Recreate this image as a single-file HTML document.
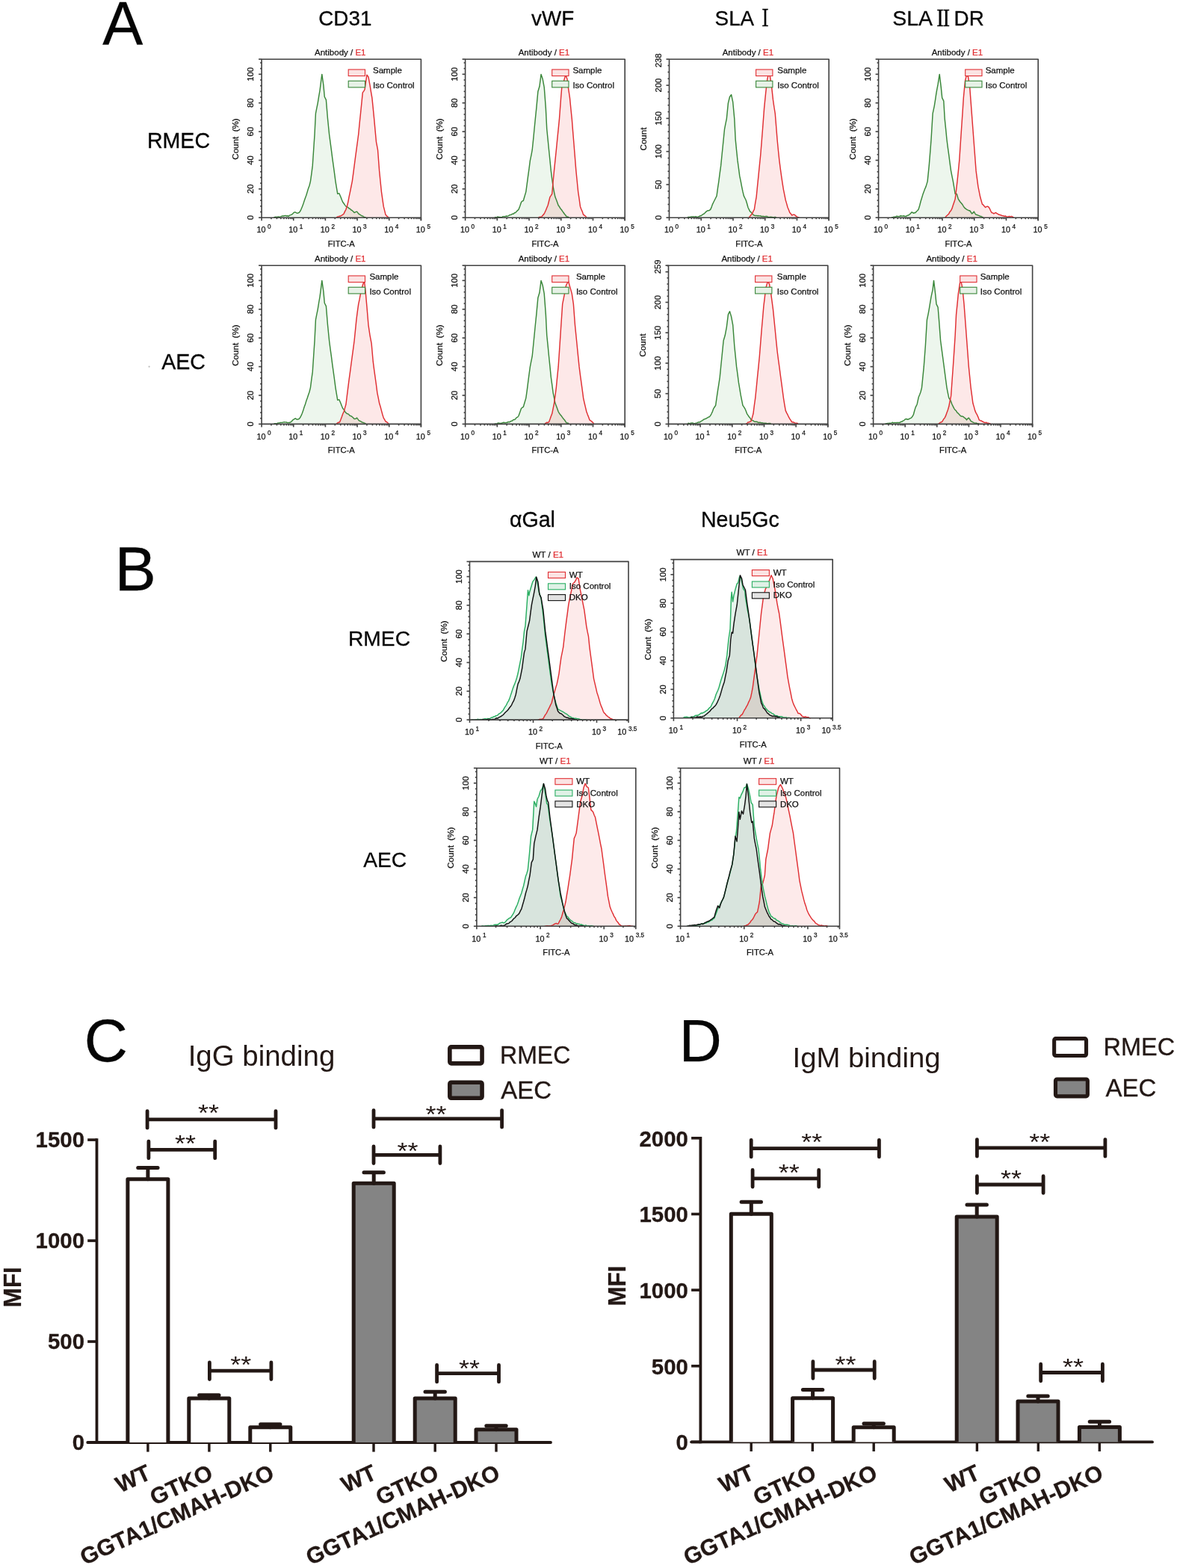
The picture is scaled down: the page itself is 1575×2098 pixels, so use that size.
<!DOCTYPE html>
<html><head><meta charset="utf-8"><title>Figure</title>
<style>html,body{margin:0;padding:0;background:#fff;}svg{display:block;}</style></head>
<body><svg width="1575" height="2098" viewBox="0 0 1575 2098">
<rect width="1575" height="2098" fill="#fff"/>
<g font-family='Liberation Sans, Arial, Helvetica, sans-serif' fill="#050505" stroke="#050505" stroke-width="0.3">
<text x="137.3" y="59.2" font-size="81">A</text>
<text x="153.4" y="790" font-size="83">B</text>
<text x="112.8" y="1419.8" font-size="80.5">C</text>
<text x="908.8" y="1420" font-size="79">D</text>
<text x="426.3" y="33.8" font-size="27.8">CD31</text>
<text x="711" y="33.8" font-size="27.8">vWF</text>
<text x="956.6" y="33.8" font-size="27.8">SLA</text>
<text transform="translate(1014 35) scale(0.66 1)" font-family="'Noto Serif CJK SC', serif" font-weight="600" font-size="30.3">&#x2160;</text>
<text x="1194.3" y="33.9" font-size="28.4">SLA</text>
<text transform="translate(1250.3 34.7) scale(0.81 1)" font-family="'Noto Serif CJK SC', serif" font-weight="600" font-size="29.5">&#x2161;</text>
<text x="1276.6" y="33.9" font-size="27.8">DR</text>
<text x="196.9" y="198" font-size="28.6">RMEC</text>
<text x="216.2" y="493.7" font-size="28.6">AEC</text>
<text x="681.9" y="705.3" font-size="28.6">&#x3b1;Gal</text>
<text x="937.9" y="705.3" font-size="28.6">Neu5Gc</text>
<text x="466" y="863.7" font-size="28.2">RMEC</text>
<text x="486.2" y="1159.9" font-size="28.2">AEC</text>
</g>
<g>
<path d="M366.56 290.81 L367.95 290.5 L369.35 290.19 L370.75 290.63 L372.14 289.87 L373.54 290.27 L374.94 290.11 L376.33 289.61 L377.73 288.93 L379.13 289.07 L380.52 288.71 L381.92 288.38 L383.32 288.99 L384.71 288.76 L386.11 289.41 L387.51 288.09 L388.9 287.58 L390.3 287.15 L391.7 285.92 L393.1 284.46 L394.49 283.83 L395.89 284.22 L397.29 285.22 L398.68 285.01 L400.08 284.52 L401.48 282.92 L402.87 280.33 L404.27 276.93 L405.67 273.35 L407.06 269.05 L408.46 264.97 L409.86 261.3 L411.25 256.59 L412.65 251.9 L414.05 248.21 L415.44 242.62 L416.84 232.54 L418.24 221.67 L419.63 200.71 L421.03 179.76 L422.43 151.83 L423.83 144.61 L425.22 137.86 L426.62 129.08 L428.02 121.1 L429.41 109.85 L430.81 99.44 L432.9 114.11 L434.3 129.48 L436.4 133.67 L438.49 158.81 L440.59 179.76 L441.98 190.03 L443.38 200.71 L444.78 211.54 L446.17 221.67 L447.57 231.79 L448.97 242.62 L450.37 251.09 L451.76 259.38 L453.86 258.68 L455.95 263.57 L457.35 267.22 L458.75 270.56 L460.14 272.28 L461.54 274.33 L462.94 276.14 L464.33 276.59 L465.73 277.52 L467.13 278.94 L468.52 279.54 L469.92 281 L471.32 281.73 L472.71 283.05 L474.11 284.52 L475.86 283.62 L477.6 283.13 L479.7 285.92 L481.1 286.95 L482.49 287.73 L483.89 288.71 L485.29 289.02 L486.68 290.09 L488.08 290.5 L489.48 290.81 L489.48 291.2 L366.56 291.2 Z" fill="#3a9a3a" fill-opacity="0.09" stroke="none"/>
<path d="M450.37 290.81 L451.76 289.97 L453.16 289.77 L454.56 289.16 L455.95 288.99 L457.35 288.02 L458.75 287.22 L460.14 285.92 L461.54 282.89 L462.94 280.33 L464.33 275.97 L465.73 270.56 L467.13 263.15 L468.52 256.59 L469.92 249.51 L471.32 242.62 L472.71 232.43 L474.11 221.67 L475.51 210.81 L476.9 200.71 L478.3 190.23 L479.7 179.76 L481.1 165.29 L482.49 151.83 L483.89 138.04 L485.29 123.89 L486.68 122.08 L488.08 119.7 L489.48 110 L490.87 100.14 L492.97 102.94 L495.06 114.11 L496.46 122.91 L497.86 130.87 L499.25 144.64 L500.65 158.81 L502.05 174.39 L503.44 189.54 L505.54 200.71 L507.63 228.65 L509.03 242.72 L510.43 256.59 L511.83 266.45 L513.22 276.14 L514.62 281.68 L516.02 287.32 L517.41 288.86 L518.81 290.13 L520.21 290.81 L520.21 291.2 L450.37 291.2 Z" fill="#f04040" fill-opacity="0.12" stroke="none"/>
<path d="M366.56 290.81 L367.95 290.5 L369.35 290.19 L370.75 290.63 L372.14 289.87 L373.54 290.27 L374.94 290.11 L376.33 289.61 L377.73 288.93 L379.13 289.07 L380.52 288.71 L381.92 288.38 L383.32 288.99 L384.71 288.76 L386.11 289.41 L387.51 288.09 L388.9 287.58 L390.3 287.15 L391.7 285.92 L393.1 284.46 L394.49 283.83 L395.89 284.22 L397.29 285.22 L398.68 285.01 L400.08 284.52 L401.48 282.92 L402.87 280.33 L404.27 276.93 L405.67 273.35 L407.06 269.05 L408.46 264.97 L409.86 261.3 L411.25 256.59 L412.65 251.9 L414.05 248.21 L415.44 242.62 L416.84 232.54 L418.24 221.67 L419.63 200.71 L421.03 179.76 L422.43 151.83 L423.83 144.61 L425.22 137.86 L426.62 129.08 L428.02 121.1 L429.41 109.85 L430.81 99.44 L432.9 114.11 L434.3 129.48 L436.4 133.67 L438.49 158.81 L440.59 179.76 L441.98 190.03 L443.38 200.71 L444.78 211.54 L446.17 221.67 L447.57 231.79 L448.97 242.62 L450.37 251.09 L451.76 259.38 L453.86 258.68 L455.95 263.57 L457.35 267.22 L458.75 270.56 L460.14 272.28 L461.54 274.33 L462.94 276.14 L464.33 276.59 L465.73 277.52 L467.13 278.94 L468.52 279.54 L469.92 281 L471.32 281.73 L472.71 283.05 L474.11 284.52 L475.86 283.62 L477.6 283.13 L479.7 285.92 L481.1 286.95 L482.49 287.73 L483.89 288.71 L485.29 289.02 L486.68 290.09 L488.08 290.5 L489.48 290.81" fill="none" stroke="#3a873a" stroke-width="1.45" stroke-linejoin="round"/>
<path d="M450.37 290.81 L451.76 289.97 L453.16 289.77 L454.56 289.16 L455.95 288.99 L457.35 288.02 L458.75 287.22 L460.14 285.92 L461.54 282.89 L462.94 280.33 L464.33 275.97 L465.73 270.56 L467.13 263.15 L468.52 256.59 L469.92 249.51 L471.32 242.62 L472.71 232.43 L474.11 221.67 L475.51 210.81 L476.9 200.71 L478.3 190.23 L479.7 179.76 L481.1 165.29 L482.49 151.83 L483.89 138.04 L485.29 123.89 L486.68 122.08 L488.08 119.7 L489.48 110 L490.87 100.14 L492.97 102.94 L495.06 114.11 L496.46 122.91 L497.86 130.87 L499.25 144.64 L500.65 158.81 L502.05 174.39 L503.44 189.54 L505.54 200.71 L507.63 228.65 L509.03 242.72 L510.43 256.59 L511.83 266.45 L513.22 276.14 L514.62 281.68 L516.02 287.32 L517.41 288.86 L518.81 290.13 L520.21 290.81" fill="none" stroke="#e02f33" stroke-width="1.45" stroke-linejoin="round"/>
<rect x="466.2" y="93" width="22.3" height="8.6" fill="#fbe3e3" stroke="#e02f33" stroke-width="1.1"/>
<rect x="466.2" y="108.3" width="22.3" height="8.6" fill="#e6f1e6" stroke="#3a873a" stroke-width="1.1"/>
<g font-family='Liberation Sans, Arial, Helvetica, sans-serif' fill="#111111" font-size="11.5" stroke="#111111" stroke-width="0.25">
<text x="499" y="97.8">Sample</text>
<text x="499" y="117.7">Iso Control</text>
</g>
<g stroke="#404040" stroke-width="1.6" fill="none" stroke-linejoin="round">
<rect x="350.1" y="79.2" width="213.3" height="212"/>
<line x1="346.1" y1="291.2" x2="350.1" y2="291.2"/><line x1="348.1" y1="283.53" x2="350.1" y2="283.53"/><line x1="348.1" y1="275.85" x2="350.1" y2="275.85"/><line x1="348.1" y1="268.18" x2="350.1" y2="268.18"/><line x1="348.1" y1="260.5" x2="350.1" y2="260.5"/><line x1="346.1" y1="252.83" x2="350.1" y2="252.83"/><line x1="348.1" y1="245.15" x2="350.1" y2="245.15"/><line x1="348.1" y1="237.48" x2="350.1" y2="237.48"/><line x1="348.1" y1="229.81" x2="350.1" y2="229.81"/><line x1="348.1" y1="222.13" x2="350.1" y2="222.13"/><line x1="346.1" y1="214.46" x2="350.1" y2="214.46"/><line x1="348.1" y1="206.78" x2="350.1" y2="206.78"/><line x1="348.1" y1="199.11" x2="350.1" y2="199.11"/><line x1="348.1" y1="191.44" x2="350.1" y2="191.44"/><line x1="348.1" y1="183.76" x2="350.1" y2="183.76"/><line x1="346.1" y1="176.09" x2="350.1" y2="176.09"/><line x1="348.1" y1="168.41" x2="350.1" y2="168.41"/><line x1="348.1" y1="160.74" x2="350.1" y2="160.74"/><line x1="348.1" y1="153.06" x2="350.1" y2="153.06"/><line x1="348.1" y1="145.39" x2="350.1" y2="145.39"/><line x1="346.1" y1="137.72" x2="350.1" y2="137.72"/><line x1="348.1" y1="130.04" x2="350.1" y2="130.04"/><line x1="348.1" y1="122.37" x2="350.1" y2="122.37"/><line x1="348.1" y1="114.69" x2="350.1" y2="114.69"/><line x1="348.1" y1="107.02" x2="350.1" y2="107.02"/><line x1="346.1" y1="99.34" x2="350.1" y2="99.34"/><line x1="348.1" y1="91.67" x2="350.1" y2="91.67"/><line x1="348.1" y1="84" x2="350.1" y2="84"/><line x1="346.1" y1="79.2" x2="350.1" y2="79.2"/><line x1="350.1" y1="291.2" x2="350.1" y2="295.2"/><line x1="362.94" y1="291.2" x2="362.94" y2="293.2"/><line x1="370.45" y1="291.2" x2="370.45" y2="293.2"/><line x1="375.78" y1="291.2" x2="375.78" y2="293.2"/><line x1="379.92" y1="291.2" x2="379.92" y2="293.2"/><line x1="383.3" y1="291.2" x2="383.3" y2="293.2"/><line x1="386.15" y1="291.2" x2="386.15" y2="293.2"/><line x1="388.63" y1="291.2" x2="388.63" y2="293.2"/><line x1="390.81" y1="291.2" x2="390.81" y2="293.2"/><line x1="392.76" y1="291.2" x2="392.76" y2="295.2"/><line x1="405.6" y1="291.2" x2="405.6" y2="293.2"/><line x1="413.11" y1="291.2" x2="413.11" y2="293.2"/><line x1="418.44" y1="291.2" x2="418.44" y2="293.2"/><line x1="422.58" y1="291.2" x2="422.58" y2="293.2"/><line x1="425.96" y1="291.2" x2="425.96" y2="293.2"/><line x1="428.81" y1="291.2" x2="428.81" y2="293.2"/><line x1="431.29" y1="291.2" x2="431.29" y2="293.2"/><line x1="433.47" y1="291.2" x2="433.47" y2="293.2"/><line x1="435.42" y1="291.2" x2="435.42" y2="295.2"/><line x1="448.26" y1="291.2" x2="448.26" y2="293.2"/><line x1="455.77" y1="291.2" x2="455.77" y2="293.2"/><line x1="461.1" y1="291.2" x2="461.1" y2="293.2"/><line x1="465.24" y1="291.2" x2="465.24" y2="293.2"/><line x1="468.62" y1="291.2" x2="468.62" y2="293.2"/><line x1="471.47" y1="291.2" x2="471.47" y2="293.2"/><line x1="473.95" y1="291.2" x2="473.95" y2="293.2"/><line x1="476.13" y1="291.2" x2="476.13" y2="293.2"/><line x1="478.08" y1="291.2" x2="478.08" y2="295.2"/><line x1="490.92" y1="291.2" x2="490.92" y2="293.2"/><line x1="498.43" y1="291.2" x2="498.43" y2="293.2"/><line x1="503.76" y1="291.2" x2="503.76" y2="293.2"/><line x1="507.9" y1="291.2" x2="507.9" y2="293.2"/><line x1="511.28" y1="291.2" x2="511.28" y2="293.2"/><line x1="514.13" y1="291.2" x2="514.13" y2="293.2"/><line x1="516.61" y1="291.2" x2="516.61" y2="293.2"/><line x1="518.79" y1="291.2" x2="518.79" y2="293.2"/><line x1="520.74" y1="291.2" x2="520.74" y2="295.2"/><line x1="533.58" y1="291.2" x2="533.58" y2="293.2"/><line x1="541.09" y1="291.2" x2="541.09" y2="293.2"/><line x1="546.42" y1="291.2" x2="546.42" y2="293.2"/><line x1="550.56" y1="291.2" x2="550.56" y2="293.2"/><line x1="553.94" y1="291.2" x2="553.94" y2="293.2"/><line x1="556.79" y1="291.2" x2="556.79" y2="293.2"/><line x1="559.27" y1="291.2" x2="559.27" y2="293.2"/><line x1="561.45" y1="291.2" x2="561.45" y2="293.2"/><line x1="563.4" y1="291.2" x2="563.4" y2="295.2"/><line x1="563.4" y1="291.2" x2="563.4" y2="295.2"/>
</g>
<g font-family='Liberation Sans, Arial, Helvetica, sans-serif' fill="#111111" stroke="#111111" stroke-width="0.25">
<text x="339.4" y="291.2" transform="rotate(-90 339.4 291.2)" text-anchor="middle" font-size="11.3">0</text><text x="339.4" y="252.83" transform="rotate(-90 339.4 252.83)" text-anchor="middle" font-size="11.3">20</text><text x="339.4" y="214.46" transform="rotate(-90 339.4 214.46)" text-anchor="middle" font-size="11.3">40</text><text x="339.4" y="176.09" transform="rotate(-90 339.4 176.09)" text-anchor="middle" font-size="11.3">60</text><text x="339.4" y="137.72" transform="rotate(-90 339.4 137.72)" text-anchor="middle" font-size="11.3">80</text><text x="339.4" y="99.34" transform="rotate(-90 339.4 99.34)" text-anchor="middle" font-size="11.3">100</text><text x="343.5" y="311.4" font-size="10.8">10<tspan dx="2.6" dy="-5.2" font-size="8.2">0</tspan></text><text x="386.16" y="311.4" font-size="10.8">10<tspan dx="2.6" dy="-5.2" font-size="8.2">1</tspan></text><text x="428.82" y="311.4" font-size="10.8">10<tspan dx="2.6" dy="-5.2" font-size="8.2">2</tspan></text><text x="471.48" y="311.4" font-size="10.8">10<tspan dx="2.6" dy="-5.2" font-size="8.2">3</tspan></text><text x="514.14" y="311.4" font-size="10.8">10<tspan dx="2.6" dy="-5.2" font-size="8.2">4</tspan></text><text x="556.8" y="311.4" font-size="10.8">10<tspan dx="2.6" dy="-5.2" font-size="8.2">5</tspan></text><text x="456.75" y="330" text-anchor="middle" font-size="11.2">FITC-A</text><text x="319.4" y="186" transform="rotate(-90 319.4 186)" text-anchor="middle" font-size="11.6" xml:space="preserve">Count  (%)</text><text x="455.25" y="73.6" text-anchor="middle" font-size="11.5">Antibody / <tspan fill="#e02f33" stroke="#e02f33">E1</tspan></text>
</g>
</g>
<g>
<path d="M661.9 290.81 L663.3 290.66 L664.7 290.76 L666.1 289.98 L667.49 290.57 L668.89 290.39 L670.29 290.65 L671.68 290.35 L673.08 289.64 L674.48 289.64 L675.87 289.83 L677.27 289 L678.67 289.41 L680.06 288.85 L681.46 288 L682.86 287.42 L684.25 287.32 L685.65 286.13 L687.05 286.22 L688.44 284.81 L689.84 284.52 L691.24 282.85 L692.63 281.61 L694.03 280.33 L695.78 275.85 L697.52 270.56 L698.92 269.05 L700.32 268.46 L702.06 262.47 L703.81 256.59 L705.21 246.17 L706.6 235.63 L708 225.58 L709.4 214.68 L710.79 208.05 L712.19 200.71 L713.59 187.15 L714.98 172.78 L716.38 158.57 L717.78 144.84 L719.87 122.49 L721.97 115.51 L724.06 99.44 L726.16 105.73 L728.25 116.9 L730.35 144.84 L731.75 172.78 L733.14 186.65 L734.54 200.71 L735.94 214.53 L737.33 228.65 L738.73 239.55 L740.13 249.6 L741.52 257.09 L742.92 263.57 L744.32 266.91 L745.71 270.67 L747.11 274.75 L748.51 276.55 L749.9 278.94 L751.3 280.51 L752.7 282.64 L754.1 284.52 L755.49 286.48 L756.89 287.99 L758.29 290.11 L759.68 289.91 L761.08 290.81 L761.08 291.2 L661.9 291.2 Z" fill="#3a9a3a" fill-opacity="0.09" stroke="none"/>
<path d="M720.57 290.81 L721.97 290.49 L723.37 290.2 L724.76 290.11 L726.16 288.32 L727.56 286.88 L728.95 284.52 L730.35 281.47 L731.75 278.02 L733.14 274.75 L734.54 269.29 L735.94 263.57 L737.33 261.67 L738.73 259.38 L740.13 242.62 L741.52 228.16 L742.92 214.68 L744.32 201.15 L745.71 186.75 L747.11 173.09 L748.51 158.81 L750.6 130.87 L752 114.11 L753.4 114.81 L754.79 107.13 L756.89 100.14 L758.98 105.73 L760.38 116.9 L762.48 130.87 L763.87 145.25 L765.27 158.81 L766.67 176.6 L768.06 193.73 L769.46 211.07 L770.86 228.65 L772.25 242.51 L773.65 256.59 L775.05 265.93 L776.44 276.14 L777.84 280.02 L779.24 283.11 L780.63 287.32 L782.03 288.01 L783.43 289.33 L784.83 290.81 L784.83 291.2 L720.57 291.2 Z" fill="#f04040" fill-opacity="0.12" stroke="none"/>
<path d="M661.9 290.81 L663.3 290.66 L664.7 290.76 L666.1 289.98 L667.49 290.57 L668.89 290.39 L670.29 290.65 L671.68 290.35 L673.08 289.64 L674.48 289.64 L675.87 289.83 L677.27 289 L678.67 289.41 L680.06 288.85 L681.46 288 L682.86 287.42 L684.25 287.32 L685.65 286.13 L687.05 286.22 L688.44 284.81 L689.84 284.52 L691.24 282.85 L692.63 281.61 L694.03 280.33 L695.78 275.85 L697.52 270.56 L698.92 269.05 L700.32 268.46 L702.06 262.47 L703.81 256.59 L705.21 246.17 L706.6 235.63 L708 225.58 L709.4 214.68 L710.79 208.05 L712.19 200.71 L713.59 187.15 L714.98 172.78 L716.38 158.57 L717.78 144.84 L719.87 122.49 L721.97 115.51 L724.06 99.44 L726.16 105.73 L728.25 116.9 L730.35 144.84 L731.75 172.78 L733.14 186.65 L734.54 200.71 L735.94 214.53 L737.33 228.65 L738.73 239.55 L740.13 249.6 L741.52 257.09 L742.92 263.57 L744.32 266.91 L745.71 270.67 L747.11 274.75 L748.51 276.55 L749.9 278.94 L751.3 280.51 L752.7 282.64 L754.1 284.52 L755.49 286.48 L756.89 287.99 L758.29 290.11 L759.68 289.91 L761.08 290.81" fill="none" stroke="#3a873a" stroke-width="1.45" stroke-linejoin="round"/>
<path d="M720.57 290.81 L721.97 290.49 L723.37 290.2 L724.76 290.11 L726.16 288.32 L727.56 286.88 L728.95 284.52 L730.35 281.47 L731.75 278.02 L733.14 274.75 L734.54 269.29 L735.94 263.57 L737.33 261.67 L738.73 259.38 L740.13 242.62 L741.52 228.16 L742.92 214.68 L744.32 201.15 L745.71 186.75 L747.11 173.09 L748.51 158.81 L750.6 130.87 L752 114.11 L753.4 114.81 L754.79 107.13 L756.89 100.14 L758.98 105.73 L760.38 116.9 L762.48 130.87 L763.87 145.25 L765.27 158.81 L766.67 176.6 L768.06 193.73 L769.46 211.07 L770.86 228.65 L772.25 242.51 L773.65 256.59 L775.05 265.93 L776.44 276.14 L777.84 280.02 L779.24 283.11 L780.63 287.32 L782.03 288.01 L783.43 289.33 L784.83 290.81" fill="none" stroke="#e02f33" stroke-width="1.45" stroke-linejoin="round"/>
<rect x="738.7" y="93" width="22.3" height="8.6" fill="#fbe3e3" stroke="#e02f33" stroke-width="1.1"/>
<rect x="738.7" y="108.3" width="22.3" height="8.6" fill="#e6f1e6" stroke="#3a873a" stroke-width="1.1"/>
<g font-family='Liberation Sans, Arial, Helvetica, sans-serif' fill="#111111" font-size="11.5" stroke="#111111" stroke-width="0.25">
<text x="766.4" y="97.8">Sample</text>
<text x="766.4" y="117.7">Iso Control</text>
</g>
<g stroke="#404040" stroke-width="1.6" fill="none" stroke-linejoin="round">
<rect x="622.6" y="79.2" width="213.6" height="212"/>
<line x1="618.6" y1="291.2" x2="622.6" y2="291.2"/><line x1="620.6" y1="283.53" x2="622.6" y2="283.53"/><line x1="620.6" y1="275.85" x2="622.6" y2="275.85"/><line x1="620.6" y1="268.18" x2="622.6" y2="268.18"/><line x1="620.6" y1="260.5" x2="622.6" y2="260.5"/><line x1="618.6" y1="252.83" x2="622.6" y2="252.83"/><line x1="620.6" y1="245.15" x2="622.6" y2="245.15"/><line x1="620.6" y1="237.48" x2="622.6" y2="237.48"/><line x1="620.6" y1="229.81" x2="622.6" y2="229.81"/><line x1="620.6" y1="222.13" x2="622.6" y2="222.13"/><line x1="618.6" y1="214.46" x2="622.6" y2="214.46"/><line x1="620.6" y1="206.78" x2="622.6" y2="206.78"/><line x1="620.6" y1="199.11" x2="622.6" y2="199.11"/><line x1="620.6" y1="191.44" x2="622.6" y2="191.44"/><line x1="620.6" y1="183.76" x2="622.6" y2="183.76"/><line x1="618.6" y1="176.09" x2="622.6" y2="176.09"/><line x1="620.6" y1="168.41" x2="622.6" y2="168.41"/><line x1="620.6" y1="160.74" x2="622.6" y2="160.74"/><line x1="620.6" y1="153.06" x2="622.6" y2="153.06"/><line x1="620.6" y1="145.39" x2="622.6" y2="145.39"/><line x1="618.6" y1="137.72" x2="622.6" y2="137.72"/><line x1="620.6" y1="130.04" x2="622.6" y2="130.04"/><line x1="620.6" y1="122.37" x2="622.6" y2="122.37"/><line x1="620.6" y1="114.69" x2="622.6" y2="114.69"/><line x1="620.6" y1="107.02" x2="622.6" y2="107.02"/><line x1="618.6" y1="99.34" x2="622.6" y2="99.34"/><line x1="620.6" y1="91.67" x2="622.6" y2="91.67"/><line x1="620.6" y1="84" x2="622.6" y2="84"/><line x1="618.6" y1="79.2" x2="622.6" y2="79.2"/><line x1="622.6" y1="291.2" x2="622.6" y2="295.2"/><line x1="635.46" y1="291.2" x2="635.46" y2="293.2"/><line x1="642.98" y1="291.2" x2="642.98" y2="293.2"/><line x1="648.32" y1="291.2" x2="648.32" y2="293.2"/><line x1="652.46" y1="291.2" x2="652.46" y2="293.2"/><line x1="655.84" y1="291.2" x2="655.84" y2="293.2"/><line x1="658.7" y1="291.2" x2="658.7" y2="293.2"/><line x1="661.18" y1="291.2" x2="661.18" y2="293.2"/><line x1="663.37" y1="291.2" x2="663.37" y2="293.2"/><line x1="665.32" y1="291.2" x2="665.32" y2="295.2"/><line x1="678.18" y1="291.2" x2="678.18" y2="293.2"/><line x1="685.7" y1="291.2" x2="685.7" y2="293.2"/><line x1="691.04" y1="291.2" x2="691.04" y2="293.2"/><line x1="695.18" y1="291.2" x2="695.18" y2="293.2"/><line x1="698.56" y1="291.2" x2="698.56" y2="293.2"/><line x1="701.42" y1="291.2" x2="701.42" y2="293.2"/><line x1="703.9" y1="291.2" x2="703.9" y2="293.2"/><line x1="706.09" y1="291.2" x2="706.09" y2="293.2"/><line x1="708.04" y1="291.2" x2="708.04" y2="295.2"/><line x1="720.9" y1="291.2" x2="720.9" y2="293.2"/><line x1="728.42" y1="291.2" x2="728.42" y2="293.2"/><line x1="733.76" y1="291.2" x2="733.76" y2="293.2"/><line x1="737.9" y1="291.2" x2="737.9" y2="293.2"/><line x1="741.28" y1="291.2" x2="741.28" y2="293.2"/><line x1="744.14" y1="291.2" x2="744.14" y2="293.2"/><line x1="746.62" y1="291.2" x2="746.62" y2="293.2"/><line x1="748.81" y1="291.2" x2="748.81" y2="293.2"/><line x1="750.76" y1="291.2" x2="750.76" y2="295.2"/><line x1="763.62" y1="291.2" x2="763.62" y2="293.2"/><line x1="771.14" y1="291.2" x2="771.14" y2="293.2"/><line x1="776.48" y1="291.2" x2="776.48" y2="293.2"/><line x1="780.62" y1="291.2" x2="780.62" y2="293.2"/><line x1="784" y1="291.2" x2="784" y2="293.2"/><line x1="786.86" y1="291.2" x2="786.86" y2="293.2"/><line x1="789.34" y1="291.2" x2="789.34" y2="293.2"/><line x1="791.53" y1="291.2" x2="791.53" y2="293.2"/><line x1="793.48" y1="291.2" x2="793.48" y2="295.2"/><line x1="806.34" y1="291.2" x2="806.34" y2="293.2"/><line x1="813.86" y1="291.2" x2="813.86" y2="293.2"/><line x1="819.2" y1="291.2" x2="819.2" y2="293.2"/><line x1="823.34" y1="291.2" x2="823.34" y2="293.2"/><line x1="826.72" y1="291.2" x2="826.72" y2="293.2"/><line x1="829.58" y1="291.2" x2="829.58" y2="293.2"/><line x1="832.06" y1="291.2" x2="832.06" y2="293.2"/><line x1="834.25" y1="291.2" x2="834.25" y2="293.2"/><line x1="836.2" y1="291.2" x2="836.2" y2="295.2"/><line x1="836.2" y1="291.2" x2="836.2" y2="295.2"/>
</g>
<g font-family='Liberation Sans, Arial, Helvetica, sans-serif' fill="#111111" stroke="#111111" stroke-width="0.25">
<text x="611.9" y="291.2" transform="rotate(-90 611.9 291.2)" text-anchor="middle" font-size="11.3">0</text><text x="611.9" y="252.83" transform="rotate(-90 611.9 252.83)" text-anchor="middle" font-size="11.3">20</text><text x="611.9" y="214.46" transform="rotate(-90 611.9 214.46)" text-anchor="middle" font-size="11.3">40</text><text x="611.9" y="176.09" transform="rotate(-90 611.9 176.09)" text-anchor="middle" font-size="11.3">60</text><text x="611.9" y="137.72" transform="rotate(-90 611.9 137.72)" text-anchor="middle" font-size="11.3">80</text><text x="611.9" y="99.34" transform="rotate(-90 611.9 99.34)" text-anchor="middle" font-size="11.3">100</text><text x="616" y="311.4" font-size="10.8">10<tspan dx="2.6" dy="-5.2" font-size="8.2">0</tspan></text><text x="658.72" y="311.4" font-size="10.8">10<tspan dx="2.6" dy="-5.2" font-size="8.2">1</tspan></text><text x="701.44" y="311.4" font-size="10.8">10<tspan dx="2.6" dy="-5.2" font-size="8.2">2</tspan></text><text x="744.16" y="311.4" font-size="10.8">10<tspan dx="2.6" dy="-5.2" font-size="8.2">3</tspan></text><text x="786.88" y="311.4" font-size="10.8">10<tspan dx="2.6" dy="-5.2" font-size="8.2">4</tspan></text><text x="829.6" y="311.4" font-size="10.8">10<tspan dx="2.6" dy="-5.2" font-size="8.2">5</tspan></text><text x="729.4" y="330" text-anchor="middle" font-size="11.2">FITC-A</text><text x="591.9" y="186" transform="rotate(-90 591.9 186)" text-anchor="middle" font-size="11.6" xml:space="preserve">Count  (%)</text><text x="727.9" y="73.6" text-anchor="middle" font-size="11.5">Antibody / <tspan fill="#e02f33" stroke="#e02f33">E1</tspan></text>
</g>
</g>
<g>
<path d="M919.94 290.81 L921.33 290.37 L922.73 290.49 L924.13 290.11 L925.52 289.98 L926.92 290.08 L928.32 289.95 L929.71 290.17 L931.11 289.73 L932.51 290.59 L933.9 290.11 L935.3 289.77 L936.7 288.79 L938.1 288.71 L939.49 287.51 L940.89 286.68 L942.29 285.92 L943.68 284.37 L945.08 283.13 L946.48 282.01 L947.87 281.73 L949.27 281.42 L950.67 280.33 L952.06 277.38 L953.46 273.35 L954.86 270.52 L956.25 267.76 L957.65 264.95 L959.05 262.17 L960.44 251.94 L961.84 242.62 L963.24 231.71 L964.63 221.67 L966.03 207.53 L967.43 193.73 L969.52 172.78 L970.92 165.53 L972.32 158.81 L974.41 137.86 L976.51 129.48 L978.6 126.68 L980.7 136.46 L982.79 158.81 L984.19 186.75 L985.59 201.08 L986.98 214.68 L988.38 224.79 L989.78 235.63 L991.17 242.09 L992.57 249.6 L993.97 256.38 L995.37 262.17 L996.76 265 L998.16 267.76 L999.56 272.26 L1000.95 277.54 L1002.35 280.38 L1003.75 283.13 L1005.14 284 L1006.54 285.95 L1007.94 287.32 L1009.33 288.19 L1010.73 288.42 L1012.13 288.58 L1013.52 288.71 L1014.92 288.59 L1016.32 288.85 L1017.71 288.77 L1019.11 289.57 L1020.51 289.41 L1021.9 289.54 L1023.3 289.89 L1024.7 289.49 L1026.1 289.46 L1027.49 290.19 L1028.89 290.47 L1030.29 290.41 L1031.68 290.11 L1033.08 290.59 L1034.48 290.74 L1035.87 290.79 L1037.27 290.37 L1038.67 290.81 L1038.67 291.2 L919.94 291.2 Z" fill="#3a9a3a" fill-opacity="0.09" stroke="none"/>
<path d="M1002.35 290.81 L1003.75 289.2 L1005.14 287.39 L1006.54 285.92 L1007.94 282.61 L1009.33 280.33 L1010.73 271.43 L1012.13 263.57 L1013.52 249.36 L1014.92 235.63 L1016.32 221.4 L1017.71 207.7 L1019.11 190.45 L1020.51 172.78 L1022.6 144.84 L1024.7 123.89 L1026.79 105.73 L1028.19 100.14 L1030.29 101.54 L1032.38 114.11 L1034.48 133.67 L1035.87 143.25 L1037.27 151.83 L1038.67 169.23 L1040.06 186.75 L1041.46 201.2 L1042.86 214.68 L1044.25 225.7 L1045.65 235.63 L1047.05 245.21 L1048.44 253.79 L1049.84 260.63 L1051.24 267.76 L1052.63 272.34 L1054.03 277.54 L1055.43 280.73 L1056.83 284.52 L1058.22 285.94 L1059.62 288.02 L1061.37 287.34 L1063.11 287.32 L1064.86 288.85 L1066.6 290.11 L1068 290.9 L1069.4 290.81 L1069.4 291.2 L1002.35 291.2 Z" fill="#f04040" fill-opacity="0.12" stroke="none"/>
<path d="M919.94 290.81 L921.33 290.37 L922.73 290.49 L924.13 290.11 L925.52 289.98 L926.92 290.08 L928.32 289.95 L929.71 290.17 L931.11 289.73 L932.51 290.59 L933.9 290.11 L935.3 289.77 L936.7 288.79 L938.1 288.71 L939.49 287.51 L940.89 286.68 L942.29 285.92 L943.68 284.37 L945.08 283.13 L946.48 282.01 L947.87 281.73 L949.27 281.42 L950.67 280.33 L952.06 277.38 L953.46 273.35 L954.86 270.52 L956.25 267.76 L957.65 264.95 L959.05 262.17 L960.44 251.94 L961.84 242.62 L963.24 231.71 L964.63 221.67 L966.03 207.53 L967.43 193.73 L969.52 172.78 L970.92 165.53 L972.32 158.81 L974.41 137.86 L976.51 129.48 L978.6 126.68 L980.7 136.46 L982.79 158.81 L984.19 186.75 L985.59 201.08 L986.98 214.68 L988.38 224.79 L989.78 235.63 L991.17 242.09 L992.57 249.6 L993.97 256.38 L995.37 262.17 L996.76 265 L998.16 267.76 L999.56 272.26 L1000.95 277.54 L1002.35 280.38 L1003.75 283.13 L1005.14 284 L1006.54 285.95 L1007.94 287.32 L1009.33 288.19 L1010.73 288.42 L1012.13 288.58 L1013.52 288.71 L1014.92 288.59 L1016.32 288.85 L1017.71 288.77 L1019.11 289.57 L1020.51 289.41 L1021.9 289.54 L1023.3 289.89 L1024.7 289.49 L1026.1 289.46 L1027.49 290.19 L1028.89 290.47 L1030.29 290.41 L1031.68 290.11 L1033.08 290.59 L1034.48 290.74 L1035.87 290.79 L1037.27 290.37 L1038.67 290.81" fill="none" stroke="#3a873a" stroke-width="1.45" stroke-linejoin="round"/>
<path d="M1002.35 290.81 L1003.75 289.2 L1005.14 287.39 L1006.54 285.92 L1007.94 282.61 L1009.33 280.33 L1010.73 271.43 L1012.13 263.57 L1013.52 249.36 L1014.92 235.63 L1016.32 221.4 L1017.71 207.7 L1019.11 190.45 L1020.51 172.78 L1022.6 144.84 L1024.7 123.89 L1026.79 105.73 L1028.19 100.14 L1030.29 101.54 L1032.38 114.11 L1034.48 133.67 L1035.87 143.25 L1037.27 151.83 L1038.67 169.23 L1040.06 186.75 L1041.46 201.2 L1042.86 214.68 L1044.25 225.7 L1045.65 235.63 L1047.05 245.21 L1048.44 253.79 L1049.84 260.63 L1051.24 267.76 L1052.63 272.34 L1054.03 277.54 L1055.43 280.73 L1056.83 284.52 L1058.22 285.94 L1059.62 288.02 L1061.37 287.34 L1063.11 287.32 L1064.86 288.85 L1066.6 290.11 L1068 290.9 L1069.4 290.81" fill="none" stroke="#e02f33" stroke-width="1.45" stroke-linejoin="round"/>
<rect x="1011.6" y="93" width="22.3" height="8.6" fill="#fbe3e3" stroke="#e02f33" stroke-width="1.1"/>
<rect x="1011.6" y="108.3" width="22.3" height="8.6" fill="#e6f1e6" stroke="#3a873a" stroke-width="1.1"/>
<g font-family='Liberation Sans, Arial, Helvetica, sans-serif' fill="#111111" font-size="11.5" stroke="#111111" stroke-width="0.25">
<text x="1040.3" y="97.8">Sample</text>
<text x="1040.3" y="117.7">Iso Control</text>
</g>
<g stroke="#404040" stroke-width="1.6" fill="none" stroke-linejoin="round">
<rect x="895.5" y="79.2" width="213.7" height="212"/>
<line x1="891.5" y1="291.2" x2="895.5" y2="291.2"/><line x1="893.5" y1="282.35" x2="895.5" y2="282.35"/><line x1="893.5" y1="273.5" x2="895.5" y2="273.5"/><line x1="893.5" y1="264.64" x2="895.5" y2="264.64"/><line x1="893.5" y1="255.79" x2="895.5" y2="255.79"/><line x1="891.5" y1="246.94" x2="895.5" y2="246.94"/><line x1="893.5" y1="238.09" x2="895.5" y2="238.09"/><line x1="893.5" y1="229.24" x2="895.5" y2="229.24"/><line x1="893.5" y1="220.39" x2="895.5" y2="220.39"/><line x1="893.5" y1="211.53" x2="895.5" y2="211.53"/><line x1="891.5" y1="202.68" x2="895.5" y2="202.68"/><line x1="893.5" y1="193.83" x2="895.5" y2="193.83"/><line x1="893.5" y1="184.98" x2="895.5" y2="184.98"/><line x1="893.5" y1="176.13" x2="895.5" y2="176.13"/><line x1="893.5" y1="167.28" x2="895.5" y2="167.28"/><line x1="891.5" y1="158.42" x2="895.5" y2="158.42"/><line x1="893.5" y1="149.57" x2="895.5" y2="149.57"/><line x1="893.5" y1="140.72" x2="895.5" y2="140.72"/><line x1="893.5" y1="131.87" x2="895.5" y2="131.87"/><line x1="893.5" y1="123.02" x2="895.5" y2="123.02"/><line x1="891.5" y1="114.16" x2="895.5" y2="114.16"/><line x1="893.5" y1="105.31" x2="895.5" y2="105.31"/><line x1="893.5" y1="96.46" x2="895.5" y2="96.46"/><line x1="893.5" y1="87.61" x2="895.5" y2="87.61"/><line x1="891.5" y1="79.2" x2="895.5" y2="79.2"/><line x1="895.5" y1="291.2" x2="895.5" y2="295.2"/><line x1="908.37" y1="291.2" x2="908.37" y2="293.2"/><line x1="915.89" y1="291.2" x2="915.89" y2="293.2"/><line x1="921.23" y1="291.2" x2="921.23" y2="293.2"/><line x1="925.37" y1="291.2" x2="925.37" y2="293.2"/><line x1="928.76" y1="291.2" x2="928.76" y2="293.2"/><line x1="931.62" y1="291.2" x2="931.62" y2="293.2"/><line x1="934.1" y1="291.2" x2="934.1" y2="293.2"/><line x1="936.28" y1="291.2" x2="936.28" y2="293.2"/><line x1="938.24" y1="291.2" x2="938.24" y2="295.2"/><line x1="951.11" y1="291.2" x2="951.11" y2="293.2"/><line x1="958.63" y1="291.2" x2="958.63" y2="293.2"/><line x1="963.97" y1="291.2" x2="963.97" y2="293.2"/><line x1="968.11" y1="291.2" x2="968.11" y2="293.2"/><line x1="971.5" y1="291.2" x2="971.5" y2="293.2"/><line x1="974.36" y1="291.2" x2="974.36" y2="293.2"/><line x1="976.84" y1="291.2" x2="976.84" y2="293.2"/><line x1="979.02" y1="291.2" x2="979.02" y2="293.2"/><line x1="980.98" y1="291.2" x2="980.98" y2="295.2"/><line x1="993.85" y1="291.2" x2="993.85" y2="293.2"/><line x1="1001.37" y1="291.2" x2="1001.37" y2="293.2"/><line x1="1006.71" y1="291.2" x2="1006.71" y2="293.2"/><line x1="1010.85" y1="291.2" x2="1010.85" y2="293.2"/><line x1="1014.24" y1="291.2" x2="1014.24" y2="293.2"/><line x1="1017.1" y1="291.2" x2="1017.1" y2="293.2"/><line x1="1019.58" y1="291.2" x2="1019.58" y2="293.2"/><line x1="1021.76" y1="291.2" x2="1021.76" y2="293.2"/><line x1="1023.72" y1="291.2" x2="1023.72" y2="295.2"/><line x1="1036.59" y1="291.2" x2="1036.59" y2="293.2"/><line x1="1044.11" y1="291.2" x2="1044.11" y2="293.2"/><line x1="1049.45" y1="291.2" x2="1049.45" y2="293.2"/><line x1="1053.59" y1="291.2" x2="1053.59" y2="293.2"/><line x1="1056.98" y1="291.2" x2="1056.98" y2="293.2"/><line x1="1059.84" y1="291.2" x2="1059.84" y2="293.2"/><line x1="1062.32" y1="291.2" x2="1062.32" y2="293.2"/><line x1="1064.5" y1="291.2" x2="1064.5" y2="293.2"/><line x1="1066.46" y1="291.2" x2="1066.46" y2="295.2"/><line x1="1079.33" y1="291.2" x2="1079.33" y2="293.2"/><line x1="1086.85" y1="291.2" x2="1086.85" y2="293.2"/><line x1="1092.19" y1="291.2" x2="1092.19" y2="293.2"/><line x1="1096.33" y1="291.2" x2="1096.33" y2="293.2"/><line x1="1099.72" y1="291.2" x2="1099.72" y2="293.2"/><line x1="1102.58" y1="291.2" x2="1102.58" y2="293.2"/><line x1="1105.06" y1="291.2" x2="1105.06" y2="293.2"/><line x1="1107.24" y1="291.2" x2="1107.24" y2="293.2"/><line x1="1109.2" y1="291.2" x2="1109.2" y2="295.2"/><line x1="1109.2" y1="291.2" x2="1109.2" y2="295.2"/>
</g>
<g font-family='Liberation Sans, Arial, Helvetica, sans-serif' fill="#111111" stroke="#111111" stroke-width="0.25">
<text x="884.8" y="291.2" transform="rotate(-90 884.8 291.2)" text-anchor="middle" font-size="11.3">0</text><text x="884.8" y="246.94" transform="rotate(-90 884.8 246.94)" text-anchor="middle" font-size="11.3">50</text><text x="884.8" y="202.68" transform="rotate(-90 884.8 202.68)" text-anchor="middle" font-size="11.3">100</text><text x="884.8" y="158.42" transform="rotate(-90 884.8 158.42)" text-anchor="middle" font-size="11.3">150</text><text x="884.8" y="114.16" transform="rotate(-90 884.8 114.16)" text-anchor="middle" font-size="11.3">200</text><text x="884.8" y="80.8" transform="rotate(-90 884.8 80.8)" text-anchor="middle" font-size="11.3">238</text><text x="888.9" y="311.4" font-size="10.8">10<tspan dx="2.6" dy="-5.2" font-size="8.2">0</tspan></text><text x="931.64" y="311.4" font-size="10.8">10<tspan dx="2.6" dy="-5.2" font-size="8.2">1</tspan></text><text x="974.38" y="311.4" font-size="10.8">10<tspan dx="2.6" dy="-5.2" font-size="8.2">2</tspan></text><text x="1017.12" y="311.4" font-size="10.8">10<tspan dx="2.6" dy="-5.2" font-size="8.2">3</tspan></text><text x="1059.86" y="311.4" font-size="10.8">10<tspan dx="2.6" dy="-5.2" font-size="8.2">4</tspan></text><text x="1102.6" y="311.4" font-size="10.8">10<tspan dx="2.6" dy="-5.2" font-size="8.2">5</tspan></text><text x="1002.35" y="330" text-anchor="middle" font-size="11.2">FITC-A</text><text x="864.6" y="186" transform="rotate(-90 864.6 186)" text-anchor="middle" font-size="11.6" xml:space="preserve">Count</text><text x="1000.85" y="73.6" text-anchor="middle" font-size="11.5">Antibody / <tspan fill="#e02f33" stroke="#e02f33">E1</tspan></text>
</g>
</g>
<g>
<path d="M1192.95 290.81 L1194.35 290.95 L1195.75 290.32 L1197.14 290.28 L1198.54 290.21 L1199.94 289.19 L1201.33 289.59 L1202.73 289.63 L1204.13 289.26 L1205.52 288.71 L1206.92 289.13 L1208.32 288.97 L1209.71 288.78 L1211.11 289.59 L1212.51 289.41 L1213.9 288.36 L1215.3 288 L1216.7 287.31 L1218.1 285.92 L1220.19 283.83 L1222.29 285.22 L1223.68 284.76 L1225.08 284.52 L1226.48 282.79 L1227.87 281.76 L1229.27 279.63 L1230.67 274.99 L1232.06 269.49 L1233.46 264.97 L1234.86 260.37 L1236.25 256.59 L1237.65 252.71 L1239.05 249.6 L1241.14 242.62 L1243.24 221.67 L1244.63 204.65 L1246.03 186.75 L1248.13 151.83 L1250.22 142.05 L1251.62 133.31 L1253.02 123.89 L1255.11 112.71 L1257.21 99.44 L1259.3 116.9 L1260.7 130.87 L1262.79 135.06 L1264.19 158.81 L1265.59 172.39 L1266.98 186.75 L1268.38 197.58 L1269.78 207.7 L1271.17 218.7 L1272.57 228.65 L1273.97 235.81 L1275.37 242.62 L1276.76 250.84 L1278.16 259.38 L1280.25 259.38 L1282.35 266.37 L1283.75 268.51 L1285.14 270.56 L1286.54 272.01 L1287.94 273.75 L1289.33 276.14 L1290.73 278.06 L1292.13 279.1 L1293.52 280.33 L1294.92 280.83 L1296.32 281.74 L1297.71 281.73 L1299.11 283.75 L1300.51 285.92 L1301.9 284.93 L1303.3 283.13 L1304.7 285.58 L1306.1 287.32 L1307.49 287.52 L1308.89 288.09 L1310.29 288.66 L1311.68 289.41 L1313.08 289.59 L1314.48 290.44 L1315.87 290.81 L1315.87 291.2 L1192.95 291.2 Z" fill="#3a9a3a" fill-opacity="0.09" stroke="none"/>
<path d="M1264.89 290.81 L1266.52 288.92 L1268.15 287.46 L1269.78 285.92 L1271.17 283.19 L1272.57 281.72 L1273.97 278.94 L1275.37 274.59 L1276.76 270.51 L1278.16 266.37 L1279.56 254.58 L1280.95 242.62 L1282.35 229.1 L1283.75 214.68 L1285.14 193.64 L1286.54 172.78 L1287.94 152.28 L1289.33 130.87 L1291.43 108.52 L1293.52 100.14 L1295.62 102.94 L1297.71 116.9 L1299.81 144.84 L1301.9 172.78 L1304 200.71 L1306.1 228.65 L1307.49 239.13 L1308.89 249.6 L1310.29 256.62 L1311.68 263.57 L1313.08 268.49 L1314.48 273.35 L1315.87 274.22 L1317.27 276.08 L1318.67 277.54 L1320.06 276.49 L1321.46 276.14 L1322.86 276.99 L1324.25 278.94 L1325.65 282.06 L1327.05 284.52 L1328.44 284.86 L1329.84 285.92 L1331.24 285.19 L1332.63 284.52 L1334.03 285.7 L1335.43 286.45 L1336.83 287.32 L1338.22 287.48 L1339.62 288.04 L1341.02 288.43 L1342.41 288.71 L1343.81 289.38 L1345.21 288.98 L1346.6 289.83 L1348 290.11 L1349.4 289.66 L1350.79 289.52 L1352.19 289.89 L1353.59 289.41 L1354.98 290.12 L1356.38 290.81 L1356.38 291.2 L1264.89 291.2 Z" fill="#f04040" fill-opacity="0.12" stroke="none"/>
<path d="M1192.95 290.81 L1194.35 290.95 L1195.75 290.32 L1197.14 290.28 L1198.54 290.21 L1199.94 289.19 L1201.33 289.59 L1202.73 289.63 L1204.13 289.26 L1205.52 288.71 L1206.92 289.13 L1208.32 288.97 L1209.71 288.78 L1211.11 289.59 L1212.51 289.41 L1213.9 288.36 L1215.3 288 L1216.7 287.31 L1218.1 285.92 L1220.19 283.83 L1222.29 285.22 L1223.68 284.76 L1225.08 284.52 L1226.48 282.79 L1227.87 281.76 L1229.27 279.63 L1230.67 274.99 L1232.06 269.49 L1233.46 264.97 L1234.86 260.37 L1236.25 256.59 L1237.65 252.71 L1239.05 249.6 L1241.14 242.62 L1243.24 221.67 L1244.63 204.65 L1246.03 186.75 L1248.13 151.83 L1250.22 142.05 L1251.62 133.31 L1253.02 123.89 L1255.11 112.71 L1257.21 99.44 L1259.3 116.9 L1260.7 130.87 L1262.79 135.06 L1264.19 158.81 L1265.59 172.39 L1266.98 186.75 L1268.38 197.58 L1269.78 207.7 L1271.17 218.7 L1272.57 228.65 L1273.97 235.81 L1275.37 242.62 L1276.76 250.84 L1278.16 259.38 L1280.25 259.38 L1282.35 266.37 L1283.75 268.51 L1285.14 270.56 L1286.54 272.01 L1287.94 273.75 L1289.33 276.14 L1290.73 278.06 L1292.13 279.1 L1293.52 280.33 L1294.92 280.83 L1296.32 281.74 L1297.71 281.73 L1299.11 283.75 L1300.51 285.92 L1301.9 284.93 L1303.3 283.13 L1304.7 285.58 L1306.1 287.32 L1307.49 287.52 L1308.89 288.09 L1310.29 288.66 L1311.68 289.41 L1313.08 289.59 L1314.48 290.44 L1315.87 290.81" fill="none" stroke="#3a873a" stroke-width="1.45" stroke-linejoin="round"/>
<path d="M1264.89 290.81 L1266.52 288.92 L1268.15 287.46 L1269.78 285.92 L1271.17 283.19 L1272.57 281.72 L1273.97 278.94 L1275.37 274.59 L1276.76 270.51 L1278.16 266.37 L1279.56 254.58 L1280.95 242.62 L1282.35 229.1 L1283.75 214.68 L1285.14 193.64 L1286.54 172.78 L1287.94 152.28 L1289.33 130.87 L1291.43 108.52 L1293.52 100.14 L1295.62 102.94 L1297.71 116.9 L1299.81 144.84 L1301.9 172.78 L1304 200.71 L1306.1 228.65 L1307.49 239.13 L1308.89 249.6 L1310.29 256.62 L1311.68 263.57 L1313.08 268.49 L1314.48 273.35 L1315.87 274.22 L1317.27 276.08 L1318.67 277.54 L1320.06 276.49 L1321.46 276.14 L1322.86 276.99 L1324.25 278.94 L1325.65 282.06 L1327.05 284.52 L1328.44 284.86 L1329.84 285.92 L1331.24 285.19 L1332.63 284.52 L1334.03 285.7 L1335.43 286.45 L1336.83 287.32 L1338.22 287.48 L1339.62 288.04 L1341.02 288.43 L1342.41 288.71 L1343.81 289.38 L1345.21 288.98 L1346.6 289.83 L1348 290.11 L1349.4 289.66 L1350.79 289.52 L1352.19 289.89 L1353.59 289.41 L1354.98 290.12 L1356.38 290.81" fill="none" stroke="#e02f33" stroke-width="1.45" stroke-linejoin="round"/>
<rect x="1291.7" y="93" width="22.3" height="8.6" fill="#fbe3e3" stroke="#e02f33" stroke-width="1.1"/>
<rect x="1291.7" y="108.3" width="22.3" height="8.6" fill="#e6f1e6" stroke="#3a873a" stroke-width="1.1"/>
<g font-family='Liberation Sans, Arial, Helvetica, sans-serif' fill="#111111" font-size="11.5" stroke="#111111" stroke-width="0.25">
<text x="1318.7" y="97.8">Sample</text>
<text x="1318.7" y="117.7">Iso Control</text>
</g>
<g stroke="#404040" stroke-width="1.6" fill="none" stroke-linejoin="round">
<rect x="1175.6" y="79.2" width="213.6" height="212"/>
<line x1="1171.6" y1="291.2" x2="1175.6" y2="291.2"/><line x1="1173.6" y1="283.53" x2="1175.6" y2="283.53"/><line x1="1173.6" y1="275.85" x2="1175.6" y2="275.85"/><line x1="1173.6" y1="268.18" x2="1175.6" y2="268.18"/><line x1="1173.6" y1="260.5" x2="1175.6" y2="260.5"/><line x1="1171.6" y1="252.83" x2="1175.6" y2="252.83"/><line x1="1173.6" y1="245.15" x2="1175.6" y2="245.15"/><line x1="1173.6" y1="237.48" x2="1175.6" y2="237.48"/><line x1="1173.6" y1="229.81" x2="1175.6" y2="229.81"/><line x1="1173.6" y1="222.13" x2="1175.6" y2="222.13"/><line x1="1171.6" y1="214.46" x2="1175.6" y2="214.46"/><line x1="1173.6" y1="206.78" x2="1175.6" y2="206.78"/><line x1="1173.6" y1="199.11" x2="1175.6" y2="199.11"/><line x1="1173.6" y1="191.44" x2="1175.6" y2="191.44"/><line x1="1173.6" y1="183.76" x2="1175.6" y2="183.76"/><line x1="1171.6" y1="176.09" x2="1175.6" y2="176.09"/><line x1="1173.6" y1="168.41" x2="1175.6" y2="168.41"/><line x1="1173.6" y1="160.74" x2="1175.6" y2="160.74"/><line x1="1173.6" y1="153.06" x2="1175.6" y2="153.06"/><line x1="1173.6" y1="145.39" x2="1175.6" y2="145.39"/><line x1="1171.6" y1="137.72" x2="1175.6" y2="137.72"/><line x1="1173.6" y1="130.04" x2="1175.6" y2="130.04"/><line x1="1173.6" y1="122.37" x2="1175.6" y2="122.37"/><line x1="1173.6" y1="114.69" x2="1175.6" y2="114.69"/><line x1="1173.6" y1="107.02" x2="1175.6" y2="107.02"/><line x1="1171.6" y1="99.34" x2="1175.6" y2="99.34"/><line x1="1173.6" y1="91.67" x2="1175.6" y2="91.67"/><line x1="1173.6" y1="84" x2="1175.6" y2="84"/><line x1="1171.6" y1="79.2" x2="1175.6" y2="79.2"/><line x1="1175.6" y1="291.2" x2="1175.6" y2="295.2"/><line x1="1188.46" y1="291.2" x2="1188.46" y2="293.2"/><line x1="1195.98" y1="291.2" x2="1195.98" y2="293.2"/><line x1="1201.32" y1="291.2" x2="1201.32" y2="293.2"/><line x1="1205.46" y1="291.2" x2="1205.46" y2="293.2"/><line x1="1208.84" y1="291.2" x2="1208.84" y2="293.2"/><line x1="1211.7" y1="291.2" x2="1211.7" y2="293.2"/><line x1="1214.18" y1="291.2" x2="1214.18" y2="293.2"/><line x1="1216.37" y1="291.2" x2="1216.37" y2="293.2"/><line x1="1218.32" y1="291.2" x2="1218.32" y2="295.2"/><line x1="1231.18" y1="291.2" x2="1231.18" y2="293.2"/><line x1="1238.7" y1="291.2" x2="1238.7" y2="293.2"/><line x1="1244.04" y1="291.2" x2="1244.04" y2="293.2"/><line x1="1248.18" y1="291.2" x2="1248.18" y2="293.2"/><line x1="1251.56" y1="291.2" x2="1251.56" y2="293.2"/><line x1="1254.42" y1="291.2" x2="1254.42" y2="293.2"/><line x1="1256.9" y1="291.2" x2="1256.9" y2="293.2"/><line x1="1259.09" y1="291.2" x2="1259.09" y2="293.2"/><line x1="1261.04" y1="291.2" x2="1261.04" y2="295.2"/><line x1="1273.9" y1="291.2" x2="1273.9" y2="293.2"/><line x1="1281.42" y1="291.2" x2="1281.42" y2="293.2"/><line x1="1286.76" y1="291.2" x2="1286.76" y2="293.2"/><line x1="1290.9" y1="291.2" x2="1290.9" y2="293.2"/><line x1="1294.28" y1="291.2" x2="1294.28" y2="293.2"/><line x1="1297.14" y1="291.2" x2="1297.14" y2="293.2"/><line x1="1299.62" y1="291.2" x2="1299.62" y2="293.2"/><line x1="1301.81" y1="291.2" x2="1301.81" y2="293.2"/><line x1="1303.76" y1="291.2" x2="1303.76" y2="295.2"/><line x1="1316.62" y1="291.2" x2="1316.62" y2="293.2"/><line x1="1324.14" y1="291.2" x2="1324.14" y2="293.2"/><line x1="1329.48" y1="291.2" x2="1329.48" y2="293.2"/><line x1="1333.62" y1="291.2" x2="1333.62" y2="293.2"/><line x1="1337" y1="291.2" x2="1337" y2="293.2"/><line x1="1339.86" y1="291.2" x2="1339.86" y2="293.2"/><line x1="1342.34" y1="291.2" x2="1342.34" y2="293.2"/><line x1="1344.53" y1="291.2" x2="1344.53" y2="293.2"/><line x1="1346.48" y1="291.2" x2="1346.48" y2="295.2"/><line x1="1359.34" y1="291.2" x2="1359.34" y2="293.2"/><line x1="1366.86" y1="291.2" x2="1366.86" y2="293.2"/><line x1="1372.2" y1="291.2" x2="1372.2" y2="293.2"/><line x1="1376.34" y1="291.2" x2="1376.34" y2="293.2"/><line x1="1379.72" y1="291.2" x2="1379.72" y2="293.2"/><line x1="1382.58" y1="291.2" x2="1382.58" y2="293.2"/><line x1="1385.06" y1="291.2" x2="1385.06" y2="293.2"/><line x1="1387.25" y1="291.2" x2="1387.25" y2="293.2"/><line x1="1389.2" y1="291.2" x2="1389.2" y2="295.2"/><line x1="1389.2" y1="291.2" x2="1389.2" y2="295.2"/>
</g>
<g font-family='Liberation Sans, Arial, Helvetica, sans-serif' fill="#111111" stroke="#111111" stroke-width="0.25">
<text x="1164.9" y="291.2" transform="rotate(-90 1164.9 291.2)" text-anchor="middle" font-size="11.3">0</text><text x="1164.9" y="252.83" transform="rotate(-90 1164.9 252.83)" text-anchor="middle" font-size="11.3">20</text><text x="1164.9" y="214.46" transform="rotate(-90 1164.9 214.46)" text-anchor="middle" font-size="11.3">40</text><text x="1164.9" y="176.09" transform="rotate(-90 1164.9 176.09)" text-anchor="middle" font-size="11.3">60</text><text x="1164.9" y="137.72" transform="rotate(-90 1164.9 137.72)" text-anchor="middle" font-size="11.3">80</text><text x="1164.9" y="99.34" transform="rotate(-90 1164.9 99.34)" text-anchor="middle" font-size="11.3">100</text><text x="1169" y="311.4" font-size="10.8">10<tspan dx="2.6" dy="-5.2" font-size="8.2">0</tspan></text><text x="1211.72" y="311.4" font-size="10.8">10<tspan dx="2.6" dy="-5.2" font-size="8.2">1</tspan></text><text x="1254.44" y="311.4" font-size="10.8">10<tspan dx="2.6" dy="-5.2" font-size="8.2">2</tspan></text><text x="1297.16" y="311.4" font-size="10.8">10<tspan dx="2.6" dy="-5.2" font-size="8.2">3</tspan></text><text x="1339.88" y="311.4" font-size="10.8">10<tspan dx="2.6" dy="-5.2" font-size="8.2">4</tspan></text><text x="1382.6" y="311.4" font-size="10.8">10<tspan dx="2.6" dy="-5.2" font-size="8.2">5</tspan></text><text x="1282.4" y="330" text-anchor="middle" font-size="11.2">FITC-A</text><text x="1144.9" y="186" transform="rotate(-90 1144.9 186)" text-anchor="middle" font-size="11.6" xml:space="preserve">Count  (%)</text><text x="1280.9" y="73.6" text-anchor="middle" font-size="11.5">Antibody / <tspan fill="#e02f33" stroke="#e02f33">E1</tspan></text>
</g>
</g>
<g>
<path d="M366.56 566.81 L367.95 566.67 L369.35 566.68 L370.75 566.63 L372.14 565.91 L373.54 565.89 L374.94 565.56 L376.33 565.36 L377.73 565.35 L379.13 564.87 L380.52 564.71 L381.92 564.89 L383.32 564.97 L384.71 565.62 L386.11 565.49 L387.51 565.41 L388.9 564.78 L390.3 563.8 L391.7 562.01 L393.1 561.22 L395.19 559.83 L397.29 561.22 L398.68 560.94 L400.08 560.52 L401.48 558.92 L402.87 556.33 L404.27 553.22 L405.67 549.35 L407.06 544.76 L408.46 540.97 L409.86 536.36 L411.25 532.59 L412.65 528.33 L414.05 524.21 L415.44 518.62 L416.84 507.67 L418.24 497.67 L419.63 476.71 L421.03 455.76 L422.43 427.83 L423.83 420.56 L425.22 413.86 L426.62 405.01 L428.02 397.1 L429.41 386.46 L430.81 375.44 L432.9 390.11 L434.3 405.48 L436.4 409.67 L438.49 434.81 L440.59 455.76 L441.98 466.55 L443.38 476.71 L444.78 487.63 L446.17 497.67 L447.57 507.76 L448.97 518.62 L450.37 527.24 L451.76 535.38 L453.86 534.68 L455.95 539.57 L457.35 543.24 L458.75 546.56 L460.14 548.03 L461.54 550.7 L462.94 552.14 L464.33 553.59 L465.73 553.7 L467.13 554.94 L468.52 556.37 L469.92 556.69 L471.32 557.73 L472.71 559.11 L474.11 560.52 L475.86 560.36 L477.6 559.13 L479.7 561.92 L481.1 563.22 L482.49 563.41 L483.89 564.71 L485.29 565.16 L486.68 565.78 L488.08 566.11 L489.48 566.81 L489.48 567.4 L366.56 567.4 Z" fill="#3a9a3a" fill-opacity="0.09" stroke="none"/>
<path d="M450.37 566.81 L451.76 565.78 L453.16 565.21 L454.56 564.71 L455.95 561.47 L457.35 557.73 L458.75 553.71 L460.14 550.75 L461.54 545.92 L462.94 540.97 L464.33 529.73 L465.73 518.62 L467.13 507.61 L468.52 497.67 L469.92 487.01 L471.32 476.71 L472.71 466.37 L474.11 455.76 L475.51 441.81 L476.9 427.83 L478.3 416.87 L479.7 406.87 L481.1 400.42 L482.49 392.9 L483.89 387.63 L485.29 381.73 L487.38 375.44 L488.78 385.92 L490.87 409.67 L492.97 434.81 L495.06 448.78 L497.16 459.95 L499.25 483.7 L500.65 494.69 L502.05 504.65 L503.44 514.69 L504.84 525.6 L506.24 532.33 L507.63 539.57 L509.03 543.95 L510.43 549.35 L511.83 554.54 L513.22 559.13 L514.62 561.32 L516.02 564.02 L517.41 564.54 L518.81 565.79 L520.21 566.81 L520.21 567.4 L450.37 567.4 Z" fill="#f04040" fill-opacity="0.12" stroke="none"/>
<path d="M366.56 566.81 L367.95 566.67 L369.35 566.68 L370.75 566.63 L372.14 565.91 L373.54 565.89 L374.94 565.56 L376.33 565.36 L377.73 565.35 L379.13 564.87 L380.52 564.71 L381.92 564.89 L383.32 564.97 L384.71 565.62 L386.11 565.49 L387.51 565.41 L388.9 564.78 L390.3 563.8 L391.7 562.01 L393.1 561.22 L395.19 559.83 L397.29 561.22 L398.68 560.94 L400.08 560.52 L401.48 558.92 L402.87 556.33 L404.27 553.22 L405.67 549.35 L407.06 544.76 L408.46 540.97 L409.86 536.36 L411.25 532.59 L412.65 528.33 L414.05 524.21 L415.44 518.62 L416.84 507.67 L418.24 497.67 L419.63 476.71 L421.03 455.76 L422.43 427.83 L423.83 420.56 L425.22 413.86 L426.62 405.01 L428.02 397.1 L429.41 386.46 L430.81 375.44 L432.9 390.11 L434.3 405.48 L436.4 409.67 L438.49 434.81 L440.59 455.76 L441.98 466.55 L443.38 476.71 L444.78 487.63 L446.17 497.67 L447.57 507.76 L448.97 518.62 L450.37 527.24 L451.76 535.38 L453.86 534.68 L455.95 539.57 L457.35 543.24 L458.75 546.56 L460.14 548.03 L461.54 550.7 L462.94 552.14 L464.33 553.59 L465.73 553.7 L467.13 554.94 L468.52 556.37 L469.92 556.69 L471.32 557.73 L472.71 559.11 L474.11 560.52 L475.86 560.36 L477.6 559.13 L479.7 561.92 L481.1 563.22 L482.49 563.41 L483.89 564.71 L485.29 565.16 L486.68 565.78 L488.08 566.11 L489.48 566.81" fill="none" stroke="#3a873a" stroke-width="1.45" stroke-linejoin="round"/>
<path d="M450.37 566.81 L451.76 565.78 L453.16 565.21 L454.56 564.71 L455.95 561.47 L457.35 557.73 L458.75 553.71 L460.14 550.75 L461.54 545.92 L462.94 540.97 L464.33 529.73 L465.73 518.62 L467.13 507.61 L468.52 497.67 L469.92 487.01 L471.32 476.71 L472.71 466.37 L474.11 455.76 L475.51 441.81 L476.9 427.83 L478.3 416.87 L479.7 406.87 L481.1 400.42 L482.49 392.9 L483.89 387.63 L485.29 381.73 L487.38 375.44 L488.78 385.92 L490.87 409.67 L492.97 434.81 L495.06 448.78 L497.16 459.95 L499.25 483.7 L500.65 494.69 L502.05 504.65 L503.44 514.69 L504.84 525.6 L506.24 532.33 L507.63 539.57 L509.03 543.95 L510.43 549.35 L511.83 554.54 L513.22 559.13 L514.62 561.32 L516.02 564.02 L517.41 564.54 L518.81 565.79 L520.21 566.81" fill="none" stroke="#e02f33" stroke-width="1.45" stroke-linejoin="round"/>
<rect x="466.2" y="369" width="22.3" height="8.6" fill="#fbe3e3" stroke="#e02f33" stroke-width="1.1"/>
<rect x="466.2" y="384.3" width="22.3" height="8.6" fill="#e6f1e6" stroke="#3a873a" stroke-width="1.1"/>
<g font-family='Liberation Sans, Arial, Helvetica, sans-serif' fill="#111111" font-size="11.5" stroke="#111111" stroke-width="0.25">
<text x="494.4" y="373.8">Sample</text>
<text x="494.4" y="393.7">Iso Control</text>
</g>
<g stroke="#404040" stroke-width="1.6" fill="none" stroke-linejoin="round">
<rect x="350.1" y="355.2" width="213.3" height="212.2"/>
<line x1="346.1" y1="567.4" x2="350.1" y2="567.4"/><line x1="348.1" y1="559.72" x2="350.1" y2="559.72"/><line x1="348.1" y1="552.04" x2="350.1" y2="552.04"/><line x1="348.1" y1="544.36" x2="350.1" y2="544.36"/><line x1="348.1" y1="536.67" x2="350.1" y2="536.67"/><line x1="346.1" y1="528.99" x2="350.1" y2="528.99"/><line x1="348.1" y1="521.31" x2="350.1" y2="521.31"/><line x1="348.1" y1="513.63" x2="350.1" y2="513.63"/><line x1="348.1" y1="505.95" x2="350.1" y2="505.95"/><line x1="348.1" y1="498.27" x2="350.1" y2="498.27"/><line x1="346.1" y1="490.59" x2="350.1" y2="490.59"/><line x1="348.1" y1="482.9" x2="350.1" y2="482.9"/><line x1="348.1" y1="475.22" x2="350.1" y2="475.22"/><line x1="348.1" y1="467.54" x2="350.1" y2="467.54"/><line x1="348.1" y1="459.86" x2="350.1" y2="459.86"/><line x1="346.1" y1="452.18" x2="350.1" y2="452.18"/><line x1="348.1" y1="444.5" x2="350.1" y2="444.5"/><line x1="348.1" y1="436.82" x2="350.1" y2="436.82"/><line x1="348.1" y1="429.13" x2="350.1" y2="429.13"/><line x1="348.1" y1="421.45" x2="350.1" y2="421.45"/><line x1="346.1" y1="413.77" x2="350.1" y2="413.77"/><line x1="348.1" y1="406.09" x2="350.1" y2="406.09"/><line x1="348.1" y1="398.41" x2="350.1" y2="398.41"/><line x1="348.1" y1="390.73" x2="350.1" y2="390.73"/><line x1="348.1" y1="383.05" x2="350.1" y2="383.05"/><line x1="346.1" y1="375.36" x2="350.1" y2="375.36"/><line x1="348.1" y1="367.68" x2="350.1" y2="367.68"/><line x1="348.1" y1="360" x2="350.1" y2="360"/><line x1="346.1" y1="355.2" x2="350.1" y2="355.2"/><line x1="350.1" y1="567.4" x2="350.1" y2="571.4"/><line x1="362.94" y1="567.4" x2="362.94" y2="569.4"/><line x1="370.45" y1="567.4" x2="370.45" y2="569.4"/><line x1="375.78" y1="567.4" x2="375.78" y2="569.4"/><line x1="379.92" y1="567.4" x2="379.92" y2="569.4"/><line x1="383.3" y1="567.4" x2="383.3" y2="569.4"/><line x1="386.15" y1="567.4" x2="386.15" y2="569.4"/><line x1="388.63" y1="567.4" x2="388.63" y2="569.4"/><line x1="390.81" y1="567.4" x2="390.81" y2="569.4"/><line x1="392.76" y1="567.4" x2="392.76" y2="571.4"/><line x1="405.6" y1="567.4" x2="405.6" y2="569.4"/><line x1="413.11" y1="567.4" x2="413.11" y2="569.4"/><line x1="418.44" y1="567.4" x2="418.44" y2="569.4"/><line x1="422.58" y1="567.4" x2="422.58" y2="569.4"/><line x1="425.96" y1="567.4" x2="425.96" y2="569.4"/><line x1="428.81" y1="567.4" x2="428.81" y2="569.4"/><line x1="431.29" y1="567.4" x2="431.29" y2="569.4"/><line x1="433.47" y1="567.4" x2="433.47" y2="569.4"/><line x1="435.42" y1="567.4" x2="435.42" y2="571.4"/><line x1="448.26" y1="567.4" x2="448.26" y2="569.4"/><line x1="455.77" y1="567.4" x2="455.77" y2="569.4"/><line x1="461.1" y1="567.4" x2="461.1" y2="569.4"/><line x1="465.24" y1="567.4" x2="465.24" y2="569.4"/><line x1="468.62" y1="567.4" x2="468.62" y2="569.4"/><line x1="471.47" y1="567.4" x2="471.47" y2="569.4"/><line x1="473.95" y1="567.4" x2="473.95" y2="569.4"/><line x1="476.13" y1="567.4" x2="476.13" y2="569.4"/><line x1="478.08" y1="567.4" x2="478.08" y2="571.4"/><line x1="490.92" y1="567.4" x2="490.92" y2="569.4"/><line x1="498.43" y1="567.4" x2="498.43" y2="569.4"/><line x1="503.76" y1="567.4" x2="503.76" y2="569.4"/><line x1="507.9" y1="567.4" x2="507.9" y2="569.4"/><line x1="511.28" y1="567.4" x2="511.28" y2="569.4"/><line x1="514.13" y1="567.4" x2="514.13" y2="569.4"/><line x1="516.61" y1="567.4" x2="516.61" y2="569.4"/><line x1="518.79" y1="567.4" x2="518.79" y2="569.4"/><line x1="520.74" y1="567.4" x2="520.74" y2="571.4"/><line x1="533.58" y1="567.4" x2="533.58" y2="569.4"/><line x1="541.09" y1="567.4" x2="541.09" y2="569.4"/><line x1="546.42" y1="567.4" x2="546.42" y2="569.4"/><line x1="550.56" y1="567.4" x2="550.56" y2="569.4"/><line x1="553.94" y1="567.4" x2="553.94" y2="569.4"/><line x1="556.79" y1="567.4" x2="556.79" y2="569.4"/><line x1="559.27" y1="567.4" x2="559.27" y2="569.4"/><line x1="561.45" y1="567.4" x2="561.45" y2="569.4"/><line x1="563.4" y1="567.4" x2="563.4" y2="571.4"/><line x1="563.4" y1="567.4" x2="563.4" y2="571.4"/>
</g>
<g font-family='Liberation Sans, Arial, Helvetica, sans-serif' fill="#111111" stroke="#111111" stroke-width="0.25">
<text x="339.4" y="567.4" transform="rotate(-90 339.4 567.4)" text-anchor="middle" font-size="11.3">0</text><text x="339.4" y="528.99" transform="rotate(-90 339.4 528.99)" text-anchor="middle" font-size="11.3">20</text><text x="339.4" y="490.59" transform="rotate(-90 339.4 490.59)" text-anchor="middle" font-size="11.3">40</text><text x="339.4" y="452.18" transform="rotate(-90 339.4 452.18)" text-anchor="middle" font-size="11.3">60</text><text x="339.4" y="413.77" transform="rotate(-90 339.4 413.77)" text-anchor="middle" font-size="11.3">80</text><text x="339.4" y="375.36" transform="rotate(-90 339.4 375.36)" text-anchor="middle" font-size="11.3">100</text><text x="343.5" y="587.6" font-size="10.8">10<tspan dx="2.6" dy="-5.2" font-size="8.2">0</tspan></text><text x="386.16" y="587.6" font-size="10.8">10<tspan dx="2.6" dy="-5.2" font-size="8.2">1</tspan></text><text x="428.82" y="587.6" font-size="10.8">10<tspan dx="2.6" dy="-5.2" font-size="8.2">2</tspan></text><text x="471.48" y="587.6" font-size="10.8">10<tspan dx="2.6" dy="-5.2" font-size="8.2">3</tspan></text><text x="514.14" y="587.6" font-size="10.8">10<tspan dx="2.6" dy="-5.2" font-size="8.2">4</tspan></text><text x="556.8" y="587.6" font-size="10.8">10<tspan dx="2.6" dy="-5.2" font-size="8.2">5</tspan></text><text x="456.75" y="606.2" text-anchor="middle" font-size="11.2">FITC-A</text><text x="319.4" y="462.1" transform="rotate(-90 319.4 462.1)" text-anchor="middle" font-size="11.6" xml:space="preserve">Count  (%)</text><text x="455.25" y="349.6" text-anchor="middle" font-size="11.5">Antibody / <tspan fill="#e02f33" stroke="#e02f33">E1</tspan></text>
</g>
</g>
<g>
<path d="M661.9 566.81 L663.3 567.15 L664.7 566.93 L666.1 566.19 L667.49 565.96 L668.89 566.69 L670.29 566.19 L671.68 566.22 L673.08 565.43 L674.48 565.28 L675.87 565.85 L677.27 565.45 L678.67 565.41 L680.06 564.42 L681.46 564.85 L682.86 563.99 L684.25 563.32 L685.65 562.95 L687.05 561.46 L688.44 561.61 L689.84 560.52 L691.24 558.65 L692.63 558.13 L694.03 556.33 L695.78 551.39 L697.52 546.56 L698.92 545.33 L700.32 544.46 L702.06 538.58 L703.81 532.59 L705.21 522.58 L706.6 511.63 L708 500.9 L709.4 490.68 L710.79 483.29 L712.19 476.71 L713.59 462.78 L714.98 448.78 L716.38 434.52 L717.78 420.84 L719.87 398.49 L721.97 391.51 L724.06 375.44 L726.16 381.73 L728.25 392.9 L730.35 420.84 L731.75 448.78 L733.14 462.32 L734.54 476.71 L735.94 490.31 L737.33 504.65 L738.73 514.63 L740.13 525.6 L741.52 532.26 L742.92 539.57 L744.32 543.09 L745.71 546.81 L747.11 550.75 L748.51 553.13 L749.9 554.94 L751.3 556.57 L752.7 558.66 L754.1 560.52 L755.49 562.03 L756.89 564.08 L758.29 566.11 L759.68 565.93 L761.08 566.81 L761.08 567.4 L661.9 567.4 Z" fill="#3a9a3a" fill-opacity="0.09" stroke="none"/>
<path d="M728.95 566.81 L730.35 566.01 L731.75 565.23 L733.14 565.49 L734.54 564.71 L735.94 561.05 L737.33 556.92 L738.73 553.54 L740.13 546.53 L741.52 539.57 L742.92 529.57 L744.32 518.62 L745.71 504.22 L747.11 490.68 L748.51 470.08 L749.9 448.78 L751.3 427.75 L752.7 406.87 L754.1 399.88 L755.49 392.9 L757.59 381.73 L758.98 378.96 L760.38 375.44 L762.48 383.13 L763.87 387.9 L765.27 392.9 L767.37 406.87 L769.46 434.81 L770.86 448.79 L772.25 462.75 L773.65 476.92 L775.05 490.68 L776.44 501.69 L777.84 511.63 L779.24 521.94 L780.63 532.59 L782.03 539.01 L783.43 544.92 L784.83 550.75 L786.22 554.62 L787.62 558.09 L789.02 561.92 L790.41 562.98 L791.81 563.87 L793.21 565.18 L794.6 566.81 L794.6 567.4 L728.95 567.4 Z" fill="#f04040" fill-opacity="0.12" stroke="none"/>
<path d="M661.9 566.81 L663.3 567.15 L664.7 566.93 L666.1 566.19 L667.49 565.96 L668.89 566.69 L670.29 566.19 L671.68 566.22 L673.08 565.43 L674.48 565.28 L675.87 565.85 L677.27 565.45 L678.67 565.41 L680.06 564.42 L681.46 564.85 L682.86 563.99 L684.25 563.32 L685.65 562.95 L687.05 561.46 L688.44 561.61 L689.84 560.52 L691.24 558.65 L692.63 558.13 L694.03 556.33 L695.78 551.39 L697.52 546.56 L698.92 545.33 L700.32 544.46 L702.06 538.58 L703.81 532.59 L705.21 522.58 L706.6 511.63 L708 500.9 L709.4 490.68 L710.79 483.29 L712.19 476.71 L713.59 462.78 L714.98 448.78 L716.38 434.52 L717.78 420.84 L719.87 398.49 L721.97 391.51 L724.06 375.44 L726.16 381.73 L728.25 392.9 L730.35 420.84 L731.75 448.78 L733.14 462.32 L734.54 476.71 L735.94 490.31 L737.33 504.65 L738.73 514.63 L740.13 525.6 L741.52 532.26 L742.92 539.57 L744.32 543.09 L745.71 546.81 L747.11 550.75 L748.51 553.13 L749.9 554.94 L751.3 556.57 L752.7 558.66 L754.1 560.52 L755.49 562.03 L756.89 564.08 L758.29 566.11 L759.68 565.93 L761.08 566.81" fill="none" stroke="#3a873a" stroke-width="1.45" stroke-linejoin="round"/>
<path d="M728.95 566.81 L730.35 566.01 L731.75 565.23 L733.14 565.49 L734.54 564.71 L735.94 561.05 L737.33 556.92 L738.73 553.54 L740.13 546.53 L741.52 539.57 L742.92 529.57 L744.32 518.62 L745.71 504.22 L747.11 490.68 L748.51 470.08 L749.9 448.78 L751.3 427.75 L752.7 406.87 L754.1 399.88 L755.49 392.9 L757.59 381.73 L758.98 378.96 L760.38 375.44 L762.48 383.13 L763.87 387.9 L765.27 392.9 L767.37 406.87 L769.46 434.81 L770.86 448.79 L772.25 462.75 L773.65 476.92 L775.05 490.68 L776.44 501.69 L777.84 511.63 L779.24 521.94 L780.63 532.59 L782.03 539.01 L783.43 544.92 L784.83 550.75 L786.22 554.62 L787.62 558.09 L789.02 561.92 L790.41 562.98 L791.81 563.87 L793.21 565.18 L794.6 566.81" fill="none" stroke="#e02f33" stroke-width="1.45" stroke-linejoin="round"/>
<rect x="738.7" y="369" width="22.3" height="8.6" fill="#fbe3e3" stroke="#e02f33" stroke-width="1.1"/>
<rect x="738.7" y="384.3" width="22.3" height="8.6" fill="#e6f1e6" stroke="#3a873a" stroke-width="1.1"/>
<g font-family='Liberation Sans, Arial, Helvetica, sans-serif' fill="#111111" font-size="11.5" stroke="#111111" stroke-width="0.25">
<text x="770.9" y="373.8">Sample</text>
<text x="770.9" y="393.7">Iso Control</text>
</g>
<g stroke="#404040" stroke-width="1.6" fill="none" stroke-linejoin="round">
<rect x="622.6" y="355.2" width="213.6" height="212.2"/>
<line x1="618.6" y1="567.4" x2="622.6" y2="567.4"/><line x1="620.6" y1="559.72" x2="622.6" y2="559.72"/><line x1="620.6" y1="552.04" x2="622.6" y2="552.04"/><line x1="620.6" y1="544.36" x2="622.6" y2="544.36"/><line x1="620.6" y1="536.67" x2="622.6" y2="536.67"/><line x1="618.6" y1="528.99" x2="622.6" y2="528.99"/><line x1="620.6" y1="521.31" x2="622.6" y2="521.31"/><line x1="620.6" y1="513.63" x2="622.6" y2="513.63"/><line x1="620.6" y1="505.95" x2="622.6" y2="505.95"/><line x1="620.6" y1="498.27" x2="622.6" y2="498.27"/><line x1="618.6" y1="490.59" x2="622.6" y2="490.59"/><line x1="620.6" y1="482.9" x2="622.6" y2="482.9"/><line x1="620.6" y1="475.22" x2="622.6" y2="475.22"/><line x1="620.6" y1="467.54" x2="622.6" y2="467.54"/><line x1="620.6" y1="459.86" x2="622.6" y2="459.86"/><line x1="618.6" y1="452.18" x2="622.6" y2="452.18"/><line x1="620.6" y1="444.5" x2="622.6" y2="444.5"/><line x1="620.6" y1="436.82" x2="622.6" y2="436.82"/><line x1="620.6" y1="429.13" x2="622.6" y2="429.13"/><line x1="620.6" y1="421.45" x2="622.6" y2="421.45"/><line x1="618.6" y1="413.77" x2="622.6" y2="413.77"/><line x1="620.6" y1="406.09" x2="622.6" y2="406.09"/><line x1="620.6" y1="398.41" x2="622.6" y2="398.41"/><line x1="620.6" y1="390.73" x2="622.6" y2="390.73"/><line x1="620.6" y1="383.05" x2="622.6" y2="383.05"/><line x1="618.6" y1="375.36" x2="622.6" y2="375.36"/><line x1="620.6" y1="367.68" x2="622.6" y2="367.68"/><line x1="620.6" y1="360" x2="622.6" y2="360"/><line x1="618.6" y1="355.2" x2="622.6" y2="355.2"/><line x1="622.6" y1="567.4" x2="622.6" y2="571.4"/><line x1="635.46" y1="567.4" x2="635.46" y2="569.4"/><line x1="642.98" y1="567.4" x2="642.98" y2="569.4"/><line x1="648.32" y1="567.4" x2="648.32" y2="569.4"/><line x1="652.46" y1="567.4" x2="652.46" y2="569.4"/><line x1="655.84" y1="567.4" x2="655.84" y2="569.4"/><line x1="658.7" y1="567.4" x2="658.7" y2="569.4"/><line x1="661.18" y1="567.4" x2="661.18" y2="569.4"/><line x1="663.37" y1="567.4" x2="663.37" y2="569.4"/><line x1="665.32" y1="567.4" x2="665.32" y2="571.4"/><line x1="678.18" y1="567.4" x2="678.18" y2="569.4"/><line x1="685.7" y1="567.4" x2="685.7" y2="569.4"/><line x1="691.04" y1="567.4" x2="691.04" y2="569.4"/><line x1="695.18" y1="567.4" x2="695.18" y2="569.4"/><line x1="698.56" y1="567.4" x2="698.56" y2="569.4"/><line x1="701.42" y1="567.4" x2="701.42" y2="569.4"/><line x1="703.9" y1="567.4" x2="703.9" y2="569.4"/><line x1="706.09" y1="567.4" x2="706.09" y2="569.4"/><line x1="708.04" y1="567.4" x2="708.04" y2="571.4"/><line x1="720.9" y1="567.4" x2="720.9" y2="569.4"/><line x1="728.42" y1="567.4" x2="728.42" y2="569.4"/><line x1="733.76" y1="567.4" x2="733.76" y2="569.4"/><line x1="737.9" y1="567.4" x2="737.9" y2="569.4"/><line x1="741.28" y1="567.4" x2="741.28" y2="569.4"/><line x1="744.14" y1="567.4" x2="744.14" y2="569.4"/><line x1="746.62" y1="567.4" x2="746.62" y2="569.4"/><line x1="748.81" y1="567.4" x2="748.81" y2="569.4"/><line x1="750.76" y1="567.4" x2="750.76" y2="571.4"/><line x1="763.62" y1="567.4" x2="763.62" y2="569.4"/><line x1="771.14" y1="567.4" x2="771.14" y2="569.4"/><line x1="776.48" y1="567.4" x2="776.48" y2="569.4"/><line x1="780.62" y1="567.4" x2="780.62" y2="569.4"/><line x1="784" y1="567.4" x2="784" y2="569.4"/><line x1="786.86" y1="567.4" x2="786.86" y2="569.4"/><line x1="789.34" y1="567.4" x2="789.34" y2="569.4"/><line x1="791.53" y1="567.4" x2="791.53" y2="569.4"/><line x1="793.48" y1="567.4" x2="793.48" y2="571.4"/><line x1="806.34" y1="567.4" x2="806.34" y2="569.4"/><line x1="813.86" y1="567.4" x2="813.86" y2="569.4"/><line x1="819.2" y1="567.4" x2="819.2" y2="569.4"/><line x1="823.34" y1="567.4" x2="823.34" y2="569.4"/><line x1="826.72" y1="567.4" x2="826.72" y2="569.4"/><line x1="829.58" y1="567.4" x2="829.58" y2="569.4"/><line x1="832.06" y1="567.4" x2="832.06" y2="569.4"/><line x1="834.25" y1="567.4" x2="834.25" y2="569.4"/><line x1="836.2" y1="567.4" x2="836.2" y2="571.4"/><line x1="836.2" y1="567.4" x2="836.2" y2="571.4"/>
</g>
<g font-family='Liberation Sans, Arial, Helvetica, sans-serif' fill="#111111" stroke="#111111" stroke-width="0.25">
<text x="611.9" y="567.4" transform="rotate(-90 611.9 567.4)" text-anchor="middle" font-size="11.3">0</text><text x="611.9" y="528.99" transform="rotate(-90 611.9 528.99)" text-anchor="middle" font-size="11.3">20</text><text x="611.9" y="490.59" transform="rotate(-90 611.9 490.59)" text-anchor="middle" font-size="11.3">40</text><text x="611.9" y="452.18" transform="rotate(-90 611.9 452.18)" text-anchor="middle" font-size="11.3">60</text><text x="611.9" y="413.77" transform="rotate(-90 611.9 413.77)" text-anchor="middle" font-size="11.3">80</text><text x="611.9" y="375.36" transform="rotate(-90 611.9 375.36)" text-anchor="middle" font-size="11.3">100</text><text x="616" y="587.6" font-size="10.8">10<tspan dx="2.6" dy="-5.2" font-size="8.2">0</tspan></text><text x="658.72" y="587.6" font-size="10.8">10<tspan dx="2.6" dy="-5.2" font-size="8.2">1</tspan></text><text x="701.44" y="587.6" font-size="10.8">10<tspan dx="2.6" dy="-5.2" font-size="8.2">2</tspan></text><text x="744.16" y="587.6" font-size="10.8">10<tspan dx="2.6" dy="-5.2" font-size="8.2">3</tspan></text><text x="786.88" y="587.6" font-size="10.8">10<tspan dx="2.6" dy="-5.2" font-size="8.2">4</tspan></text><text x="829.6" y="587.6" font-size="10.8">10<tspan dx="2.6" dy="-5.2" font-size="8.2">5</tspan></text><text x="729.4" y="606.2" text-anchor="middle" font-size="11.2">FITC-A</text><text x="591.9" y="462.1" transform="rotate(-90 591.9 462.1)" text-anchor="middle" font-size="11.6" xml:space="preserve">Count  (%)</text><text x="727.9" y="349.6" text-anchor="middle" font-size="11.5">Antibody / <tspan fill="#e02f33" stroke="#e02f33">E1</tspan></text>
</g>
</g>
<g>
<path d="M919.94 566.81 L921.33 566.25 L922.73 566.9 L924.13 566.28 L925.52 566.09 L926.92 565.92 L928.32 566.66 L929.71 566.61 L931.11 566.11 L932.51 565.95 L933.9 565.17 L935.3 564.78 L936.7 564.71 L938.1 563.56 L939.49 562.81 L940.89 561.92 L942.29 560.85 L943.68 560.52 L945.08 559.77 L946.48 559.13 L947.87 558.17 L949.27 557.73 L950.67 556.14 L952.06 553.54 L953.46 550.57 L954.86 546.56 L956.25 544.51 L957.65 542.37 L959.05 532.31 L960.44 522.81 L961.84 514.24 L963.24 504.65 L964.63 490.47 L966.03 476.71 L968.13 455.76 L970.22 448.78 L972.32 437.6 L974.41 420.84 L976.51 416.65 L978.6 423.63 L980.7 434.81 L982.79 462.75 L984.19 476.56 L985.59 490.68 L986.98 500.61 L988.38 511.63 L989.78 519.89 L991.17 528.4 L992.57 535.35 L993.97 542.37 L995.37 544.46 L996.76 546.56 L998.16 549.72 L999.56 553.54 L1000.95 555.64 L1002.35 557.73 L1003.75 559.28 L1005.14 561.92 L1006.54 562.36 L1007.94 562.87 L1009.33 564.02 L1010.73 564.25 L1012.13 564.21 L1013.52 564.54 L1014.92 565.41 L1016.32 565.3 L1017.71 565.32 L1019.11 565.81 L1020.51 565.84 L1021.9 566.19 L1023.3 566.18 L1024.7 566.11 L1026.1 566.49 L1027.49 566.81 L1028.89 566.41 L1030.29 566.48 L1031.68 566.81 L1031.68 567.4 L919.94 567.4 Z" fill="#3a9a3a" fill-opacity="0.09" stroke="none"/>
<path d="M998.16 566.81 L999.56 566.64 L1000.95 565.03 L1002.35 564.71 L1003.75 564.26 L1005.14 563.32 L1006.54 558.59 L1007.94 553.54 L1009.33 542.56 L1010.73 532.59 L1012.13 518.99 L1013.52 504.65 L1014.92 491.11 L1016.32 476.71 L1017.71 459.39 L1019.11 441.79 L1020.51 425.99 L1021.9 409.67 L1023.3 398.14 L1024.7 385.92 L1026.1 380.63 L1027.49 376.14 L1029.59 380.33 L1031.68 392.9 L1033.08 403.41 L1034.48 413.86 L1035.87 427.83 L1037.27 441.79 L1038.67 456.13 L1040.06 469.73 L1041.46 480.54 L1042.86 490.68 L1044.25 501.52 L1045.65 511.63 L1047.05 522.2 L1048.44 532.59 L1049.84 541.4 L1051.24 549.35 L1052.63 552.34 L1054.03 554.94 L1055.43 557.94 L1056.83 560.52 L1058.22 562.32 L1059.62 564.71 L1061.02 564.66 L1062.41 565.24 L1063.81 566.11 L1065.21 566.19 L1066.6 566.14 L1068 566.81 L1068 567.4 L998.16 567.4 Z" fill="#f04040" fill-opacity="0.12" stroke="none"/>
<path d="M919.94 566.81 L921.33 566.25 L922.73 566.9 L924.13 566.28 L925.52 566.09 L926.92 565.92 L928.32 566.66 L929.71 566.61 L931.11 566.11 L932.51 565.95 L933.9 565.17 L935.3 564.78 L936.7 564.71 L938.1 563.56 L939.49 562.81 L940.89 561.92 L942.29 560.85 L943.68 560.52 L945.08 559.77 L946.48 559.13 L947.87 558.17 L949.27 557.73 L950.67 556.14 L952.06 553.54 L953.46 550.57 L954.86 546.56 L956.25 544.51 L957.65 542.37 L959.05 532.31 L960.44 522.81 L961.84 514.24 L963.24 504.65 L964.63 490.47 L966.03 476.71 L968.13 455.76 L970.22 448.78 L972.32 437.6 L974.41 420.84 L976.51 416.65 L978.6 423.63 L980.7 434.81 L982.79 462.75 L984.19 476.56 L985.59 490.68 L986.98 500.61 L988.38 511.63 L989.78 519.89 L991.17 528.4 L992.57 535.35 L993.97 542.37 L995.37 544.46 L996.76 546.56 L998.16 549.72 L999.56 553.54 L1000.95 555.64 L1002.35 557.73 L1003.75 559.28 L1005.14 561.92 L1006.54 562.36 L1007.94 562.87 L1009.33 564.02 L1010.73 564.25 L1012.13 564.21 L1013.52 564.54 L1014.92 565.41 L1016.32 565.3 L1017.71 565.32 L1019.11 565.81 L1020.51 565.84 L1021.9 566.19 L1023.3 566.18 L1024.7 566.11 L1026.1 566.49 L1027.49 566.81 L1028.89 566.41 L1030.29 566.48 L1031.68 566.81" fill="none" stroke="#3a873a" stroke-width="1.45" stroke-linejoin="round"/>
<path d="M998.16 566.81 L999.56 566.64 L1000.95 565.03 L1002.35 564.71 L1003.75 564.26 L1005.14 563.32 L1006.54 558.59 L1007.94 553.54 L1009.33 542.56 L1010.73 532.59 L1012.13 518.99 L1013.52 504.65 L1014.92 491.11 L1016.32 476.71 L1017.71 459.39 L1019.11 441.79 L1020.51 425.99 L1021.9 409.67 L1023.3 398.14 L1024.7 385.92 L1026.1 380.63 L1027.49 376.14 L1029.59 380.33 L1031.68 392.9 L1033.08 403.41 L1034.48 413.86 L1035.87 427.83 L1037.27 441.79 L1038.67 456.13 L1040.06 469.73 L1041.46 480.54 L1042.86 490.68 L1044.25 501.52 L1045.65 511.63 L1047.05 522.2 L1048.44 532.59 L1049.84 541.4 L1051.24 549.35 L1052.63 552.34 L1054.03 554.94 L1055.43 557.94 L1056.83 560.52 L1058.22 562.32 L1059.62 564.71 L1061.02 564.66 L1062.41 565.24 L1063.81 566.11 L1065.21 566.19 L1066.6 566.14 L1068 566.81" fill="none" stroke="#e02f33" stroke-width="1.45" stroke-linejoin="round"/>
<rect x="1010.6" y="369" width="22.3" height="8.6" fill="#fbe3e3" stroke="#e02f33" stroke-width="1.1"/>
<rect x="1010.6" y="384.3" width="22.3" height="8.6" fill="#e6f1e6" stroke="#3a873a" stroke-width="1.1"/>
<g font-family='Liberation Sans, Arial, Helvetica, sans-serif' fill="#111111" font-size="11.5" stroke="#111111" stroke-width="0.25">
<text x="1039.8" y="373.8">Sample</text>
<text x="1039.8" y="393.7">Iso Control</text>
</g>
<g stroke="#404040" stroke-width="1.6" fill="none" stroke-linejoin="round">
<rect x="894.5" y="355.2" width="213.3" height="212.2"/>
<line x1="890.5" y1="567.4" x2="894.5" y2="567.4"/><line x1="892.5" y1="559.25" x2="894.5" y2="559.25"/><line x1="892.5" y1="551.11" x2="894.5" y2="551.11"/><line x1="892.5" y1="542.96" x2="894.5" y2="542.96"/><line x1="892.5" y1="534.82" x2="894.5" y2="534.82"/><line x1="890.5" y1="526.67" x2="894.5" y2="526.67"/><line x1="892.5" y1="518.52" x2="894.5" y2="518.52"/><line x1="892.5" y1="510.38" x2="894.5" y2="510.38"/><line x1="892.5" y1="502.23" x2="894.5" y2="502.23"/><line x1="892.5" y1="494.09" x2="894.5" y2="494.09"/><line x1="890.5" y1="485.94" x2="894.5" y2="485.94"/><line x1="892.5" y1="477.8" x2="894.5" y2="477.8"/><line x1="892.5" y1="469.65" x2="894.5" y2="469.65"/><line x1="892.5" y1="461.5" x2="894.5" y2="461.5"/><line x1="892.5" y1="453.36" x2="894.5" y2="453.36"/><line x1="890.5" y1="445.21" x2="894.5" y2="445.21"/><line x1="892.5" y1="437.07" x2="894.5" y2="437.07"/><line x1="892.5" y1="428.92" x2="894.5" y2="428.92"/><line x1="892.5" y1="420.77" x2="894.5" y2="420.77"/><line x1="892.5" y1="412.63" x2="894.5" y2="412.63"/><line x1="890.5" y1="404.48" x2="894.5" y2="404.48"/><line x1="892.5" y1="396.34" x2="894.5" y2="396.34"/><line x1="892.5" y1="388.19" x2="894.5" y2="388.19"/><line x1="892.5" y1="380.04" x2="894.5" y2="380.04"/><line x1="892.5" y1="371.9" x2="894.5" y2="371.9"/><line x1="890.5" y1="363.75" x2="894.5" y2="363.75"/><line x1="892.5" y1="355.61" x2="894.5" y2="355.61"/><line x1="890.5" y1="355.2" x2="894.5" y2="355.2"/><line x1="894.5" y1="567.4" x2="894.5" y2="571.4"/><line x1="907.34" y1="567.4" x2="907.34" y2="569.4"/><line x1="914.85" y1="567.4" x2="914.85" y2="569.4"/><line x1="920.18" y1="567.4" x2="920.18" y2="569.4"/><line x1="924.32" y1="567.4" x2="924.32" y2="569.4"/><line x1="927.7" y1="567.4" x2="927.7" y2="569.4"/><line x1="930.55" y1="567.4" x2="930.55" y2="569.4"/><line x1="933.03" y1="567.4" x2="933.03" y2="569.4"/><line x1="935.21" y1="567.4" x2="935.21" y2="569.4"/><line x1="937.16" y1="567.4" x2="937.16" y2="571.4"/><line x1="950" y1="567.4" x2="950" y2="569.4"/><line x1="957.51" y1="567.4" x2="957.51" y2="569.4"/><line x1="962.84" y1="567.4" x2="962.84" y2="569.4"/><line x1="966.98" y1="567.4" x2="966.98" y2="569.4"/><line x1="970.36" y1="567.4" x2="970.36" y2="569.4"/><line x1="973.21" y1="567.4" x2="973.21" y2="569.4"/><line x1="975.69" y1="567.4" x2="975.69" y2="569.4"/><line x1="977.87" y1="567.4" x2="977.87" y2="569.4"/><line x1="979.82" y1="567.4" x2="979.82" y2="571.4"/><line x1="992.66" y1="567.4" x2="992.66" y2="569.4"/><line x1="1000.17" y1="567.4" x2="1000.17" y2="569.4"/><line x1="1005.5" y1="567.4" x2="1005.5" y2="569.4"/><line x1="1009.64" y1="567.4" x2="1009.64" y2="569.4"/><line x1="1013.02" y1="567.4" x2="1013.02" y2="569.4"/><line x1="1015.87" y1="567.4" x2="1015.87" y2="569.4"/><line x1="1018.35" y1="567.4" x2="1018.35" y2="569.4"/><line x1="1020.53" y1="567.4" x2="1020.53" y2="569.4"/><line x1="1022.48" y1="567.4" x2="1022.48" y2="571.4"/><line x1="1035.32" y1="567.4" x2="1035.32" y2="569.4"/><line x1="1042.83" y1="567.4" x2="1042.83" y2="569.4"/><line x1="1048.16" y1="567.4" x2="1048.16" y2="569.4"/><line x1="1052.3" y1="567.4" x2="1052.3" y2="569.4"/><line x1="1055.68" y1="567.4" x2="1055.68" y2="569.4"/><line x1="1058.53" y1="567.4" x2="1058.53" y2="569.4"/><line x1="1061.01" y1="567.4" x2="1061.01" y2="569.4"/><line x1="1063.19" y1="567.4" x2="1063.19" y2="569.4"/><line x1="1065.14" y1="567.4" x2="1065.14" y2="571.4"/><line x1="1077.98" y1="567.4" x2="1077.98" y2="569.4"/><line x1="1085.49" y1="567.4" x2="1085.49" y2="569.4"/><line x1="1090.82" y1="567.4" x2="1090.82" y2="569.4"/><line x1="1094.96" y1="567.4" x2="1094.96" y2="569.4"/><line x1="1098.34" y1="567.4" x2="1098.34" y2="569.4"/><line x1="1101.19" y1="567.4" x2="1101.19" y2="569.4"/><line x1="1103.67" y1="567.4" x2="1103.67" y2="569.4"/><line x1="1105.85" y1="567.4" x2="1105.85" y2="569.4"/><line x1="1107.8" y1="567.4" x2="1107.8" y2="571.4"/><line x1="1107.8" y1="567.4" x2="1107.8" y2="571.4"/>
</g>
<g font-family='Liberation Sans, Arial, Helvetica, sans-serif' fill="#111111" stroke="#111111" stroke-width="0.25">
<text x="883.8" y="567.4" transform="rotate(-90 883.8 567.4)" text-anchor="middle" font-size="11.3">0</text><text x="883.8" y="526.67" transform="rotate(-90 883.8 526.67)" text-anchor="middle" font-size="11.3">50</text><text x="883.8" y="485.94" transform="rotate(-90 883.8 485.94)" text-anchor="middle" font-size="11.3">100</text><text x="883.8" y="445.21" transform="rotate(-90 883.8 445.21)" text-anchor="middle" font-size="11.3">150</text><text x="883.8" y="404.48" transform="rotate(-90 883.8 404.48)" text-anchor="middle" font-size="11.3">200</text><text x="883.8" y="356.8" transform="rotate(-90 883.8 356.8)" text-anchor="middle" font-size="11.3">259</text><text x="887.9" y="587.6" font-size="10.8">10<tspan dx="2.6" dy="-5.2" font-size="8.2">0</tspan></text><text x="930.56" y="587.6" font-size="10.8">10<tspan dx="2.6" dy="-5.2" font-size="8.2">1</tspan></text><text x="973.22" y="587.6" font-size="10.8">10<tspan dx="2.6" dy="-5.2" font-size="8.2">2</tspan></text><text x="1015.88" y="587.6" font-size="10.8">10<tspan dx="2.6" dy="-5.2" font-size="8.2">3</tspan></text><text x="1058.54" y="587.6" font-size="10.8">10<tspan dx="2.6" dy="-5.2" font-size="8.2">4</tspan></text><text x="1101.2" y="587.6" font-size="10.8">10<tspan dx="2.6" dy="-5.2" font-size="8.2">5</tspan></text><text x="1001.15" y="606.2" text-anchor="middle" font-size="11.2">FITC-A</text><text x="863.6" y="462.1" transform="rotate(-90 863.6 462.1)" text-anchor="middle" font-size="11.6" xml:space="preserve">Count</text><text x="999.65" y="349.6" text-anchor="middle" font-size="11.5">Antibody / <tspan fill="#e02f33" stroke="#e02f33">E1</tspan></text>
</g>
</g>
<g>
<path d="M1184.57 566.81 L1185.97 567.02 L1187.37 566.56 L1188.76 566.48 L1190.16 566.33 L1191.56 566.23 L1192.95 565.87 L1194.35 565.18 L1195.75 565.9 L1197.14 565.41 L1198.54 565.69 L1199.94 565.42 L1201.33 565.45 L1202.73 565.59 L1204.13 565.41 L1205.52 564.24 L1206.92 564.28 L1208.32 563.04 L1209.71 562.62 L1211.11 561.1 L1212.51 560.52 L1214.6 561.22 L1216.7 560.52 L1218.1 559.57 L1219.49 559.13 L1220.89 557.28 L1222.29 554.94 L1223.68 549.72 L1225.08 545.16 L1227.17 540.97 L1229.27 531.19 L1230.67 527.96 L1232.06 524.21 L1233.46 518.62 L1234.86 504.65 L1236.25 490.68 L1238.35 462.75 L1240.44 427.83 L1241.84 421.36 L1243.24 413.86 L1244.63 405.47 L1246.03 397.1 L1248.13 387.32 L1249.52 375.44 L1251.62 392.9 L1253.02 406.87 L1255.11 411.06 L1256.51 427.83 L1258.6 455.76 L1260 466.11 L1261.4 476.71 L1262.79 487.17 L1264.19 497.67 L1265.59 508.34 L1266.98 518.62 L1268.38 525.9 L1269.78 532.59 L1271.87 535.38 L1273.97 540.97 L1275.37 543.89 L1276.76 546.56 L1278.16 548.58 L1279.56 549.82 L1280.95 552.14 L1282.35 553.15 L1283.75 554.67 L1285.14 556.33 L1286.54 557.07 L1287.94 557.05 L1289.33 557.73 L1290.73 559.2 L1292.13 559.99 L1293.52 561.92 L1294.92 560.04 L1296.32 559.13 L1297.71 560.97 L1299.11 563.32 L1300.51 564.21 L1301.9 564.93 L1303.3 565.61 L1304.7 566.11 L1306.1 566.06 L1307.49 566.48 L1308.89 566.6 L1310.29 566.81 L1310.29 567.4 L1184.57 567.4 Z" fill="#3a9a3a" fill-opacity="0.09" stroke="none"/>
<path d="M1255.81 566.81 L1257.21 566.07 L1258.6 564.99 L1260 564.71 L1261.4 563.28 L1262.79 560.66 L1264.19 559.13 L1265.59 556.16 L1266.98 552.14 L1268.38 548.43 L1269.78 543.76 L1271.17 536.25 L1272.57 529.79 L1273.97 510.19 L1275.37 490.68 L1276.76 470.08 L1278.16 448.78 L1279.56 420.84 L1280.95 407.39 L1282.35 392.9 L1284.44 378.94 L1285.84 375.44 L1287.94 385.92 L1290.03 406.87 L1292.13 434.81 L1294.22 462.75 L1296.32 490.68 L1297.71 504.6 L1299.11 518.62 L1300.51 528.84 L1301.9 539.57 L1303.3 544.14 L1304.7 549.35 L1306.1 552.63 L1307.49 554.94 L1308.89 558.11 L1310.29 561.92 L1311.68 562.71 L1313.08 562.92 L1314.48 564.02 L1315.87 564.51 L1317.27 565.45 L1318.67 565.41 L1320.06 565.29 L1321.46 566.32 L1322.86 566.26 L1324.25 566.96 L1325.65 566.81 L1325.65 567.4 L1255.81 567.4 Z" fill="#f04040" fill-opacity="0.12" stroke="none"/>
<path d="M1184.57 566.81 L1185.97 567.02 L1187.37 566.56 L1188.76 566.48 L1190.16 566.33 L1191.56 566.23 L1192.95 565.87 L1194.35 565.18 L1195.75 565.9 L1197.14 565.41 L1198.54 565.69 L1199.94 565.42 L1201.33 565.45 L1202.73 565.59 L1204.13 565.41 L1205.52 564.24 L1206.92 564.28 L1208.32 563.04 L1209.71 562.62 L1211.11 561.1 L1212.51 560.52 L1214.6 561.22 L1216.7 560.52 L1218.1 559.57 L1219.49 559.13 L1220.89 557.28 L1222.29 554.94 L1223.68 549.72 L1225.08 545.16 L1227.17 540.97 L1229.27 531.19 L1230.67 527.96 L1232.06 524.21 L1233.46 518.62 L1234.86 504.65 L1236.25 490.68 L1238.35 462.75 L1240.44 427.83 L1241.84 421.36 L1243.24 413.86 L1244.63 405.47 L1246.03 397.1 L1248.13 387.32 L1249.52 375.44 L1251.62 392.9 L1253.02 406.87 L1255.11 411.06 L1256.51 427.83 L1258.6 455.76 L1260 466.11 L1261.4 476.71 L1262.79 487.17 L1264.19 497.67 L1265.59 508.34 L1266.98 518.62 L1268.38 525.9 L1269.78 532.59 L1271.87 535.38 L1273.97 540.97 L1275.37 543.89 L1276.76 546.56 L1278.16 548.58 L1279.56 549.82 L1280.95 552.14 L1282.35 553.15 L1283.75 554.67 L1285.14 556.33 L1286.54 557.07 L1287.94 557.05 L1289.33 557.73 L1290.73 559.2 L1292.13 559.99 L1293.52 561.92 L1294.92 560.04 L1296.32 559.13 L1297.71 560.97 L1299.11 563.32 L1300.51 564.21 L1301.9 564.93 L1303.3 565.61 L1304.7 566.11 L1306.1 566.06 L1307.49 566.48 L1308.89 566.6 L1310.29 566.81" fill="none" stroke="#3a873a" stroke-width="1.45" stroke-linejoin="round"/>
<path d="M1255.81 566.81 L1257.21 566.07 L1258.6 564.99 L1260 564.71 L1261.4 563.28 L1262.79 560.66 L1264.19 559.13 L1265.59 556.16 L1266.98 552.14 L1268.38 548.43 L1269.78 543.76 L1271.17 536.25 L1272.57 529.79 L1273.97 510.19 L1275.37 490.68 L1276.76 470.08 L1278.16 448.78 L1279.56 420.84 L1280.95 407.39 L1282.35 392.9 L1284.44 378.94 L1285.84 375.44 L1287.94 385.92 L1290.03 406.87 L1292.13 434.81 L1294.22 462.75 L1296.32 490.68 L1297.71 504.6 L1299.11 518.62 L1300.51 528.84 L1301.9 539.57 L1303.3 544.14 L1304.7 549.35 L1306.1 552.63 L1307.49 554.94 L1308.89 558.11 L1310.29 561.92 L1311.68 562.71 L1313.08 562.92 L1314.48 564.02 L1315.87 564.51 L1317.27 565.45 L1318.67 565.41 L1320.06 565.29 L1321.46 566.32 L1322.86 566.26 L1324.25 566.96 L1325.65 566.81" fill="none" stroke="#e02f33" stroke-width="1.45" stroke-linejoin="round"/>
<rect x="1284.7" y="369" width="22.3" height="8.6" fill="#fbe3e3" stroke="#e02f33" stroke-width="1.1"/>
<rect x="1284.7" y="384.3" width="22.3" height="8.6" fill="#e6f1e6" stroke="#3a873a" stroke-width="1.1"/>
<g font-family='Liberation Sans, Arial, Helvetica, sans-serif' fill="#111111" font-size="11.5" stroke="#111111" stroke-width="0.25">
<text x="1311.7" y="373.8">Sample</text>
<text x="1311.7" y="393.7">Iso Control</text>
</g>
<g stroke="#404040" stroke-width="1.6" fill="none" stroke-linejoin="round">
<rect x="1168.6" y="355.2" width="213" height="212.2"/>
<line x1="1164.6" y1="567.4" x2="1168.6" y2="567.4"/><line x1="1166.6" y1="559.72" x2="1168.6" y2="559.72"/><line x1="1166.6" y1="552.04" x2="1168.6" y2="552.04"/><line x1="1166.6" y1="544.36" x2="1168.6" y2="544.36"/><line x1="1166.6" y1="536.67" x2="1168.6" y2="536.67"/><line x1="1164.6" y1="528.99" x2="1168.6" y2="528.99"/><line x1="1166.6" y1="521.31" x2="1168.6" y2="521.31"/><line x1="1166.6" y1="513.63" x2="1168.6" y2="513.63"/><line x1="1166.6" y1="505.95" x2="1168.6" y2="505.95"/><line x1="1166.6" y1="498.27" x2="1168.6" y2="498.27"/><line x1="1164.6" y1="490.59" x2="1168.6" y2="490.59"/><line x1="1166.6" y1="482.9" x2="1168.6" y2="482.9"/><line x1="1166.6" y1="475.22" x2="1168.6" y2="475.22"/><line x1="1166.6" y1="467.54" x2="1168.6" y2="467.54"/><line x1="1166.6" y1="459.86" x2="1168.6" y2="459.86"/><line x1="1164.6" y1="452.18" x2="1168.6" y2="452.18"/><line x1="1166.6" y1="444.5" x2="1168.6" y2="444.5"/><line x1="1166.6" y1="436.82" x2="1168.6" y2="436.82"/><line x1="1166.6" y1="429.13" x2="1168.6" y2="429.13"/><line x1="1166.6" y1="421.45" x2="1168.6" y2="421.45"/><line x1="1164.6" y1="413.77" x2="1168.6" y2="413.77"/><line x1="1166.6" y1="406.09" x2="1168.6" y2="406.09"/><line x1="1166.6" y1="398.41" x2="1168.6" y2="398.41"/><line x1="1166.6" y1="390.73" x2="1168.6" y2="390.73"/><line x1="1166.6" y1="383.05" x2="1168.6" y2="383.05"/><line x1="1164.6" y1="375.36" x2="1168.6" y2="375.36"/><line x1="1166.6" y1="367.68" x2="1168.6" y2="367.68"/><line x1="1166.6" y1="360" x2="1168.6" y2="360"/><line x1="1164.6" y1="355.2" x2="1168.6" y2="355.2"/><line x1="1168.6" y1="567.4" x2="1168.6" y2="571.4"/><line x1="1181.42" y1="567.4" x2="1181.42" y2="569.4"/><line x1="1188.93" y1="567.4" x2="1188.93" y2="569.4"/><line x1="1194.25" y1="567.4" x2="1194.25" y2="569.4"/><line x1="1198.38" y1="567.4" x2="1198.38" y2="569.4"/><line x1="1201.75" y1="567.4" x2="1201.75" y2="569.4"/><line x1="1204.6" y1="567.4" x2="1204.6" y2="569.4"/><line x1="1207.07" y1="567.4" x2="1207.07" y2="569.4"/><line x1="1209.25" y1="567.4" x2="1209.25" y2="569.4"/><line x1="1211.2" y1="567.4" x2="1211.2" y2="571.4"/><line x1="1224.02" y1="567.4" x2="1224.02" y2="569.4"/><line x1="1231.53" y1="567.4" x2="1231.53" y2="569.4"/><line x1="1236.85" y1="567.4" x2="1236.85" y2="569.4"/><line x1="1240.98" y1="567.4" x2="1240.98" y2="569.4"/><line x1="1244.35" y1="567.4" x2="1244.35" y2="569.4"/><line x1="1247.2" y1="567.4" x2="1247.2" y2="569.4"/><line x1="1249.67" y1="567.4" x2="1249.67" y2="569.4"/><line x1="1251.85" y1="567.4" x2="1251.85" y2="569.4"/><line x1="1253.8" y1="567.4" x2="1253.8" y2="571.4"/><line x1="1266.62" y1="567.4" x2="1266.62" y2="569.4"/><line x1="1274.13" y1="567.4" x2="1274.13" y2="569.4"/><line x1="1279.45" y1="567.4" x2="1279.45" y2="569.4"/><line x1="1283.58" y1="567.4" x2="1283.58" y2="569.4"/><line x1="1286.95" y1="567.4" x2="1286.95" y2="569.4"/><line x1="1289.8" y1="567.4" x2="1289.8" y2="569.4"/><line x1="1292.27" y1="567.4" x2="1292.27" y2="569.4"/><line x1="1294.45" y1="567.4" x2="1294.45" y2="569.4"/><line x1="1296.4" y1="567.4" x2="1296.4" y2="571.4"/><line x1="1309.22" y1="567.4" x2="1309.22" y2="569.4"/><line x1="1316.73" y1="567.4" x2="1316.73" y2="569.4"/><line x1="1322.05" y1="567.4" x2="1322.05" y2="569.4"/><line x1="1326.18" y1="567.4" x2="1326.18" y2="569.4"/><line x1="1329.55" y1="567.4" x2="1329.55" y2="569.4"/><line x1="1332.4" y1="567.4" x2="1332.4" y2="569.4"/><line x1="1334.87" y1="567.4" x2="1334.87" y2="569.4"/><line x1="1337.05" y1="567.4" x2="1337.05" y2="569.4"/><line x1="1339" y1="567.4" x2="1339" y2="571.4"/><line x1="1351.82" y1="567.4" x2="1351.82" y2="569.4"/><line x1="1359.33" y1="567.4" x2="1359.33" y2="569.4"/><line x1="1364.65" y1="567.4" x2="1364.65" y2="569.4"/><line x1="1368.78" y1="567.4" x2="1368.78" y2="569.4"/><line x1="1372.15" y1="567.4" x2="1372.15" y2="569.4"/><line x1="1375" y1="567.4" x2="1375" y2="569.4"/><line x1="1377.47" y1="567.4" x2="1377.47" y2="569.4"/><line x1="1379.65" y1="567.4" x2="1379.65" y2="569.4"/><line x1="1381.6" y1="567.4" x2="1381.6" y2="571.4"/><line x1="1381.6" y1="567.4" x2="1381.6" y2="571.4"/>
</g>
<g font-family='Liberation Sans, Arial, Helvetica, sans-serif' fill="#111111" stroke="#111111" stroke-width="0.25">
<text x="1157.9" y="567.4" transform="rotate(-90 1157.9 567.4)" text-anchor="middle" font-size="11.3">0</text><text x="1157.9" y="528.99" transform="rotate(-90 1157.9 528.99)" text-anchor="middle" font-size="11.3">20</text><text x="1157.9" y="490.59" transform="rotate(-90 1157.9 490.59)" text-anchor="middle" font-size="11.3">40</text><text x="1157.9" y="452.18" transform="rotate(-90 1157.9 452.18)" text-anchor="middle" font-size="11.3">60</text><text x="1157.9" y="413.77" transform="rotate(-90 1157.9 413.77)" text-anchor="middle" font-size="11.3">80</text><text x="1157.9" y="375.36" transform="rotate(-90 1157.9 375.36)" text-anchor="middle" font-size="11.3">100</text><text x="1162" y="587.6" font-size="10.8">10<tspan dx="2.6" dy="-5.2" font-size="8.2">0</tspan></text><text x="1204.6" y="587.6" font-size="10.8">10<tspan dx="2.6" dy="-5.2" font-size="8.2">1</tspan></text><text x="1247.2" y="587.6" font-size="10.8">10<tspan dx="2.6" dy="-5.2" font-size="8.2">2</tspan></text><text x="1289.8" y="587.6" font-size="10.8">10<tspan dx="2.6" dy="-5.2" font-size="8.2">3</tspan></text><text x="1332.4" y="587.6" font-size="10.8">10<tspan dx="2.6" dy="-5.2" font-size="8.2">4</tspan></text><text x="1375" y="587.6" font-size="10.8">10<tspan dx="2.6" dy="-5.2" font-size="8.2">5</tspan></text><text x="1275.1" y="606.2" text-anchor="middle" font-size="11.2">FITC-A</text><text x="1137.9" y="462.1" transform="rotate(-90 1137.9 462.1)" text-anchor="middle" font-size="11.6" xml:space="preserve">Count  (%)</text><text x="1273.6" y="349.6" text-anchor="middle" font-size="11.5">Antibody / <tspan fill="#e02f33" stroke="#e02f33">E1</tspan></text>
</g>
</g>
<g>
<path d="M719.85 963.07 L721.26 963.01 L722.67 962.21 L724.08 962.66 L725.49 961.92 L726.9 961.66 L728.3 958.79 L729.71 956.41 L731.12 954.61 L732.53 951.78 L733.94 948.92 L735.35 946.15 L736.76 943.12 L738.17 940.51 L739.58 934.48 L740.99 929.24 L742.4 924.37 L743.81 919.64 L745.22 915.14 L746.63 908.47 L748.04 901.05 L749.45 889.93 L750.86 879.9 L752.27 873.13 L753.68 865.81 L755.79 847.49 L757.9 830.57 L759.31 820.37 L760.72 809.43 L762.13 801.96 L763.54 795.33 L764.95 788.75 L766.36 781.24 L767.77 780.06 L769.18 778.42 L770.59 776.04 L772 772.78 L774.11 774.19 L776.23 788.29 L777.64 795.1 L779.05 802.38 L780.46 809.29 L781.87 816.48 L783.28 826.93 L784.69 837.62 L786.1 845.22 L787.5 851.71 L788.91 865.81 L790.32 876.48 L791.73 886.95 L793.14 897.37 L794.55 908.1 L795.96 914.12 L797.37 920.06 L798.78 926.42 L800.19 930.62 L801.6 935.38 L803.01 940.51 L804.42 944.64 L805.83 947.8 L807.24 951.79 L808.65 954.15 L810.06 955.27 L811.47 957.43 L812.88 958.23 L814.29 959.55 L815.7 960.26 L817.1 961.66 L818.51 961.8 L819.92 962.72 L821.33 962.93 L822.74 963.1 L824.15 963.07 L824.15 963.1 L719.85 963.1 Z" fill="#f04040" fill-opacity="0.11" stroke="none"/>
<path d="M631.05 963.07 L632.46 963.1 L633.87 963.1 L635.28 963.1 L636.69 962.84 L638.1 962.96 L639.5 962.15 L640.91 962.83 L642.32 962.45 L643.73 962.71 L645.14 962.36 L646.55 962.42 L647.96 961.93 L649.37 961.56 L650.78 962.43 L652.19 961.45 L653.6 961.73 L655.01 961.66 L656.42 960.78 L657.83 960.03 L659.24 959.81 L660.65 958.84 L662.06 958.89 L663.47 957.63 L664.88 957.43 L666.29 956.54 L667.7 955.1 L669.1 954.32 L670.51 953.2 L671.92 951.67 L673.33 950.38 L674.74 947.67 L676.15 945.31 L677.56 943.33 L678.97 940.19 L680.38 938.14 L681.79 934.88 L683.2 930.64 L684.61 926.42 L686.02 921.88 L687.43 917.96 L688.84 914.88 L690.25 910.91 L691.66 906.53 L693.07 901.05 L694.48 894 L695.89 886.9 L697.3 879.9 L698.7 868.94 L700.11 858.76 L701.52 844.67 L702.93 837.62 L705.05 809.43 L706.46 789.7 L707.87 796.74 L708.57 792.51 L710.69 785.47 L712.8 778.42 L714.91 775.6 L717.03 772.08 L718.44 775.6 L719.85 783.72 L721.26 792.51 L722.67 796.29 L724.08 800.97 L725.49 812.07 L726.9 823.52 L728.3 837.17 L729.71 851.71 L731.12 862 L732.53 872.86 L733.94 883.16 L735.35 894 L736.76 904.65 L738.17 915.14 L739.58 922.62 L740.99 929.24 L742.4 935.15 L743.81 940.51 L745.22 944.65 L746.63 948.97 L748.04 949.58 L749.45 950.38 L750.86 951.11 L752.27 951.79 L753.68 952.59 L755.09 953.49 L756.5 954.61 L757.9 955.07 L759.31 956.24 L760.72 957.43 L762.13 958.88 L763.54 958.9 L764.95 960.25 L766.36 960.53 L767.77 960.95 L769.18 961.49 L770.59 961.06 L772 961.66 L773.41 961.69 L774.82 961.94 L776.23 962.39 L777.64 962.73 L779.05 963.07 L780.46 963.1 L781.87 963.1 L783.28 963.1 L784.69 963.1 L786.1 963.77 L786.1 963.1 L631.05 963.1 Z" fill="#3aae6a" fill-opacity="0.12" stroke="none"/>
<path d="M645.14 963.07 L646.55 962.48 L647.96 963.1 L649.37 963.1 L650.78 962.76 L652.19 962.81 L653.6 962.09 L655.01 962.45 L656.42 962.97 L657.83 962.79 L659.24 962.36 L660.65 962.47 L662.06 962.32 L663.47 961.24 L664.88 960.8 L666.29 960.95 L667.7 959.69 L669.1 959.22 L670.51 958.51 L671.92 957.43 L673.33 956.5 L674.74 954.85 L676.15 953.2 L677.56 951.95 L678.97 950.67 L680.38 948.97 L681.79 947.05 L683.2 945.27 L684.61 943.33 L686.02 940.01 L687.43 937.7 L688.84 933.78 L690.25 929.24 L691.66 921.9 L693.07 915.14 L694.48 912.08 L695.89 908.1 L697.3 901.21 L698.7 894 L700.11 883.21 L701.52 872.86 L702.93 868.63 L705.05 844.67 L707.16 836.21 L708.57 830.57 L709.98 819.59 L711.39 809.43 L712.8 802.11 L714.21 795.33 L716.32 784.06 L717.73 772.08 L719.85 778.42 L721.96 795.33 L724.08 799.56 L725.49 808.17 L726.9 816.48 L728.3 830.79 L729.71 844.67 L731.12 854.81 L732.53 865.81 L733.94 875.91 L735.35 886.95 L736.76 897.55 L738.17 908.1 L739.58 918.76 L740.99 929.24 L742.4 936.16 L743.81 943.33 L745.22 947.26 L746.63 951.79 L748.04 953.31 L749.45 954.61 L750.86 954.78 L752.27 956.02 L753.68 957.21 L755.09 958.84 L756.5 959.26 L757.9 960.28 L759.31 960.25 L760.72 960.76 L762.13 961.37 L763.54 961.28 L764.95 961.66 L766.36 961.65 L767.77 961.94 L769.18 963.01 L770.59 963.01 L772 963.07 L772 963.1 L645.14 963.1 Z" fill="#6a6a6a" fill-opacity="0.12" stroke="none"/>
<path d="M719.85 963.07 L721.26 963.01 L722.67 962.21 L724.08 962.66 L725.49 961.92 L726.9 961.66 L728.3 958.79 L729.71 956.41 L731.12 954.61 L732.53 951.78 L733.94 948.92 L735.35 946.15 L736.76 943.12 L738.17 940.51 L739.58 934.48 L740.99 929.24 L742.4 924.37 L743.81 919.64 L745.22 915.14 L746.63 908.47 L748.04 901.05 L749.45 889.93 L750.86 879.9 L752.27 873.13 L753.68 865.81 L755.79 847.49 L757.9 830.57 L759.31 820.37 L760.72 809.43 L762.13 801.96 L763.54 795.33 L764.95 788.75 L766.36 781.24 L767.77 780.06 L769.18 778.42 L770.59 776.04 L772 772.78 L774.11 774.19 L776.23 788.29 L777.64 795.1 L779.05 802.38 L780.46 809.29 L781.87 816.48 L783.28 826.93 L784.69 837.62 L786.1 845.22 L787.5 851.71 L788.91 865.81 L790.32 876.48 L791.73 886.95 L793.14 897.37 L794.55 908.1 L795.96 914.12 L797.37 920.06 L798.78 926.42 L800.19 930.62 L801.6 935.38 L803.01 940.51 L804.42 944.64 L805.83 947.8 L807.24 951.79 L808.65 954.15 L810.06 955.27 L811.47 957.43 L812.88 958.23 L814.29 959.55 L815.7 960.26 L817.1 961.66 L818.51 961.8 L819.92 962.72 L821.33 962.93 L822.74 963.1 L824.15 963.07" fill="none" stroke="#e02f33" stroke-width="1.45" stroke-linejoin="round"/>
<path d="M631.05 963.07 L632.46 963.1 L633.87 963.1 L635.28 963.1 L636.69 962.84 L638.1 962.96 L639.5 962.15 L640.91 962.83 L642.32 962.45 L643.73 962.71 L645.14 962.36 L646.55 962.42 L647.96 961.93 L649.37 961.56 L650.78 962.43 L652.19 961.45 L653.6 961.73 L655.01 961.66 L656.42 960.78 L657.83 960.03 L659.24 959.81 L660.65 958.84 L662.06 958.89 L663.47 957.63 L664.88 957.43 L666.29 956.54 L667.7 955.1 L669.1 954.32 L670.51 953.2 L671.92 951.67 L673.33 950.38 L674.74 947.67 L676.15 945.31 L677.56 943.33 L678.97 940.19 L680.38 938.14 L681.79 934.88 L683.2 930.64 L684.61 926.42 L686.02 921.88 L687.43 917.96 L688.84 914.88 L690.25 910.91 L691.66 906.53 L693.07 901.05 L694.48 894 L695.89 886.9 L697.3 879.9 L698.7 868.94 L700.11 858.76 L701.52 844.67 L702.93 837.62 L705.05 809.43 L706.46 789.7 L707.87 796.74 L708.57 792.51 L710.69 785.47 L712.8 778.42 L714.91 775.6 L717.03 772.08 L718.44 775.6 L719.85 783.72 L721.26 792.51 L722.67 796.29 L724.08 800.97 L725.49 812.07 L726.9 823.52 L728.3 837.17 L729.71 851.71 L731.12 862 L732.53 872.86 L733.94 883.16 L735.35 894 L736.76 904.65 L738.17 915.14 L739.58 922.62 L740.99 929.24 L742.4 935.15 L743.81 940.51 L745.22 944.65 L746.63 948.97 L748.04 949.58 L749.45 950.38 L750.86 951.11 L752.27 951.79 L753.68 952.59 L755.09 953.49 L756.5 954.61 L757.9 955.07 L759.31 956.24 L760.72 957.43 L762.13 958.88 L763.54 958.9 L764.95 960.25 L766.36 960.53 L767.77 960.95 L769.18 961.49 L770.59 961.06 L772 961.66 L773.41 961.69 L774.82 961.94 L776.23 962.39 L777.64 962.73 L779.05 963.07 L780.46 963.1 L781.87 963.1 L783.28 963.1 L784.69 963.1 L786.1 963.77" fill="none" stroke="#2aae62" stroke-width="1.45" stroke-linejoin="round"/>
<path d="M645.14 963.07 L646.55 962.48 L647.96 963.1 L649.37 963.1 L650.78 962.76 L652.19 962.81 L653.6 962.09 L655.01 962.45 L656.42 962.97 L657.83 962.79 L659.24 962.36 L660.65 962.47 L662.06 962.32 L663.47 961.24 L664.88 960.8 L666.29 960.95 L667.7 959.69 L669.1 959.22 L670.51 958.51 L671.92 957.43 L673.33 956.5 L674.74 954.85 L676.15 953.2 L677.56 951.95 L678.97 950.67 L680.38 948.97 L681.79 947.05 L683.2 945.27 L684.61 943.33 L686.02 940.01 L687.43 937.7 L688.84 933.78 L690.25 929.24 L691.66 921.9 L693.07 915.14 L694.48 912.08 L695.89 908.1 L697.3 901.21 L698.7 894 L700.11 883.21 L701.52 872.86 L702.93 868.63 L705.05 844.67 L707.16 836.21 L708.57 830.57 L709.98 819.59 L711.39 809.43 L712.8 802.11 L714.21 795.33 L716.32 784.06 L717.73 772.08 L719.85 778.42 L721.96 795.33 L724.08 799.56 L725.49 808.17 L726.9 816.48 L728.3 830.79 L729.71 844.67 L731.12 854.81 L732.53 865.81 L733.94 875.91 L735.35 886.95 L736.76 897.55 L738.17 908.1 L739.58 918.76 L740.99 929.24 L742.4 936.16 L743.81 943.33 L745.22 947.26 L746.63 951.79 L748.04 953.31 L749.45 954.61 L750.86 954.78 L752.27 956.02 L753.68 957.21 L755.09 958.84 L756.5 959.26 L757.9 960.28 L759.31 960.25 L760.72 960.76 L762.13 961.37 L763.54 961.28 L764.95 961.66 L766.36 961.65 L767.77 961.94 L769.18 963.01 L770.59 963.01 L772 963.07" fill="none" stroke="#111" stroke-width="1.45" stroke-linejoin="round"/>
<rect x="733.5" y="765.4" width="23" height="8" fill="#fbe3e3" stroke="#e02f33" stroke-width="1.1"/>
<rect x="733.5" y="780.8" width="23" height="8" fill="#dff1e6" stroke="#2aae62" stroke-width="1.1"/>
<rect x="733.5" y="795.6" width="23" height="8" fill="#e3e3e3" stroke="#111" stroke-width="1.1"/>
<g font-family='Liberation Sans, Arial, Helvetica, sans-serif' fill="#111111" font-size="11.5" stroke="#111111" stroke-width="0.25">
<text x="761.8" y="773">WT</text>
<text x="761.8" y="788.4">Iso Control</text>
<text x="761.8" y="803.2">DKO</text>
</g>
<g stroke="#404040" stroke-width="1.6" fill="none" stroke-linejoin="round">
<rect x="628.5" y="751.4" width="212.5" height="211.7"/>
<line x1="624.5" y1="963.1" x2="628.5" y2="963.1"/><line x1="626.5" y1="955.44" x2="628.5" y2="955.44"/><line x1="626.5" y1="947.77" x2="628.5" y2="947.77"/><line x1="626.5" y1="940.11" x2="628.5" y2="940.11"/><line x1="626.5" y1="932.45" x2="628.5" y2="932.45"/><line x1="624.5" y1="924.78" x2="628.5" y2="924.78"/><line x1="626.5" y1="917.12" x2="628.5" y2="917.12"/><line x1="626.5" y1="909.46" x2="628.5" y2="909.46"/><line x1="626.5" y1="901.79" x2="628.5" y2="901.79"/><line x1="626.5" y1="894.13" x2="628.5" y2="894.13"/><line x1="624.5" y1="886.47" x2="628.5" y2="886.47"/><line x1="626.5" y1="878.8" x2="628.5" y2="878.8"/><line x1="626.5" y1="871.14" x2="628.5" y2="871.14"/><line x1="626.5" y1="863.48" x2="628.5" y2="863.48"/><line x1="626.5" y1="855.81" x2="628.5" y2="855.81"/><line x1="624.5" y1="848.15" x2="628.5" y2="848.15"/><line x1="626.5" y1="840.49" x2="628.5" y2="840.49"/><line x1="626.5" y1="832.82" x2="628.5" y2="832.82"/><line x1="626.5" y1="825.16" x2="628.5" y2="825.16"/><line x1="626.5" y1="817.5" x2="628.5" y2="817.5"/><line x1="624.5" y1="809.83" x2="628.5" y2="809.83"/><line x1="626.5" y1="802.17" x2="628.5" y2="802.17"/><line x1="626.5" y1="794.51" x2="628.5" y2="794.51"/><line x1="626.5" y1="786.84" x2="628.5" y2="786.84"/><line x1="626.5" y1="779.18" x2="628.5" y2="779.18"/><line x1="624.5" y1="771.52" x2="628.5" y2="771.52"/><line x1="626.5" y1="763.85" x2="628.5" y2="763.85"/><line x1="626.5" y1="756.19" x2="628.5" y2="756.19"/><line x1="624.5" y1="751.4" x2="628.5" y2="751.4"/><line x1="628.5" y1="963.1" x2="628.5" y2="967.1"/><line x1="654.09" y1="963.1" x2="654.09" y2="965.1"/><line x1="669.06" y1="963.1" x2="669.06" y2="965.1"/><line x1="679.68" y1="963.1" x2="679.68" y2="965.1"/><line x1="687.91" y1="963.1" x2="687.91" y2="965.1"/><line x1="694.64" y1="963.1" x2="694.64" y2="965.1"/><line x1="700.33" y1="963.1" x2="700.33" y2="965.1"/><line x1="705.26" y1="963.1" x2="705.26" y2="965.1"/><line x1="709.61" y1="963.1" x2="709.61" y2="965.1"/><line x1="713.5" y1="963.1" x2="713.5" y2="967.1"/><line x1="739.09" y1="963.1" x2="739.09" y2="965.1"/><line x1="754.06" y1="963.1" x2="754.06" y2="965.1"/><line x1="764.68" y1="963.1" x2="764.68" y2="965.1"/><line x1="772.91" y1="963.1" x2="772.91" y2="965.1"/><line x1="779.64" y1="963.1" x2="779.64" y2="965.1"/><line x1="785.33" y1="963.1" x2="785.33" y2="965.1"/><line x1="790.26" y1="963.1" x2="790.26" y2="965.1"/><line x1="794.61" y1="963.1" x2="794.61" y2="965.1"/><line x1="798.5" y1="963.1" x2="798.5" y2="967.1"/><line x1="824.09" y1="963.1" x2="824.09" y2="965.1"/><line x1="839.06" y1="963.1" x2="839.06" y2="965.1"/><line x1="841" y1="963.1" x2="841" y2="967.1"/>
</g>
<g font-family='Liberation Sans, Arial, Helvetica, sans-serif' fill="#111111" stroke="#111111" stroke-width="0.25">
<text x="617.8" y="963.1" transform="rotate(-90 617.8 963.1)" text-anchor="middle" font-size="11.3">0</text><text x="617.8" y="924.78" transform="rotate(-90 617.8 924.78)" text-anchor="middle" font-size="11.3">20</text><text x="617.8" y="886.47" transform="rotate(-90 617.8 886.47)" text-anchor="middle" font-size="11.3">40</text><text x="617.8" y="848.15" transform="rotate(-90 617.8 848.15)" text-anchor="middle" font-size="11.3">60</text><text x="617.8" y="809.83" transform="rotate(-90 617.8 809.83)" text-anchor="middle" font-size="11.3">80</text><text x="617.8" y="771.52" transform="rotate(-90 617.8 771.52)" text-anchor="middle" font-size="11.3">100</text><text x="621.9" y="983.3" font-size="10.8">10<tspan dx="2.6" dy="-5.2" font-size="8.2">1</tspan></text><text x="706.9" y="983.3" font-size="10.8">10<tspan dx="2.6" dy="-5.2" font-size="8.2">2</tspan></text><text x="791.9" y="983.3" font-size="10.8">10<tspan dx="2.6" dy="-5.2" font-size="8.2">3</tspan></text><text x="826.3" y="983.3" font-size="10.8">10<tspan dx="2.6" dy="-5.2" font-size="8.2">3.5</tspan></text><text x="734.75" y="1001.9" text-anchor="middle" font-size="11.2">FITC-A</text><text x="597.8" y="858.05" transform="rotate(-90 597.8 858.05)" text-anchor="middle" font-size="11.6" xml:space="preserve">Count  (%)</text><text x="733.25" y="745.8" text-anchor="middle" font-size="11.6">WT / <tspan fill="#e02f33" stroke="#e02f33">E1</tspan></text>
</g>
</g>
<g>
<path d="M989.03 960.07 L990.44 958.45 L991.85 956.72 L993.26 955.84 L994.67 953.02 L996.08 950.2 L997.49 948.04 L998.9 945.41 L1000.3 943.15 L1001.71 939.6 L1003.12 936.76 L1004.53 933.29 L1005.94 926.71 L1007.35 919.19 L1008.76 908.32 L1010.17 898.05 L1011.58 886.96 L1012.99 876.9 L1014.4 862.63 L1015.81 848.71 L1017.22 834.53 L1018.63 820.52 L1020.04 810.15 L1021.45 799.38 L1022.86 793.41 L1024.27 788.1 L1025.68 785.61 L1027.09 782.47 L1028.5 779.21 L1029.9 775.42 L1032.02 769.78 L1034.13 774.01 L1035.54 781.06 L1036.95 788.1 L1038.36 796.94 L1039.77 806.43 L1041.18 813.99 L1042.59 820.52 L1044 830.89 L1045.41 841.67 L1046.82 852.59 L1048.23 862.81 L1049.64 873.08 L1051.05 883.95 L1052.46 894.22 L1053.87 905.1 L1055.28 913.13 L1056.69 920.6 L1058.1 927.42 L1059.5 934.7 L1060.91 939.42 L1062.32 943.15 L1063.73 945.97 L1065.14 948.79 L1066.55 951.27 L1067.96 954.43 L1069.37 954.48 L1070.78 955.13 L1072.19 956.8 L1073.6 958.66 L1075.01 959.02 L1076.42 959.5 L1077.83 958.8 L1079.24 959.36 L1080.65 959.6 L1082.06 959.75 L1083.47 960.8 L1084.88 960.77 L1084.88 960.8 L989.03 960.8 Z" fill="#f04040" fill-opacity="0.11" stroke="none"/>
<path d="M914.32 960.07 L915.73 959.57 L917.14 959.37 L918.55 959.28 L919.96 959.55 L921.37 960 L922.78 959.88 L924.19 959.36 L925.6 959.27 L927.01 959.2 L928.42 958.78 L929.83 957.76 L931.24 957.25 L932.65 957.25 L934.06 957.02 L935.47 956.11 L936.88 955.13 L938.29 954.09 L939.7 954.26 L941.1 953.41 L942.51 953.02 L943.92 951.94 L945.33 950.95 L946.74 950.2 L948.15 948.43 L949.56 946.83 L950.97 945.97 L952.38 942.91 L953.79 940.17 L955.2 937.51 L956.61 934.26 L958.02 929.58 L959.43 926.24 L960.84 923.22 L962.25 919.19 L963.66 913.94 L965.07 909.32 L966.48 904.94 L967.89 900.87 L969.3 896.29 L970.7 891 L972.82 876.9 L974.93 855.76 L977.05 841.67 L978.46 799.38 L979.16 792.33 L980.57 805.02 L981.98 796.56 L984.1 788.1 L986.21 781.06 L987.62 779.65 L989.73 771.19 L991.85 774.01 L993.26 781.41 L994.67 788.1 L996.78 790.92 L997.49 799.38 L998.9 807.76 L1000.3 816.3 L1001.71 822.85 L1003.12 830.39 L1004.53 841.67 L1005.94 852.21 L1007.35 862.81 L1008.76 873.24 L1010.17 883.95 L1011.58 894.99 L1012.99 905.1 L1014.4 913.21 L1015.81 922.01 L1017.22 928.2 L1018.63 934.7 L1020.04 939.36 L1021.45 943.15 L1022.86 944.75 L1024.27 947.38 L1025.68 948.69 L1027.09 950.54 L1028.5 951.61 L1029.9 952.84 L1031.31 952.98 L1032.72 954.43 L1034.13 954.86 L1035.54 955.83 L1036.95 957.25 L1038.36 957.99 L1039.77 957.54 L1041.18 958.37 L1042.59 958.81 L1044 958.66 L1045.41 958.76 L1046.82 958.97 L1048.23 960.01 L1049.64 959.91 L1051.05 960.07 L1052.46 959.95 L1053.87 960.59 L1055.28 960.29 L1056.69 960.38 L1058.1 960.77 L1058.1 960.8 L914.32 960.8 Z" fill="#3aae6a" fill-opacity="0.12" stroke="none"/>
<path d="M924.19 960.07 L925.6 959.43 L927.01 960.17 L928.42 960.26 L929.83 959.86 L931.24 960.11 L932.65 959.01 L934.06 959.16 L935.47 959.36 L936.88 959.05 L938.29 959.3 L939.7 959.02 L941.1 958.11 L942.51 957.95 L943.92 956.5 L945.33 955.53 L946.74 954.43 L948.15 953.01 L949.56 952.08 L950.97 950.2 L952.38 948.44 L953.79 947.71 L955.2 945.97 L956.61 944.82 L958.02 943.15 L959.43 940.69 L960.84 937.51 L962.25 934.29 L963.66 930.47 L965.07 925.65 L966.48 920.6 L967.89 916.18 L969.3 912.14 L970.7 904.9 L972.11 898.05 L974.23 883.95 L976.34 876.9 L977.75 855.76 L979.16 845.9 L980.57 847.3 L981.98 834.62 L984.1 820.52 L986.21 809.25 L988.32 789.51 L990.44 769.78 L992.55 774.01 L993.96 782.47 L995.37 785.29 L997.49 789.51 L999.6 806.43 L1001.71 820.52 L1003.12 830.94 L1004.53 841.67 L1005.94 852.55 L1007.35 862.81 L1008.76 872.92 L1010.17 883.95 L1011.58 894.19 L1012.99 905.1 L1014.4 915.94 L1015.81 926.24 L1017.22 933.01 L1018.63 940.33 L1020.04 943.38 L1021.45 947.38 L1022.86 948.28 L1024.27 950.2 L1025.68 952.37 L1027.09 954.43 L1028.5 955.18 L1029.9 956.84 L1031.31 957.25 L1032.72 958.02 L1034.13 958.49 L1035.54 958.05 L1036.95 958.66 L1038.36 958.48 L1039.77 958.78 L1041.18 959.5 L1042.59 960.02 L1044 960.07 L1044 960.8 L924.19 960.8 Z" fill="#6a6a6a" fill-opacity="0.12" stroke="none"/>
<path d="M989.03 960.07 L990.44 958.45 L991.85 956.72 L993.26 955.84 L994.67 953.02 L996.08 950.2 L997.49 948.04 L998.9 945.41 L1000.3 943.15 L1001.71 939.6 L1003.12 936.76 L1004.53 933.29 L1005.94 926.71 L1007.35 919.19 L1008.76 908.32 L1010.17 898.05 L1011.58 886.96 L1012.99 876.9 L1014.4 862.63 L1015.81 848.71 L1017.22 834.53 L1018.63 820.52 L1020.04 810.15 L1021.45 799.38 L1022.86 793.41 L1024.27 788.1 L1025.68 785.61 L1027.09 782.47 L1028.5 779.21 L1029.9 775.42 L1032.02 769.78 L1034.13 774.01 L1035.54 781.06 L1036.95 788.1 L1038.36 796.94 L1039.77 806.43 L1041.18 813.99 L1042.59 820.52 L1044 830.89 L1045.41 841.67 L1046.82 852.59 L1048.23 862.81 L1049.64 873.08 L1051.05 883.95 L1052.46 894.22 L1053.87 905.1 L1055.28 913.13 L1056.69 920.6 L1058.1 927.42 L1059.5 934.7 L1060.91 939.42 L1062.32 943.15 L1063.73 945.97 L1065.14 948.79 L1066.55 951.27 L1067.96 954.43 L1069.37 954.48 L1070.78 955.13 L1072.19 956.8 L1073.6 958.66 L1075.01 959.02 L1076.42 959.5 L1077.83 958.8 L1079.24 959.36 L1080.65 959.6 L1082.06 959.75 L1083.47 960.8 L1084.88 960.77" fill="none" stroke="#e02f33" stroke-width="1.45" stroke-linejoin="round"/>
<path d="M914.32 960.07 L915.73 959.57 L917.14 959.37 L918.55 959.28 L919.96 959.55 L921.37 960 L922.78 959.88 L924.19 959.36 L925.6 959.27 L927.01 959.2 L928.42 958.78 L929.83 957.76 L931.24 957.25 L932.65 957.25 L934.06 957.02 L935.47 956.11 L936.88 955.13 L938.29 954.09 L939.7 954.26 L941.1 953.41 L942.51 953.02 L943.92 951.94 L945.33 950.95 L946.74 950.2 L948.15 948.43 L949.56 946.83 L950.97 945.97 L952.38 942.91 L953.79 940.17 L955.2 937.51 L956.61 934.26 L958.02 929.58 L959.43 926.24 L960.84 923.22 L962.25 919.19 L963.66 913.94 L965.07 909.32 L966.48 904.94 L967.89 900.87 L969.3 896.29 L970.7 891 L972.82 876.9 L974.93 855.76 L977.05 841.67 L978.46 799.38 L979.16 792.33 L980.57 805.02 L981.98 796.56 L984.1 788.1 L986.21 781.06 L987.62 779.65 L989.73 771.19 L991.85 774.01 L993.26 781.41 L994.67 788.1 L996.78 790.92 L997.49 799.38 L998.9 807.76 L1000.3 816.3 L1001.71 822.85 L1003.12 830.39 L1004.53 841.67 L1005.94 852.21 L1007.35 862.81 L1008.76 873.24 L1010.17 883.95 L1011.58 894.99 L1012.99 905.1 L1014.4 913.21 L1015.81 922.01 L1017.22 928.2 L1018.63 934.7 L1020.04 939.36 L1021.45 943.15 L1022.86 944.75 L1024.27 947.38 L1025.68 948.69 L1027.09 950.54 L1028.5 951.61 L1029.9 952.84 L1031.31 952.98 L1032.72 954.43 L1034.13 954.86 L1035.54 955.83 L1036.95 957.25 L1038.36 957.99 L1039.77 957.54 L1041.18 958.37 L1042.59 958.81 L1044 958.66 L1045.41 958.76 L1046.82 958.97 L1048.23 960.01 L1049.64 959.91 L1051.05 960.07 L1052.46 959.95 L1053.87 960.59 L1055.28 960.29 L1056.69 960.38 L1058.1 960.77" fill="none" stroke="#2aae62" stroke-width="1.45" stroke-linejoin="round"/>
<path d="M924.19 960.07 L925.6 959.43 L927.01 960.17 L928.42 960.26 L929.83 959.86 L931.24 960.11 L932.65 959.01 L934.06 959.16 L935.47 959.36 L936.88 959.05 L938.29 959.3 L939.7 959.02 L941.1 958.11 L942.51 957.95 L943.92 956.5 L945.33 955.53 L946.74 954.43 L948.15 953.01 L949.56 952.08 L950.97 950.2 L952.38 948.44 L953.79 947.71 L955.2 945.97 L956.61 944.82 L958.02 943.15 L959.43 940.69 L960.84 937.51 L962.25 934.29 L963.66 930.47 L965.07 925.65 L966.48 920.6 L967.89 916.18 L969.3 912.14 L970.7 904.9 L972.11 898.05 L974.23 883.95 L976.34 876.9 L977.75 855.76 L979.16 845.9 L980.57 847.3 L981.98 834.62 L984.1 820.52 L986.21 809.25 L988.32 789.51 L990.44 769.78 L992.55 774.01 L993.96 782.47 L995.37 785.29 L997.49 789.51 L999.6 806.43 L1001.71 820.52 L1003.12 830.94 L1004.53 841.67 L1005.94 852.55 L1007.35 862.81 L1008.76 872.92 L1010.17 883.95 L1011.58 894.19 L1012.99 905.1 L1014.4 915.94 L1015.81 926.24 L1017.22 933.01 L1018.63 940.33 L1020.04 943.38 L1021.45 947.38 L1022.86 948.28 L1024.27 950.2 L1025.68 952.37 L1027.09 954.43 L1028.5 955.18 L1029.9 956.84 L1031.31 957.25 L1032.72 958.02 L1034.13 958.49 L1035.54 958.05 L1036.95 958.66 L1038.36 958.48 L1039.77 958.78 L1041.18 959.5 L1042.59 960.02 L1044 960.07" fill="none" stroke="#111" stroke-width="1.45" stroke-linejoin="round"/>
<rect x="1006.4" y="762.6" width="23" height="8" fill="#fbe3e3" stroke="#e02f33" stroke-width="1.1"/>
<rect x="1006.4" y="778" width="23" height="8" fill="#dff1e6" stroke="#2aae62" stroke-width="1.1"/>
<rect x="1006.4" y="792.8" width="23" height="8" fill="#e3e3e3" stroke="#111" stroke-width="1.1"/>
<g font-family='Liberation Sans, Arial, Helvetica, sans-serif' fill="#111111" font-size="11.5" stroke="#111111" stroke-width="0.25">
<text x="1034.7" y="770.2">WT</text>
<text x="1034.7" y="785.6">Iso Control</text>
<text x="1034.7" y="800.4">DKO</text>
</g>
<g stroke="#404040" stroke-width="1.6" fill="none" stroke-linejoin="round">
<rect x="901.4" y="748.6" width="212.8" height="212.2"/>
<line x1="897.4" y1="960.8" x2="901.4" y2="960.8"/><line x1="899.4" y1="953.12" x2="901.4" y2="953.12"/><line x1="899.4" y1="945.44" x2="901.4" y2="945.44"/><line x1="899.4" y1="937.76" x2="901.4" y2="937.76"/><line x1="899.4" y1="930.07" x2="901.4" y2="930.07"/><line x1="897.4" y1="922.39" x2="901.4" y2="922.39"/><line x1="899.4" y1="914.71" x2="901.4" y2="914.71"/><line x1="899.4" y1="907.03" x2="901.4" y2="907.03"/><line x1="899.4" y1="899.35" x2="901.4" y2="899.35"/><line x1="899.4" y1="891.67" x2="901.4" y2="891.67"/><line x1="897.4" y1="883.99" x2="901.4" y2="883.99"/><line x1="899.4" y1="876.3" x2="901.4" y2="876.3"/><line x1="899.4" y1="868.62" x2="901.4" y2="868.62"/><line x1="899.4" y1="860.94" x2="901.4" y2="860.94"/><line x1="899.4" y1="853.26" x2="901.4" y2="853.26"/><line x1="897.4" y1="845.58" x2="901.4" y2="845.58"/><line x1="899.4" y1="837.9" x2="901.4" y2="837.9"/><line x1="899.4" y1="830.22" x2="901.4" y2="830.22"/><line x1="899.4" y1="822.53" x2="901.4" y2="822.53"/><line x1="899.4" y1="814.85" x2="901.4" y2="814.85"/><line x1="897.4" y1="807.17" x2="901.4" y2="807.17"/><line x1="899.4" y1="799.49" x2="901.4" y2="799.49"/><line x1="899.4" y1="791.81" x2="901.4" y2="791.81"/><line x1="899.4" y1="784.13" x2="901.4" y2="784.13"/><line x1="899.4" y1="776.45" x2="901.4" y2="776.45"/><line x1="897.4" y1="768.76" x2="901.4" y2="768.76"/><line x1="899.4" y1="761.08" x2="901.4" y2="761.08"/><line x1="899.4" y1="753.4" x2="901.4" y2="753.4"/><line x1="897.4" y1="748.6" x2="901.4" y2="748.6"/><line x1="901.4" y1="960.8" x2="901.4" y2="964.8"/><line x1="927.02" y1="960.8" x2="927.02" y2="962.8"/><line x1="942.01" y1="960.8" x2="942.01" y2="962.8"/><line x1="952.65" y1="960.8" x2="952.65" y2="962.8"/><line x1="960.9" y1="960.8" x2="960.9" y2="962.8"/><line x1="967.64" y1="960.8" x2="967.64" y2="962.8"/><line x1="973.33" y1="960.8" x2="973.33" y2="962.8"/><line x1="978.27" y1="960.8" x2="978.27" y2="962.8"/><line x1="982.63" y1="960.8" x2="982.63" y2="962.8"/><line x1="986.52" y1="960.8" x2="986.52" y2="964.8"/><line x1="1012.14" y1="960.8" x2="1012.14" y2="962.8"/><line x1="1027.13" y1="960.8" x2="1027.13" y2="962.8"/><line x1="1037.77" y1="960.8" x2="1037.77" y2="962.8"/><line x1="1046.02" y1="960.8" x2="1046.02" y2="962.8"/><line x1="1052.76" y1="960.8" x2="1052.76" y2="962.8"/><line x1="1058.45" y1="960.8" x2="1058.45" y2="962.8"/><line x1="1063.39" y1="960.8" x2="1063.39" y2="962.8"/><line x1="1067.75" y1="960.8" x2="1067.75" y2="962.8"/><line x1="1071.64" y1="960.8" x2="1071.64" y2="964.8"/><line x1="1097.26" y1="960.8" x2="1097.26" y2="962.8"/><line x1="1112.25" y1="960.8" x2="1112.25" y2="962.8"/><line x1="1114.2" y1="960.8" x2="1114.2" y2="964.8"/>
</g>
<g font-family='Liberation Sans, Arial, Helvetica, sans-serif' fill="#111111" stroke="#111111" stroke-width="0.25">
<text x="890.7" y="960.8" transform="rotate(-90 890.7 960.8)" text-anchor="middle" font-size="11.3">0</text><text x="890.7" y="922.39" transform="rotate(-90 890.7 922.39)" text-anchor="middle" font-size="11.3">20</text><text x="890.7" y="883.99" transform="rotate(-90 890.7 883.99)" text-anchor="middle" font-size="11.3">40</text><text x="890.7" y="845.58" transform="rotate(-90 890.7 845.58)" text-anchor="middle" font-size="11.3">60</text><text x="890.7" y="807.17" transform="rotate(-90 890.7 807.17)" text-anchor="middle" font-size="11.3">80</text><text x="890.7" y="768.76" transform="rotate(-90 890.7 768.76)" text-anchor="middle" font-size="11.3">100</text><text x="894.8" y="981" font-size="10.8">10<tspan dx="2.6" dy="-5.2" font-size="8.2">1</tspan></text><text x="979.92" y="981" font-size="10.8">10<tspan dx="2.6" dy="-5.2" font-size="8.2">2</tspan></text><text x="1065.04" y="981" font-size="10.8">10<tspan dx="2.6" dy="-5.2" font-size="8.2">3</tspan></text><text x="1099.5" y="981" font-size="10.8">10<tspan dx="2.6" dy="-5.2" font-size="8.2">3.5</tspan></text><text x="1007.8" y="999.6" text-anchor="middle" font-size="11.2">FITC-A</text><text x="870.7" y="855.5" transform="rotate(-90 870.7 855.5)" text-anchor="middle" font-size="11.6" xml:space="preserve">Count  (%)</text><text x="1006.3" y="743" text-anchor="middle" font-size="11.6">WT / <tspan fill="#e02f33" stroke="#e02f33">E1</tspan></text>
</g>
</g>
<g>
<path d="M728.85 1239.3 L730.26 1239.19 L731.67 1238.83 L733.08 1238.92 L734.49 1239.02 L735.9 1238.97 L737.3 1238.66 L738.71 1238.23 L740.12 1237.63 L741.53 1236.72 L742.94 1235.84 L744.35 1235.42 L745.76 1236.21 L747.17 1235.84 L748.58 1232.79 L749.99 1230.27 L751.4 1227.38 L752.81 1222.31 L754.22 1217.51 L755.63 1212.14 L757.04 1206.24 L758.45 1197.45 L759.86 1189.32 L761.27 1179.88 L762.68 1171 L764.09 1160.15 L765.5 1149.86 L766.9 1135.38 L768.31 1121.67 L769.72 1118.57 L771.13 1114.62 L772.54 1104.13 L773.95 1093.48 L775.36 1082.71 L776.77 1072.33 L778.89 1065.29 L781 1054.01 L783.11 1048.37 L785.23 1052.6 L787.34 1054.01 L788.75 1065.29 L790.87 1083.61 L792.28 1084.9 L793.69 1086.43 L795.1 1090.49 L796.5 1093.48 L797.91 1100.53 L799.32 1107.57 L800.73 1114.32 L802.14 1121.67 L803.55 1129.05 L804.96 1135.76 L806.37 1146.5 L807.78 1156.9 L809.19 1168.02 L810.6 1178.05 L812.01 1188.18 L813.42 1199.19 L814.83 1206.21 L816.24 1213.29 L817.65 1216.93 L819.06 1220.24 L820.47 1223.15 L821.88 1226.43 L823.29 1228.28 L824.7 1231.61 L826.1 1233.26 L827.51 1234.95 L828.92 1237.25 L830.33 1237.61 L831.74 1239.18 L833.15 1239.3 L834.56 1239.3 L835.97 1239.3 L837.38 1238.87 L838.79 1239.29 L840.2 1238.72 L841.61 1238.66 L843.02 1238.57 L844.43 1239.3 L845.84 1239.3 L847.25 1239.36 L847.25 1239.3 L728.85 1239.3 Z" fill="#f04040" fill-opacity="0.11" stroke="none"/>
<path d="M644.28 1239.3 L645.69 1238.84 L647.1 1239.29 L648.5 1239.23 L649.91 1238.7 L651.32 1238.78 L652.73 1238.44 L654.14 1238.42 L655.55 1238.66 L656.96 1238.19 L658.37 1238.36 L659.78 1238.22 L661.19 1237.53 L662.6 1237.11 L664.01 1237.26 L665.42 1237.25 L666.83 1236.74 L668.24 1235.49 L669.65 1234.93 L671.06 1234.43 L672.47 1234.1 L673.88 1234.75 L675.29 1234.43 L676.7 1233.07 L678.1 1231.13 L679.51 1230.2 L680.92 1228.82 L682.33 1228.21 L683.74 1227.38 L685.15 1225.09 L686.56 1222.84 L687.97 1220.33 L689.38 1216.59 L690.79 1213.39 L692.2 1210.47 L693.61 1206.45 L695.02 1202.01 L696.43 1198.39 L697.84 1194.96 L699.25 1189.79 L700.66 1185.1 L702.07 1178.54 L703.48 1172.41 L704.89 1168.68 L706.3 1163.95 L708.41 1142.81 L710.52 1118.85 L712.64 1110.39 L714.75 1072.33 L716.16 1075.15 L717.57 1079.38 L718.98 1069.51 L721.1 1065.29 L723.21 1058.24 L725.32 1055.42 L727.44 1049.08 L728.85 1056.97 L730.26 1065.29 L731.67 1075.15 L733.08 1076.56 L734.49 1087.21 L735.9 1097.7 L737.3 1106 L738.71 1114.62 L740.12 1125.1 L741.53 1135.76 L742.94 1146.73 L744.35 1156.9 L745.76 1168.02 L747.17 1178.05 L748.58 1188.47 L749.99 1199.19 L751.4 1203.79 L752.81 1209.06 L754.22 1214.95 L755.63 1220.33 L757.04 1222.83 L758.45 1225.97 L759.86 1226.84 L761.27 1228.79 L762.68 1230.64 L764.09 1231.61 L765.5 1232.47 L766.9 1233.84 L768.31 1234.43 L769.72 1234.8 L771.13 1235.79 L772.54 1235.84 L773.95 1236.26 L775.36 1236.41 L776.77 1237.25 L778.18 1236.95 L779.59 1237.77 L781 1238.11 L782.41 1238.64 L783.82 1237.97 L785.23 1238.66 L786.64 1238.89 L788.05 1238.72 L789.46 1238.96 L790.87 1238.67 L792.28 1238.92 L793.69 1239.28 L795.1 1239.36 L795.1 1239.3 L644.28 1239.3 Z" fill="#3aae6a" fill-opacity="0.12" stroke="none"/>
<path d="M661.19 1239.3 L662.6 1239.3 L664.01 1238.76 L665.42 1239.09 L666.83 1239.3 L668.24 1239.3 L669.65 1238.5 L671.06 1238.33 L672.47 1238.66 L673.88 1238.58 L675.29 1238.05 L676.7 1236.95 L678.1 1235.91 L679.51 1235.84 L680.92 1235.37 L682.33 1233.84 L683.74 1233.02 L685.15 1232.05 L686.56 1230.33 L687.97 1228.79 L689.38 1227.74 L690.79 1225.6 L692.2 1224.56 L693.61 1223.47 L695.02 1221.74 L696.43 1218.62 L697.84 1216.1 L699.25 1211.07 L700.66 1206.24 L702.07 1200.98 L703.48 1194.96 L704.89 1190.39 L706.3 1185.1 L707.7 1177.7 L709.11 1171 L711.23 1154.09 L713.34 1149.86 L714.75 1128.71 L716.87 1118.85 L718.98 1110.39 L721.1 1093.48 L723.21 1079.38 L725.32 1062.47 L727.44 1048.37 L729.55 1055.42 L730.96 1065.29 L732.37 1070.92 L733.78 1073.74 L735.9 1093.48 L737.3 1103.74 L738.71 1114.62 L740.12 1125.08 L741.53 1135.76 L742.94 1146.35 L744.35 1156.9 L745.76 1167.35 L747.17 1178.05 L748.58 1186.09 L749.99 1194.96 L751.4 1201.73 L752.81 1209.06 L754.22 1214.94 L755.63 1220.33 L757.04 1225 L758.45 1228.79 L759.86 1229.7 L761.27 1231.61 L762.68 1233.09 L764.09 1234.43 L765.5 1235.65 L766.9 1235.8 L768.31 1237.25 L769.72 1237.97 L771.13 1237.53 L772.54 1238.41 L773.95 1238.66 L775.36 1238.83 L776.77 1239.03 L778.18 1238.8 L779.59 1239.04 L781 1239.3 L782.41 1239.36 L782.41 1239.3 L661.19 1239.3 Z" fill="#6a6a6a" fill-opacity="0.12" stroke="none"/>
<path d="M728.85 1239.3 L730.26 1239.19 L731.67 1238.83 L733.08 1238.92 L734.49 1239.02 L735.9 1238.97 L737.3 1238.66 L738.71 1238.23 L740.12 1237.63 L741.53 1236.72 L742.94 1235.84 L744.35 1235.42 L745.76 1236.21 L747.17 1235.84 L748.58 1232.79 L749.99 1230.27 L751.4 1227.38 L752.81 1222.31 L754.22 1217.51 L755.63 1212.14 L757.04 1206.24 L758.45 1197.45 L759.86 1189.32 L761.27 1179.88 L762.68 1171 L764.09 1160.15 L765.5 1149.86 L766.9 1135.38 L768.31 1121.67 L769.72 1118.57 L771.13 1114.62 L772.54 1104.13 L773.95 1093.48 L775.36 1082.71 L776.77 1072.33 L778.89 1065.29 L781 1054.01 L783.11 1048.37 L785.23 1052.6 L787.34 1054.01 L788.75 1065.29 L790.87 1083.61 L792.28 1084.9 L793.69 1086.43 L795.1 1090.49 L796.5 1093.48 L797.91 1100.53 L799.32 1107.57 L800.73 1114.32 L802.14 1121.67 L803.55 1129.05 L804.96 1135.76 L806.37 1146.5 L807.78 1156.9 L809.19 1168.02 L810.6 1178.05 L812.01 1188.18 L813.42 1199.19 L814.83 1206.21 L816.24 1213.29 L817.65 1216.93 L819.06 1220.24 L820.47 1223.15 L821.88 1226.43 L823.29 1228.28 L824.7 1231.61 L826.1 1233.26 L827.51 1234.95 L828.92 1237.25 L830.33 1237.61 L831.74 1239.18 L833.15 1239.3 L834.56 1239.3 L835.97 1239.3 L837.38 1238.87 L838.79 1239.29 L840.2 1238.72 L841.61 1238.66 L843.02 1238.57 L844.43 1239.3 L845.84 1239.3 L847.25 1239.36" fill="none" stroke="#e02f33" stroke-width="1.45" stroke-linejoin="round"/>
<path d="M644.28 1239.3 L645.69 1238.84 L647.1 1239.29 L648.5 1239.23 L649.91 1238.7 L651.32 1238.78 L652.73 1238.44 L654.14 1238.42 L655.55 1238.66 L656.96 1238.19 L658.37 1238.36 L659.78 1238.22 L661.19 1237.53 L662.6 1237.11 L664.01 1237.26 L665.42 1237.25 L666.83 1236.74 L668.24 1235.49 L669.65 1234.93 L671.06 1234.43 L672.47 1234.1 L673.88 1234.75 L675.29 1234.43 L676.7 1233.07 L678.1 1231.13 L679.51 1230.2 L680.92 1228.82 L682.33 1228.21 L683.74 1227.38 L685.15 1225.09 L686.56 1222.84 L687.97 1220.33 L689.38 1216.59 L690.79 1213.39 L692.2 1210.47 L693.61 1206.45 L695.02 1202.01 L696.43 1198.39 L697.84 1194.96 L699.25 1189.79 L700.66 1185.1 L702.07 1178.54 L703.48 1172.41 L704.89 1168.68 L706.3 1163.95 L708.41 1142.81 L710.52 1118.85 L712.64 1110.39 L714.75 1072.33 L716.16 1075.15 L717.57 1079.38 L718.98 1069.51 L721.1 1065.29 L723.21 1058.24 L725.32 1055.42 L727.44 1049.08 L728.85 1056.97 L730.26 1065.29 L731.67 1075.15 L733.08 1076.56 L734.49 1087.21 L735.9 1097.7 L737.3 1106 L738.71 1114.62 L740.12 1125.1 L741.53 1135.76 L742.94 1146.73 L744.35 1156.9 L745.76 1168.02 L747.17 1178.05 L748.58 1188.47 L749.99 1199.19 L751.4 1203.79 L752.81 1209.06 L754.22 1214.95 L755.63 1220.33 L757.04 1222.83 L758.45 1225.97 L759.86 1226.84 L761.27 1228.79 L762.68 1230.64 L764.09 1231.61 L765.5 1232.47 L766.9 1233.84 L768.31 1234.43 L769.72 1234.8 L771.13 1235.79 L772.54 1235.84 L773.95 1236.26 L775.36 1236.41 L776.77 1237.25 L778.18 1236.95 L779.59 1237.77 L781 1238.11 L782.41 1238.64 L783.82 1237.97 L785.23 1238.66 L786.64 1238.89 L788.05 1238.72 L789.46 1238.96 L790.87 1238.67 L792.28 1238.92 L793.69 1239.28 L795.1 1239.36" fill="none" stroke="#2aae62" stroke-width="1.45" stroke-linejoin="round"/>
<path d="M661.19 1239.3 L662.6 1239.3 L664.01 1238.76 L665.42 1239.09 L666.83 1239.3 L668.24 1239.3 L669.65 1238.5 L671.06 1238.33 L672.47 1238.66 L673.88 1238.58 L675.29 1238.05 L676.7 1236.95 L678.1 1235.91 L679.51 1235.84 L680.92 1235.37 L682.33 1233.84 L683.74 1233.02 L685.15 1232.05 L686.56 1230.33 L687.97 1228.79 L689.38 1227.74 L690.79 1225.6 L692.2 1224.56 L693.61 1223.47 L695.02 1221.74 L696.43 1218.62 L697.84 1216.1 L699.25 1211.07 L700.66 1206.24 L702.07 1200.98 L703.48 1194.96 L704.89 1190.39 L706.3 1185.1 L707.7 1177.7 L709.11 1171 L711.23 1154.09 L713.34 1149.86 L714.75 1128.71 L716.87 1118.85 L718.98 1110.39 L721.1 1093.48 L723.21 1079.38 L725.32 1062.47 L727.44 1048.37 L729.55 1055.42 L730.96 1065.29 L732.37 1070.92 L733.78 1073.74 L735.9 1093.48 L737.3 1103.74 L738.71 1114.62 L740.12 1125.08 L741.53 1135.76 L742.94 1146.35 L744.35 1156.9 L745.76 1167.35 L747.17 1178.05 L748.58 1186.09 L749.99 1194.96 L751.4 1201.73 L752.81 1209.06 L754.22 1214.94 L755.63 1220.33 L757.04 1225 L758.45 1228.79 L759.86 1229.7 L761.27 1231.61 L762.68 1233.09 L764.09 1234.43 L765.5 1235.65 L766.9 1235.8 L768.31 1237.25 L769.72 1237.97 L771.13 1237.53 L772.54 1238.41 L773.95 1238.66 L775.36 1238.83 L776.77 1239.03 L778.18 1238.8 L779.59 1239.04 L781 1239.3 L782.41 1239.36" fill="none" stroke="#111" stroke-width="1.45" stroke-linejoin="round"/>
<rect x="742.9" y="1041.7" width="23" height="8" fill="#fbe3e3" stroke="#e02f33" stroke-width="1.1"/>
<rect x="742.9" y="1057.1" width="23" height="8" fill="#dff1e6" stroke="#2aae62" stroke-width="1.1"/>
<rect x="742.9" y="1071.9" width="23" height="8" fill="#e3e3e3" stroke="#111" stroke-width="1.1"/>
<g font-family='Liberation Sans, Arial, Helvetica, sans-serif' fill="#111111" font-size="11.5" stroke="#111111" stroke-width="0.25">
<text x="771.2" y="1049.3">WT</text>
<text x="771.2" y="1064.7">Iso Control</text>
<text x="771.2" y="1079.5">DKO</text>
</g>
<g stroke="#404040" stroke-width="1.6" fill="none" stroke-linejoin="round">
<rect x="637.9" y="1027.7" width="212.9" height="211.6"/>
<line x1="633.9" y1="1239.3" x2="637.9" y2="1239.3"/><line x1="635.9" y1="1231.64" x2="637.9" y2="1231.64"/><line x1="635.9" y1="1223.98" x2="637.9" y2="1223.98"/><line x1="635.9" y1="1216.32" x2="637.9" y2="1216.32"/><line x1="635.9" y1="1208.66" x2="637.9" y2="1208.66"/><line x1="633.9" y1="1201" x2="637.9" y2="1201"/><line x1="635.9" y1="1193.34" x2="637.9" y2="1193.34"/><line x1="635.9" y1="1185.68" x2="637.9" y2="1185.68"/><line x1="635.9" y1="1178.02" x2="637.9" y2="1178.02"/><line x1="635.9" y1="1170.36" x2="637.9" y2="1170.36"/><line x1="633.9" y1="1162.7" x2="637.9" y2="1162.7"/><line x1="635.9" y1="1155.04" x2="637.9" y2="1155.04"/><line x1="635.9" y1="1147.38" x2="637.9" y2="1147.38"/><line x1="635.9" y1="1139.72" x2="637.9" y2="1139.72"/><line x1="635.9" y1="1132.06" x2="637.9" y2="1132.06"/><line x1="633.9" y1="1124.4" x2="637.9" y2="1124.4"/><line x1="635.9" y1="1116.74" x2="637.9" y2="1116.74"/><line x1="635.9" y1="1109.08" x2="637.9" y2="1109.08"/><line x1="635.9" y1="1101.42" x2="637.9" y2="1101.42"/><line x1="635.9" y1="1093.77" x2="637.9" y2="1093.77"/><line x1="633.9" y1="1086.11" x2="637.9" y2="1086.11"/><line x1="635.9" y1="1078.45" x2="637.9" y2="1078.45"/><line x1="635.9" y1="1070.79" x2="637.9" y2="1070.79"/><line x1="635.9" y1="1063.13" x2="637.9" y2="1063.13"/><line x1="635.9" y1="1055.47" x2="637.9" y2="1055.47"/><line x1="633.9" y1="1047.81" x2="637.9" y2="1047.81"/><line x1="635.9" y1="1040.15" x2="637.9" y2="1040.15"/><line x1="635.9" y1="1032.49" x2="637.9" y2="1032.49"/><line x1="633.9" y1="1027.7" x2="637.9" y2="1027.7"/><line x1="637.9" y1="1239.3" x2="637.9" y2="1243.3"/><line x1="663.54" y1="1239.3" x2="663.54" y2="1241.3"/><line x1="678.53" y1="1239.3" x2="678.53" y2="1241.3"/><line x1="689.17" y1="1239.3" x2="689.17" y2="1241.3"/><line x1="697.42" y1="1239.3" x2="697.42" y2="1241.3"/><line x1="704.17" y1="1239.3" x2="704.17" y2="1241.3"/><line x1="709.87" y1="1239.3" x2="709.87" y2="1241.3"/><line x1="714.81" y1="1239.3" x2="714.81" y2="1241.3"/><line x1="719.16" y1="1239.3" x2="719.16" y2="1241.3"/><line x1="723.06" y1="1239.3" x2="723.06" y2="1243.3"/><line x1="748.7" y1="1239.3" x2="748.7" y2="1241.3"/><line x1="763.69" y1="1239.3" x2="763.69" y2="1241.3"/><line x1="774.33" y1="1239.3" x2="774.33" y2="1241.3"/><line x1="782.58" y1="1239.3" x2="782.58" y2="1241.3"/><line x1="789.33" y1="1239.3" x2="789.33" y2="1241.3"/><line x1="795.03" y1="1239.3" x2="795.03" y2="1241.3"/><line x1="799.97" y1="1239.3" x2="799.97" y2="1241.3"/><line x1="804.32" y1="1239.3" x2="804.32" y2="1241.3"/><line x1="808.22" y1="1239.3" x2="808.22" y2="1243.3"/><line x1="833.86" y1="1239.3" x2="833.86" y2="1241.3"/><line x1="848.85" y1="1239.3" x2="848.85" y2="1241.3"/><line x1="850.8" y1="1239.3" x2="850.8" y2="1243.3"/>
</g>
<g font-family='Liberation Sans, Arial, Helvetica, sans-serif' fill="#111111" stroke="#111111" stroke-width="0.25">
<text x="627.2" y="1239.3" transform="rotate(-90 627.2 1239.3)" text-anchor="middle" font-size="11.3">0</text><text x="627.2" y="1201" transform="rotate(-90 627.2 1201)" text-anchor="middle" font-size="11.3">20</text><text x="627.2" y="1162.7" transform="rotate(-90 627.2 1162.7)" text-anchor="middle" font-size="11.3">40</text><text x="627.2" y="1124.4" transform="rotate(-90 627.2 1124.4)" text-anchor="middle" font-size="11.3">60</text><text x="627.2" y="1086.11" transform="rotate(-90 627.2 1086.11)" text-anchor="middle" font-size="11.3">80</text><text x="627.2" y="1047.81" transform="rotate(-90 627.2 1047.81)" text-anchor="middle" font-size="11.3">100</text><text x="631.3" y="1259.5" font-size="10.8">10<tspan dx="2.6" dy="-5.2" font-size="8.2">1</tspan></text><text x="716.46" y="1259.5" font-size="10.8">10<tspan dx="2.6" dy="-5.2" font-size="8.2">2</tspan></text><text x="801.62" y="1259.5" font-size="10.8">10<tspan dx="2.6" dy="-5.2" font-size="8.2">3</tspan></text><text x="836.1" y="1259.5" font-size="10.8">10<tspan dx="2.6" dy="-5.2" font-size="8.2">3.5</tspan></text><text x="744.35" y="1278.1" text-anchor="middle" font-size="11.2">FITC-A</text><text x="607.2" y="1134.3" transform="rotate(-90 607.2 1134.3)" text-anchor="middle" font-size="11.6" xml:space="preserve">Count  (%)</text><text x="742.85" y="1022.1" text-anchor="middle" font-size="11.6">WT / <tspan fill="#e02f33" stroke="#e02f33">E1</tspan></text>
</g>
</g>
<g>
<path d="M995.21 1239.3 L996.62 1238.75 L998.03 1238.48 L999.44 1237.72 L1000.85 1237.25 L1002.26 1235.77 L1003.67 1234.43 L1005.08 1232.02 L1006.49 1230.8 L1007.9 1228.79 L1009.3 1225.96 L1010.71 1223.15 L1012.12 1221.45 L1013.53 1220.33 L1014.94 1213.58 L1016.35 1206.24 L1018.47 1185.1 L1020.58 1182.28 L1021.99 1176.95 L1023.4 1171 L1024.81 1149.86 L1026.22 1142.76 L1027.63 1135.76 L1029.04 1124.84 L1030.45 1114.62 L1031.86 1109.66 L1033.27 1104.75 L1034.68 1095.16 L1036.09 1086.43 L1037.5 1075.45 L1038.9 1065.29 L1040.31 1059.57 L1041.72 1054.01 L1043.13 1051.45 L1044.54 1049.78 L1045.95 1052.54 L1047.36 1055.42 L1048.77 1058.95 L1050.18 1062.47 L1051.59 1066.89 L1053 1072.33 L1054.41 1079.53 L1055.82 1086.43 L1057.23 1093.02 L1058.64 1100.52 L1060.05 1107.83 L1061.46 1114.62 L1062.87 1125.5 L1064.28 1135.76 L1065.69 1146.35 L1067.1 1156.9 L1068.5 1166.99 L1069.91 1178.05 L1071.32 1185.1 L1072.73 1192.14 L1074.14 1197.65 L1075.55 1203.42 L1076.96 1208.61 L1078.37 1212.42 L1079.78 1217.51 L1081.19 1220.73 L1082.6 1223.7 L1084.01 1225.97 L1085.42 1228.11 L1086.83 1230.08 L1088.24 1231.61 L1089.65 1232.68 L1091.06 1234.96 L1092.47 1235.84 L1093.88 1236.53 L1095.29 1237.75 L1096.7 1237.95 L1098.1 1238.59 L1099.51 1237.94 L1100.92 1238.8 L1102.33 1238.66 L1103.74 1239.3 L1105.15 1238.53 L1106.56 1239.02 L1107.97 1239.36 L1107.97 1239.3 L995.21 1239.3 Z" fill="#f04040" fill-opacity="0.11" stroke="none"/>
<path d="M919.1 1239.3 L920.5 1239.3 L921.91 1238.7 L923.32 1239.3 L924.73 1238.55 L926.14 1239 L927.55 1238.12 L928.96 1238.38 L930.37 1238.7 L931.78 1237.77 L933.19 1237.95 L934.6 1237.34 L936.01 1237.25 L937.42 1236.7 L938.83 1236.03 L940.24 1235.84 L941.65 1235.84 L943.06 1234.94 L944.47 1235.26 L945.88 1234.45 L947.29 1233.72 L948.7 1233.45 L950.1 1231.95 L951.51 1231.61 L952.92 1230.98 L954.33 1229.31 L955.74 1228.79 L957.15 1225.07 L958.56 1221.42 L959.97 1217.51 L961.38 1214.54 L962.79 1212.29 L964.2 1209.06 L965.61 1206.3 L967.02 1203.51 L968.43 1200.6 L969.84 1195.38 L971.25 1189.32 L972.66 1183.25 L974.07 1178.05 L975.48 1173.66 L976.89 1168.18 L978.3 1162.69 L979.7 1156.9 L981.82 1142.81 L983.93 1121.67 L985.34 1113.21 L987.46 1086.43 L988.87 1066.7 L990.28 1068.1 L991.69 1063.88 L993.8 1059.65 L995.91 1054.01 L998.03 1053.3 L999.44 1049.08 L1001.55 1055.42 L1003.67 1065.29 L1005.08 1073.74 L1007.19 1076.56 L1009.3 1104.75 L1010.71 1113.09 L1012.12 1121.67 L1013.53 1129.04 L1014.94 1135.76 L1016.35 1149.6 L1017.76 1163.95 L1019.17 1175.06 L1020.58 1185.1 L1021.99 1192.23 L1023.4 1199.19 L1024.81 1204.67 L1026.22 1210.47 L1027.63 1215.69 L1029.04 1220.33 L1030.45 1223.09 L1031.86 1225.97 L1033.27 1226.56 L1034.68 1228.12 L1036.09 1228.79 L1037.5 1229.23 L1038.9 1231.02 L1040.31 1231.61 L1041.72 1232.28 L1043.13 1233.64 L1044.54 1234.43 L1045.95 1235.67 L1047.36 1235.93 L1048.77 1236.72 L1050.18 1237.25 L1051.59 1237.32 L1053 1237.26 L1054.41 1237.58 L1055.82 1237.99 L1057.23 1238.66 L1058.64 1238.89 L1060.05 1238.78 L1061.46 1238.97 L1062.87 1239.3 L1064.28 1238.76 L1065.69 1238.96 L1067.1 1239.36 L1067.1 1239.3 L919.1 1239.3 Z" fill="#3aae6a" fill-opacity="0.12" stroke="none"/>
<path d="M919.1 1239.3 L920.5 1239.3 L921.91 1238.41 L923.32 1238.18 L924.73 1238.36 L926.14 1237.87 L927.55 1237.94 L928.96 1237.58 L930.37 1237.76 L931.78 1237.56 L933.19 1237.25 L934.6 1236.69 L936.01 1236.91 L937.42 1236.52 L938.83 1235.91 L940.24 1236.55 L941.65 1235.84 L943.06 1234.85 L944.47 1234.04 L945.88 1233.28 L947.29 1233.02 L948.7 1232.23 L950.1 1231.55 L951.51 1230.2 L952.92 1229.57 L954.33 1228.21 L955.74 1227.38 L957.15 1222.19 L958.56 1217.51 L960.68 1211.88 L962.79 1214.7 L964.2 1209.93 L965.61 1206.24 L967.02 1203.58 L968.43 1200.6 L969.84 1195.03 L971.25 1189.32 L972.66 1183.52 L974.07 1178.05 L975.48 1172.57 L976.89 1166.77 L978.3 1161.78 L979.7 1156.9 L981.82 1142.81 L983.93 1118.85 L986.05 1125.9 L987.46 1107.57 L988.87 1086.43 L990.28 1096.3 L992.39 1085.02 L994.5 1089.25 L996.62 1076.56 L998.03 1065.29 L999.44 1049.08 L1001.55 1065.29 L1003.67 1086.43 L1005.78 1100.52 L1007.19 1099.11 L1009.3 1121.67 L1010.71 1129.2 L1012.12 1135.76 L1013.53 1146.59 L1014.94 1156.9 L1016.35 1167.2 L1017.76 1178.05 L1019.17 1189.06 L1020.58 1199.19 L1021.99 1205.74 L1023.4 1213.29 L1024.81 1216.84 L1026.22 1220.33 L1027.63 1223.05 L1029.04 1225.97 L1030.45 1227.8 L1031.86 1230.2 L1033.27 1230.65 L1034.68 1232.39 L1036.09 1233.02 L1037.5 1233.42 L1038.9 1234.95 L1040.31 1235.84 L1041.72 1236.85 L1043.13 1236.5 L1044.54 1237.09 L1045.95 1237.95 L1047.36 1238.35 L1048.77 1238.52 L1050.18 1238.95 L1051.59 1239.3 L1053 1239.36 L1053 1239.3 L919.1 1239.3 Z" fill="#6a6a6a" fill-opacity="0.12" stroke="none"/>
<path d="M995.21 1239.3 L996.62 1238.75 L998.03 1238.48 L999.44 1237.72 L1000.85 1237.25 L1002.26 1235.77 L1003.67 1234.43 L1005.08 1232.02 L1006.49 1230.8 L1007.9 1228.79 L1009.3 1225.96 L1010.71 1223.15 L1012.12 1221.45 L1013.53 1220.33 L1014.94 1213.58 L1016.35 1206.24 L1018.47 1185.1 L1020.58 1182.28 L1021.99 1176.95 L1023.4 1171 L1024.81 1149.86 L1026.22 1142.76 L1027.63 1135.76 L1029.04 1124.84 L1030.45 1114.62 L1031.86 1109.66 L1033.27 1104.75 L1034.68 1095.16 L1036.09 1086.43 L1037.5 1075.45 L1038.9 1065.29 L1040.31 1059.57 L1041.72 1054.01 L1043.13 1051.45 L1044.54 1049.78 L1045.95 1052.54 L1047.36 1055.42 L1048.77 1058.95 L1050.18 1062.47 L1051.59 1066.89 L1053 1072.33 L1054.41 1079.53 L1055.82 1086.43 L1057.23 1093.02 L1058.64 1100.52 L1060.05 1107.83 L1061.46 1114.62 L1062.87 1125.5 L1064.28 1135.76 L1065.69 1146.35 L1067.1 1156.9 L1068.5 1166.99 L1069.91 1178.05 L1071.32 1185.1 L1072.73 1192.14 L1074.14 1197.65 L1075.55 1203.42 L1076.96 1208.61 L1078.37 1212.42 L1079.78 1217.51 L1081.19 1220.73 L1082.6 1223.7 L1084.01 1225.97 L1085.42 1228.11 L1086.83 1230.08 L1088.24 1231.61 L1089.65 1232.68 L1091.06 1234.96 L1092.47 1235.84 L1093.88 1236.53 L1095.29 1237.75 L1096.7 1237.95 L1098.1 1238.59 L1099.51 1237.94 L1100.92 1238.8 L1102.33 1238.66 L1103.74 1239.3 L1105.15 1238.53 L1106.56 1239.02 L1107.97 1239.36" fill="none" stroke="#e02f33" stroke-width="1.45" stroke-linejoin="round"/>
<path d="M919.1 1239.3 L920.5 1239.3 L921.91 1238.7 L923.32 1239.3 L924.73 1238.55 L926.14 1239 L927.55 1238.12 L928.96 1238.38 L930.37 1238.7 L931.78 1237.77 L933.19 1237.95 L934.6 1237.34 L936.01 1237.25 L937.42 1236.7 L938.83 1236.03 L940.24 1235.84 L941.65 1235.84 L943.06 1234.94 L944.47 1235.26 L945.88 1234.45 L947.29 1233.72 L948.7 1233.45 L950.1 1231.95 L951.51 1231.61 L952.92 1230.98 L954.33 1229.31 L955.74 1228.79 L957.15 1225.07 L958.56 1221.42 L959.97 1217.51 L961.38 1214.54 L962.79 1212.29 L964.2 1209.06 L965.61 1206.3 L967.02 1203.51 L968.43 1200.6 L969.84 1195.38 L971.25 1189.32 L972.66 1183.25 L974.07 1178.05 L975.48 1173.66 L976.89 1168.18 L978.3 1162.69 L979.7 1156.9 L981.82 1142.81 L983.93 1121.67 L985.34 1113.21 L987.46 1086.43 L988.87 1066.7 L990.28 1068.1 L991.69 1063.88 L993.8 1059.65 L995.91 1054.01 L998.03 1053.3 L999.44 1049.08 L1001.55 1055.42 L1003.67 1065.29 L1005.08 1073.74 L1007.19 1076.56 L1009.3 1104.75 L1010.71 1113.09 L1012.12 1121.67 L1013.53 1129.04 L1014.94 1135.76 L1016.35 1149.6 L1017.76 1163.95 L1019.17 1175.06 L1020.58 1185.1 L1021.99 1192.23 L1023.4 1199.19 L1024.81 1204.67 L1026.22 1210.47 L1027.63 1215.69 L1029.04 1220.33 L1030.45 1223.09 L1031.86 1225.97 L1033.27 1226.56 L1034.68 1228.12 L1036.09 1228.79 L1037.5 1229.23 L1038.9 1231.02 L1040.31 1231.61 L1041.72 1232.28 L1043.13 1233.64 L1044.54 1234.43 L1045.95 1235.67 L1047.36 1235.93 L1048.77 1236.72 L1050.18 1237.25 L1051.59 1237.32 L1053 1237.26 L1054.41 1237.58 L1055.82 1237.99 L1057.23 1238.66 L1058.64 1238.89 L1060.05 1238.78 L1061.46 1238.97 L1062.87 1239.3 L1064.28 1238.76 L1065.69 1238.96 L1067.1 1239.36" fill="none" stroke="#2aae62" stroke-width="1.45" stroke-linejoin="round"/>
<path d="M919.1 1239.3 L920.5 1239.3 L921.91 1238.41 L923.32 1238.18 L924.73 1238.36 L926.14 1237.87 L927.55 1237.94 L928.96 1237.58 L930.37 1237.76 L931.78 1237.56 L933.19 1237.25 L934.6 1236.69 L936.01 1236.91 L937.42 1236.52 L938.83 1235.91 L940.24 1236.55 L941.65 1235.84 L943.06 1234.85 L944.47 1234.04 L945.88 1233.28 L947.29 1233.02 L948.7 1232.23 L950.1 1231.55 L951.51 1230.2 L952.92 1229.57 L954.33 1228.21 L955.74 1227.38 L957.15 1222.19 L958.56 1217.51 L960.68 1211.88 L962.79 1214.7 L964.2 1209.93 L965.61 1206.24 L967.02 1203.58 L968.43 1200.6 L969.84 1195.03 L971.25 1189.32 L972.66 1183.52 L974.07 1178.05 L975.48 1172.57 L976.89 1166.77 L978.3 1161.78 L979.7 1156.9 L981.82 1142.81 L983.93 1118.85 L986.05 1125.9 L987.46 1107.57 L988.87 1086.43 L990.28 1096.3 L992.39 1085.02 L994.5 1089.25 L996.62 1076.56 L998.03 1065.29 L999.44 1049.08 L1001.55 1065.29 L1003.67 1086.43 L1005.78 1100.52 L1007.19 1099.11 L1009.3 1121.67 L1010.71 1129.2 L1012.12 1135.76 L1013.53 1146.59 L1014.94 1156.9 L1016.35 1167.2 L1017.76 1178.05 L1019.17 1189.06 L1020.58 1199.19 L1021.99 1205.74 L1023.4 1213.29 L1024.81 1216.84 L1026.22 1220.33 L1027.63 1223.05 L1029.04 1225.97 L1030.45 1227.8 L1031.86 1230.2 L1033.27 1230.65 L1034.68 1232.39 L1036.09 1233.02 L1037.5 1233.42 L1038.9 1234.95 L1040.31 1235.84 L1041.72 1236.85 L1043.13 1236.5 L1044.54 1237.09 L1045.95 1237.95 L1047.36 1238.35 L1048.77 1238.52 L1050.18 1238.95 L1051.59 1239.3 L1053 1239.36" fill="none" stroke="#111" stroke-width="1.45" stroke-linejoin="round"/>
<rect x="1015.6" y="1041.7" width="23" height="8" fill="#fbe3e3" stroke="#e02f33" stroke-width="1.1"/>
<rect x="1015.6" y="1057.1" width="23" height="8" fill="#dff1e6" stroke="#2aae62" stroke-width="1.1"/>
<rect x="1015.6" y="1071.9" width="23" height="8" fill="#e3e3e3" stroke="#111" stroke-width="1.1"/>
<g font-family='Liberation Sans, Arial, Helvetica, sans-serif' fill="#111111" font-size="11.5" stroke="#111111" stroke-width="0.25">
<text x="1043.9" y="1049.3">WT</text>
<text x="1043.9" y="1064.7">Iso Control</text>
<text x="1043.9" y="1079.5">DKO</text>
</g>
<g stroke="#404040" stroke-width="1.6" fill="none" stroke-linejoin="round">
<rect x="910.6" y="1027.7" width="212.9" height="211.6"/>
<line x1="906.6" y1="1239.3" x2="910.6" y2="1239.3"/><line x1="908.6" y1="1231.64" x2="910.6" y2="1231.64"/><line x1="908.6" y1="1223.98" x2="910.6" y2="1223.98"/><line x1="908.6" y1="1216.32" x2="910.6" y2="1216.32"/><line x1="908.6" y1="1208.66" x2="910.6" y2="1208.66"/><line x1="906.6" y1="1201" x2="910.6" y2="1201"/><line x1="908.6" y1="1193.34" x2="910.6" y2="1193.34"/><line x1="908.6" y1="1185.68" x2="910.6" y2="1185.68"/><line x1="908.6" y1="1178.02" x2="910.6" y2="1178.02"/><line x1="908.6" y1="1170.36" x2="910.6" y2="1170.36"/><line x1="906.6" y1="1162.7" x2="910.6" y2="1162.7"/><line x1="908.6" y1="1155.04" x2="910.6" y2="1155.04"/><line x1="908.6" y1="1147.38" x2="910.6" y2="1147.38"/><line x1="908.6" y1="1139.72" x2="910.6" y2="1139.72"/><line x1="908.6" y1="1132.06" x2="910.6" y2="1132.06"/><line x1="906.6" y1="1124.4" x2="910.6" y2="1124.4"/><line x1="908.6" y1="1116.74" x2="910.6" y2="1116.74"/><line x1="908.6" y1="1109.08" x2="910.6" y2="1109.08"/><line x1="908.6" y1="1101.42" x2="910.6" y2="1101.42"/><line x1="908.6" y1="1093.77" x2="910.6" y2="1093.77"/><line x1="906.6" y1="1086.11" x2="910.6" y2="1086.11"/><line x1="908.6" y1="1078.45" x2="910.6" y2="1078.45"/><line x1="908.6" y1="1070.79" x2="910.6" y2="1070.79"/><line x1="908.6" y1="1063.13" x2="910.6" y2="1063.13"/><line x1="908.6" y1="1055.47" x2="910.6" y2="1055.47"/><line x1="906.6" y1="1047.81" x2="910.6" y2="1047.81"/><line x1="908.6" y1="1040.15" x2="910.6" y2="1040.15"/><line x1="908.6" y1="1032.49" x2="910.6" y2="1032.49"/><line x1="906.6" y1="1027.7" x2="910.6" y2="1027.7"/><line x1="910.6" y1="1239.3" x2="910.6" y2="1243.3"/><line x1="936.24" y1="1239.3" x2="936.24" y2="1241.3"/><line x1="951.23" y1="1239.3" x2="951.23" y2="1241.3"/><line x1="961.87" y1="1239.3" x2="961.87" y2="1241.3"/><line x1="970.12" y1="1239.3" x2="970.12" y2="1241.3"/><line x1="976.87" y1="1239.3" x2="976.87" y2="1241.3"/><line x1="982.57" y1="1239.3" x2="982.57" y2="1241.3"/><line x1="987.51" y1="1239.3" x2="987.51" y2="1241.3"/><line x1="991.86" y1="1239.3" x2="991.86" y2="1241.3"/><line x1="995.76" y1="1239.3" x2="995.76" y2="1243.3"/><line x1="1021.4" y1="1239.3" x2="1021.4" y2="1241.3"/><line x1="1036.39" y1="1239.3" x2="1036.39" y2="1241.3"/><line x1="1047.03" y1="1239.3" x2="1047.03" y2="1241.3"/><line x1="1055.28" y1="1239.3" x2="1055.28" y2="1241.3"/><line x1="1062.03" y1="1239.3" x2="1062.03" y2="1241.3"/><line x1="1067.73" y1="1239.3" x2="1067.73" y2="1241.3"/><line x1="1072.67" y1="1239.3" x2="1072.67" y2="1241.3"/><line x1="1077.02" y1="1239.3" x2="1077.02" y2="1241.3"/><line x1="1080.92" y1="1239.3" x2="1080.92" y2="1243.3"/><line x1="1106.56" y1="1239.3" x2="1106.56" y2="1241.3"/><line x1="1121.55" y1="1239.3" x2="1121.55" y2="1241.3"/><line x1="1123.5" y1="1239.3" x2="1123.5" y2="1243.3"/>
</g>
<g font-family='Liberation Sans, Arial, Helvetica, sans-serif' fill="#111111" stroke="#111111" stroke-width="0.25">
<text x="899.9" y="1239.3" transform="rotate(-90 899.9 1239.3)" text-anchor="middle" font-size="11.3">0</text><text x="899.9" y="1201" transform="rotate(-90 899.9 1201)" text-anchor="middle" font-size="11.3">20</text><text x="899.9" y="1162.7" transform="rotate(-90 899.9 1162.7)" text-anchor="middle" font-size="11.3">40</text><text x="899.9" y="1124.4" transform="rotate(-90 899.9 1124.4)" text-anchor="middle" font-size="11.3">60</text><text x="899.9" y="1086.11" transform="rotate(-90 899.9 1086.11)" text-anchor="middle" font-size="11.3">80</text><text x="899.9" y="1047.81" transform="rotate(-90 899.9 1047.81)" text-anchor="middle" font-size="11.3">100</text><text x="904" y="1259.5" font-size="10.8">10<tspan dx="2.6" dy="-5.2" font-size="8.2">1</tspan></text><text x="989.16" y="1259.5" font-size="10.8">10<tspan dx="2.6" dy="-5.2" font-size="8.2">2</tspan></text><text x="1074.32" y="1259.5" font-size="10.8">10<tspan dx="2.6" dy="-5.2" font-size="8.2">3</tspan></text><text x="1108.8" y="1259.5" font-size="10.8">10<tspan dx="2.6" dy="-5.2" font-size="8.2">3.5</tspan></text><text x="1017.05" y="1278.1" text-anchor="middle" font-size="11.2">FITC-A</text><text x="879.9" y="1134.3" transform="rotate(-90 879.9 1134.3)" text-anchor="middle" font-size="11.6" xml:space="preserve">Count  (%)</text><text x="1015.55" y="1022.1" text-anchor="middle" font-size="11.6">WT / <tspan fill="#e02f33" stroke="#e02f33">E1</tspan></text>
</g>
</g>
<g stroke="#231815" fill="none" stroke-linecap="butt"><path d="M129.5 1523.3 L129.5 1931.8" stroke-width="3.8"/><line x1="117.2" y1="1930" x2="129.5" y2="1930" stroke-width="3.6"/><line x1="117.2" y1="1795.03" x2="129.5" y2="1795.03" stroke-width="3.6"/><line x1="117.2" y1="1660.07" x2="129.5" y2="1660.07" stroke-width="3.6"/><line x1="117.2" y1="1525.1" x2="129.5" y2="1525.1" stroke-width="3.6"/><line x1="117.2" y1="1930" x2="737" y2="1930" stroke-width="3.8" stroke-linecap="round"/><line x1="197.9" y1="1930" x2="197.9" y2="1942.6" stroke-width="3.4"/><line x1="279.9" y1="1930" x2="279.9" y2="1942.6" stroke-width="3.4"/><line x1="361.8" y1="1930" x2="361.8" y2="1942.6" stroke-width="3.4"/><line x1="500" y1="1930" x2="500" y2="1942.6" stroke-width="3.4"/><line x1="582.2" y1="1930" x2="582.2" y2="1942.6" stroke-width="3.4"/><line x1="664" y1="1930" x2="664" y2="1942.6" stroke-width="3.4"/></g><path d="M170.9 1930 L170.9 1577.74 L224.9 1577.74 L224.9 1930" fill="#ffffff" stroke="#231815" stroke-width="5" stroke-linejoin="round"/><path d="M197.9 1577.74 L197.9 1562.62 M184.7 1562.62 L211.1 1562.62" stroke="#231815" stroke-width="5" stroke-linecap="round" fill="none"/><path d="M252.8 1930 L252.8 1870.88 L306.8 1870.88 L306.8 1930" fill="#ffffff" stroke="#231815" stroke-width="5" stroke-linejoin="round"/><path d="M279.8 1870.88 L279.8 1866.84 M266.6 1866.84 L293 1866.84" stroke="#231815" stroke-width="5" stroke-linecap="round" fill="none"/><path d="M334.8 1930 L334.8 1909.76 L388.8 1909.76 L388.8 1930" fill="#ffffff" stroke="#231815" stroke-width="5" stroke-linejoin="round"/><path d="M361.8 1909.76 L361.8 1905.71 M348.6 1905.71 L375 1905.71" stroke="#231815" stroke-width="5" stroke-linecap="round" fill="none"/><path d="M473.2 1930 L473.2 1583.14 L527.2 1583.14 L527.2 1930" fill="#848484" stroke="#231815" stroke-width="5" stroke-linejoin="round"/><path d="M500.2 1583.14 L500.2 1568.83 M487 1568.83 L513.4 1568.83" stroke="#231815" stroke-width="5" stroke-linecap="round" fill="none"/><path d="M555.2 1930 L555.2 1870.88 L609.2 1870.88 L609.2 1930" fill="#848484" stroke="#231815" stroke-width="5" stroke-linejoin="round"/><path d="M582.2 1870.88 L582.2 1862.25 M569 1862.25 L595.4 1862.25" stroke="#231815" stroke-width="5" stroke-linecap="round" fill="none"/><path d="M637 1930 L637 1912.72 L691 1912.72 L691 1930" fill="#848484" stroke="#231815" stroke-width="5" stroke-linejoin="round"/><path d="M664 1912.72 L664 1907.87 M650.8 1907.87 L677.2 1907.87" stroke="#231815" stroke-width="5" stroke-linecap="round" fill="none"/><path d="M197.1 1486.6 L197.1 1509.2 M197.1 1497.9 L369 1497.9 M369 1486.6 L369 1509.2" stroke="#231815" stroke-width="4.8" stroke-linecap="round" fill="none"/><text x="265" y="1500.2" font-size="31" textLength="28" lengthAdjust="spacingAndGlyphs" font-family='Liberation Sans, Arial, Helvetica, sans-serif' fill="#231815">**</text><path d="M198.9 1527.1 L198.9 1549.7 M198.9 1538.4 L287.7 1538.4 M287.7 1527.1 L287.7 1549.7" stroke="#231815" stroke-width="4.8" stroke-linecap="round" fill="none"/><text x="234.1" y="1541.2" font-size="31" textLength="28" lengthAdjust="spacingAndGlyphs" font-family='Liberation Sans, Arial, Helvetica, sans-serif' fill="#231815">**</text><path d="M280.4 1822.9 L280.4 1845.5 M280.4 1834.2 L362.9 1834.2 M362.9 1822.9 L362.9 1845.5" stroke="#231815" stroke-width="4.8" stroke-linecap="round" fill="none"/><text x="308.3" y="1836.8" font-size="31" textLength="28" lengthAdjust="spacingAndGlyphs" font-family='Liberation Sans, Arial, Helvetica, sans-serif' fill="#231815">**</text><path d="M500 1485.6 L500 1508.2 M500 1496.9 L671.6 1496.9 M671.6 1485.6 L671.6 1508.2" stroke="#231815" stroke-width="4.8" stroke-linecap="round" fill="none"/><text x="569.6" y="1502.3" font-size="31" textLength="28" lengthAdjust="spacingAndGlyphs" font-family='Liberation Sans, Arial, Helvetica, sans-serif' fill="#231815">**</text><path d="M500 1534 L500 1556.6 M500 1545.3 L588.9 1545.3 M588.9 1534 L588.9 1556.6" stroke="#231815" stroke-width="4.8" stroke-linecap="round" fill="none"/><text x="531.4" y="1551.1" font-size="31" textLength="28" lengthAdjust="spacingAndGlyphs" font-family='Liberation Sans, Arial, Helvetica, sans-serif' fill="#231815">**</text><path d="M584.6 1826.3 L584.6 1848.9 M584.6 1837.6 L667.5 1837.6 M667.5 1826.3 L667.5 1848.9" stroke="#231815" stroke-width="4.8" stroke-linecap="round" fill="none"/><text x="614.1" y="1841.8" font-size="31" textLength="28" lengthAdjust="spacingAndGlyphs" font-family='Liberation Sans, Arial, Helvetica, sans-serif' fill="#231815">**</text>
<g stroke="#231815" fill="none" stroke-linecap="butt"><path d="M937.4 1521 L937.4 1931.2" stroke-width="3.8"/><line x1="925.1" y1="1929.4" x2="937.4" y2="1929.4" stroke-width="3.6"/><line x1="925.1" y1="1827.75" x2="937.4" y2="1827.75" stroke-width="3.6"/><line x1="925.1" y1="1726.1" x2="937.4" y2="1726.1" stroke-width="3.6"/><line x1="925.1" y1="1624.45" x2="937.4" y2="1624.45" stroke-width="3.6"/><line x1="925.1" y1="1522.8" x2="937.4" y2="1522.8" stroke-width="3.6"/><line x1="925.1" y1="1929.4" x2="1542" y2="1929.4" stroke-width="3.8" stroke-linecap="round"/><line x1="1005.2" y1="1929.4" x2="1005.2" y2="1942" stroke-width="3.4"/><line x1="1087.3" y1="1929.4" x2="1087.3" y2="1942" stroke-width="3.4"/><line x1="1169.2" y1="1929.4" x2="1169.2" y2="1942" stroke-width="3.4"/><line x1="1307.4" y1="1929.4" x2="1307.4" y2="1942" stroke-width="3.4"/><line x1="1389.3" y1="1929.4" x2="1389.3" y2="1942" stroke-width="3.4"/><line x1="1471.3" y1="1929.4" x2="1471.3" y2="1942" stroke-width="3.4"/></g><path d="M978.3 1929.4 L978.3 1624.25 L1032.3 1624.25 L1032.3 1929.4" fill="#ffffff" stroke="#231815" stroke-width="5" stroke-linejoin="round"/><path d="M1005.3 1624.25 L1005.3 1608.19 M992.1 1608.19 L1018.5 1608.19" stroke="#231815" stroke-width="5" stroke-linecap="round" fill="none"/><path d="M1060.6 1929.4 L1060.6 1870.65 L1114.6 1870.65 L1114.6 1929.4" fill="#ffffff" stroke="#231815" stroke-width="5" stroke-linejoin="round"/><path d="M1087.6 1870.65 L1087.6 1859.46 M1074.4 1859.46 L1100.8 1859.46" stroke="#231815" stroke-width="5" stroke-linecap="round" fill="none"/><path d="M1142.2 1929.4 L1142.2 1909.68 L1196.2 1909.68 L1196.2 1929.4" fill="#ffffff" stroke="#231815" stroke-width="5" stroke-linejoin="round"/><path d="M1169.2 1909.68 L1169.2 1904.8 M1156 1904.8 L1182.4 1904.8" stroke="#231815" stroke-width="5" stroke-linecap="round" fill="none"/><path d="M1280.2 1929.4 L1280.2 1627.91 L1334.2 1627.91 L1334.2 1929.4" fill="#848484" stroke="#231815" stroke-width="5" stroke-linejoin="round"/><path d="M1307.2 1627.91 L1307.2 1612.05 M1294 1612.05 L1320.4 1612.05" stroke="#231815" stroke-width="5" stroke-linecap="round" fill="none"/><path d="M1362 1929.4 L1362 1875.12 L1416 1875.12 L1416 1929.4" fill="#848484" stroke="#231815" stroke-width="5" stroke-linejoin="round"/><path d="M1389 1875.12 L1389 1868 M1375.8 1868 L1402.2 1868" stroke="#231815" stroke-width="5" stroke-linecap="round" fill="none"/><path d="M1444.4 1929.4 L1444.4 1909.48 L1498.4 1909.48 L1498.4 1929.4" fill="#848484" stroke="#231815" stroke-width="5" stroke-linejoin="round"/><path d="M1471.4 1909.48 L1471.4 1902.36 M1458.2 1902.36 L1484.6 1902.36" stroke="#231815" stroke-width="5" stroke-linecap="round" fill="none"/><path d="M1005.2 1525.3 L1005.2 1547.9 M1005.2 1536.6 L1176.4 1536.6 M1176.4 1525.3 L1176.4 1547.9" stroke="#231815" stroke-width="4.8" stroke-linecap="round" fill="none"/><text x="1072.2" y="1538.5" font-size="31" textLength="28" lengthAdjust="spacingAndGlyphs" font-family='Liberation Sans, Arial, Helvetica, sans-serif' fill="#231815">**</text><path d="M1007.1 1565.5 L1007.1 1588.1 M1007.1 1576.8 L1095.7 1576.8 M1095.7 1565.5 L1095.7 1588.1" stroke="#231815" stroke-width="4.8" stroke-linecap="round" fill="none"/><text x="1041.7" y="1579.8" font-size="31" textLength="28" lengthAdjust="spacingAndGlyphs" font-family='Liberation Sans, Arial, Helvetica, sans-serif' fill="#231815">**</text><path d="M1087.9 1821.7 L1087.9 1844.3 M1087.9 1833 L1170.2 1833 M1170.2 1821.7 L1170.2 1844.3" stroke="#231815" stroke-width="4.8" stroke-linecap="round" fill="none"/><text x="1117.4" y="1836.7" font-size="31" textLength="28" lengthAdjust="spacingAndGlyphs" font-family='Liberation Sans, Arial, Helvetica, sans-serif' fill="#231815">**</text><path d="M1307.4 1524.6 L1307.4 1547.2 M1307.4 1535.9 L1478.9 1535.9 M1478.9 1524.6 L1478.9 1547.2" stroke="#231815" stroke-width="4.8" stroke-linecap="round" fill="none"/><text x="1377.3" y="1539" font-size="31" textLength="28" lengthAdjust="spacingAndGlyphs" font-family='Liberation Sans, Arial, Helvetica, sans-serif' fill="#231815">**</text><path d="M1307.4 1573.7 L1307.4 1596.3 M1307.4 1585 L1396.1 1585 M1396.1 1573.7 L1396.1 1596.3" stroke="#231815" stroke-width="4.8" stroke-linecap="round" fill="none"/><text x="1338.9" y="1588.3" font-size="31" textLength="28" lengthAdjust="spacingAndGlyphs" font-family='Liberation Sans, Arial, Helvetica, sans-serif' fill="#231815">**</text><path d="M1392.7 1825.2 L1392.7 1847.8 M1392.7 1836.5 L1475.4 1836.5 M1475.4 1825.2 L1475.4 1847.8" stroke="#231815" stroke-width="4.8" stroke-linecap="round" fill="none"/><text x="1421.9" y="1839.7" font-size="31" textLength="28" lengthAdjust="spacingAndGlyphs" font-family='Liberation Sans, Arial, Helvetica, sans-serif' fill="#231815">**</text>
<g font-family='Liberation Sans, Arial, Helvetica, sans-serif' fill="#231815" stroke="#231815" stroke-width="0.3">
<text x="251.7" y="1426.3" stroke-width="0" font-size="38" textLength="196.6" lengthAdjust="spacingAndGlyphs">IgG binding</text>
<text x="1060.5" y="1427.9" stroke-width="0" font-size="37.2" textLength="198" lengthAdjust="spacingAndGlyphs">IgM binding</text>
<rect x="601.85" y="1400.85" width="43.2" height="22" rx="2" fill="#fff" stroke="#231815" stroke-width="5.6"/>
<rect x="601.85" y="1448.25" width="43.2" height="21" rx="2" fill="#848484" stroke="#231815" stroke-width="5.6"/>
<text x="669" y="1423.2" font-size="33.5" textLength="94.4" lengthAdjust="spacingAndGlyphs">RMEC</text>
<text x="670.2" y="1469.5" font-size="33">AEC</text>
<rect x="1410.65" y="1389.65" width="42.9" height="22.9" rx="2" fill="#fff" stroke="#231815" stroke-width="5.1"/>
<rect x="1412.45" y="1443.95" width="42.9" height="22.9" rx="2" fill="#848484" stroke="#231815" stroke-width="5.1"/>
<text x="1476.6" y="1412.1" font-size="33.5" textLength="95.6" lengthAdjust="spacingAndGlyphs">RMEC</text>
<text x="1479.6" y="1466.6" font-size="33">AEC</text>
<text x="113" y="1940.2" text-anchor="end" font-size="29.4" font-weight="bold">0</text>
<text x="113" y="1805.23" text-anchor="end" font-size="29.4" font-weight="bold">500</text>
<text x="113" y="1670.27" text-anchor="end" font-size="29.4" font-weight="bold">1000</text>
<text x="113" y="1535.3" text-anchor="end" font-size="29.4" font-weight="bold">1500</text>
<text x="920.9" y="1940.4" text-anchor="end" font-size="29.4" font-weight="bold">0</text>
<text x="920.9" y="1838.75" text-anchor="end" font-size="29.4" font-weight="bold">500</text>
<text x="920.9" y="1737.1" text-anchor="end" font-size="29.4" font-weight="bold">1000</text>
<text x="920.9" y="1635.45" text-anchor="end" font-size="29.4" font-weight="bold">1500</text>
<text x="920.9" y="1533.8" text-anchor="end" font-size="29.4" font-weight="bold">2000</text>
<text x="27.9" y="1722.2" transform="rotate(-90 27.9 1722.2)" text-anchor="middle" font-size="33" font-weight="bold" textLength="54" lengthAdjust="spacingAndGlyphs">MFI</text>
<text x="837" y="1720.6" transform="rotate(-90 837 1720.6)" text-anchor="middle" font-size="33" font-weight="bold" textLength="54" lengthAdjust="spacingAndGlyphs">MFI</text>
<text x="203.9" y="1978" transform="rotate(-24.5 203.9 1978)" text-anchor="end" font-size="30.5" font-weight="bold">WT</text>
<text x="286.9" y="1978" transform="rotate(-24.5 286.9 1978)" text-anchor="end" font-size="30.5" font-weight="bold">GTKO</text>
<text x="368.8" y="1978" transform="rotate(-24.5 368.8 1978)" text-anchor="end" font-size="30.5" font-weight="bold">GGTA1/CMAH-DKO</text>
<text x="506" y="1978" transform="rotate(-24.5 506 1978)" text-anchor="end" font-size="30.5" font-weight="bold">WT</text>
<text x="589.2" y="1978" transform="rotate(-24.5 589.2 1978)" text-anchor="end" font-size="30.5" font-weight="bold">GTKO</text>
<text x="671" y="1978" transform="rotate(-24.5 671 1978)" text-anchor="end" font-size="30.5" font-weight="bold">GGTA1/CMAH-DKO</text>
<text x="1011.2" y="1978" transform="rotate(-24.5 1011.2 1978)" text-anchor="end" font-size="30.5" font-weight="bold">WT</text>
<text x="1094.3" y="1978" transform="rotate(-24.5 1094.3 1978)" text-anchor="end" font-size="30.5" font-weight="bold">GTKO</text>
<text x="1176.2" y="1978" transform="rotate(-24.5 1176.2 1978)" text-anchor="end" font-size="30.5" font-weight="bold">GGTA1/CMAH-DKO</text>
<text x="1313.4" y="1978" transform="rotate(-24.5 1313.4 1978)" text-anchor="end" font-size="30.5" font-weight="bold">WT</text>
<text x="1396.3" y="1978" transform="rotate(-24.5 1396.3 1978)" text-anchor="end" font-size="30.5" font-weight="bold">GTKO</text>
<text x="1478.3" y="1978" transform="rotate(-24.5 1478.3 1978)" text-anchor="end" font-size="30.5" font-weight="bold">GGTA1/CMAH-DKO</text>
</g>
<circle cx="199.6" cy="490.6" r="1.1" fill="#b8b8b8"/>
</svg></body></html>
